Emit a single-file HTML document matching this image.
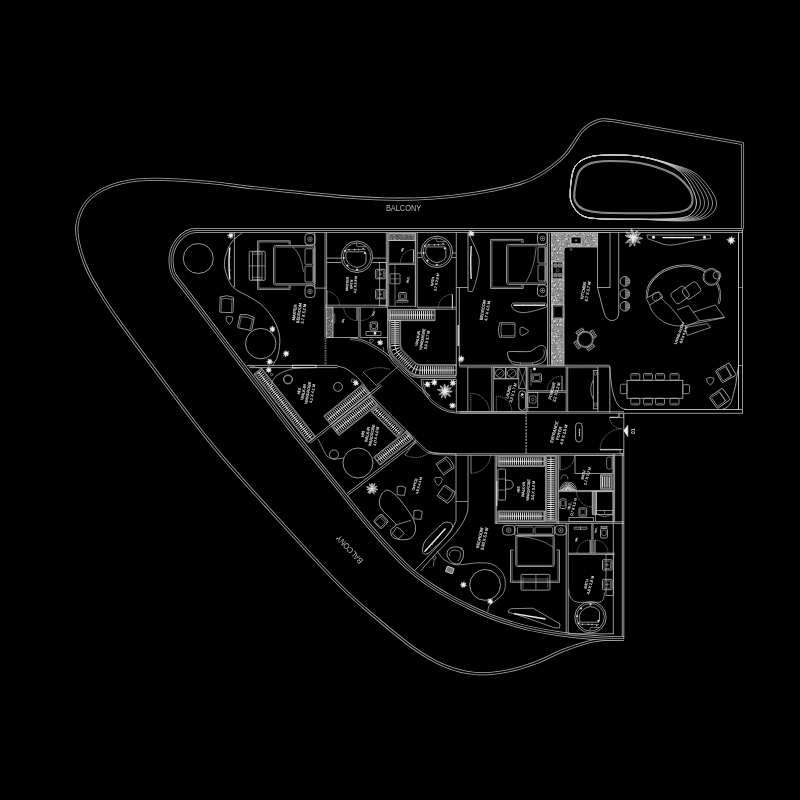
<!DOCTYPE html><html><head><meta charset="utf-8"><style>html,body{margin:0;padding:0;background:#000;width:800px;height:800px;overflow:hidden}svg{display:block;will-change:transform}</style></head><body><svg width="800" height="800" viewBox="0 0 800 800" font-family="Liberation Sans, sans-serif"><path d="M623.00,638.60 C618.33,638.93 604.67,638.73 595.00,640.60 C585.33,642.47 575.00,646.07 565.00,649.80 C555.00,653.53 545.00,659.38 535.00,663.00 C525.00,666.62 515.00,669.75 505.00,671.50 C495.00,673.25 485.00,674.42 475.00,673.50 C465.00,672.58 455.00,670.08 445.00,666.00 C435.00,661.92 426.25,656.83 415.00,649.00 C403.75,641.17 390.00,629.58 377.50,619.00 C365.00,608.42 356.42,602.00 340.00,585.50 C323.58,569.00 300.33,543.50 279.00,520.00 C257.67,496.50 233.83,471.08 212.00,444.50 C190.17,417.92 163.50,381.08 148.00,360.50 C132.50,339.92 126.42,331.42 119.00,321.00 C111.58,310.58 108.75,306.50 103.50,298.00 C98.25,289.50 91.67,279.17 87.50,270.00 C83.33,260.83 80.25,250.50 78.50,243.00 C76.75,235.50 76.12,231.17 77.00,225.00 C77.88,218.83 80.33,211.42 83.75,206.00 C87.17,200.58 91.04,196.42 97.50,192.50 C103.96,188.58 112.92,184.71 122.50,182.50 C132.08,180.29 140.42,179.25 155.00,179.25 C169.58,179.25 194.17,181.14 210.00,182.50 C225.83,183.86 235.83,185.82 250.00,187.40 C264.17,188.98 280.00,190.50 295.00,192.00 C310.00,193.50 325.00,195.23 340.00,196.40 C355.00,197.57 370.00,198.70 385.00,199.00 C400.00,199.30 415.00,199.16 430.00,198.20 C445.00,197.24 460.00,195.72 475.00,193.25 C490.00,190.78 508.75,186.78 520.00,183.40 C531.25,180.03 535.00,177.73 542.50,173.00 C550.00,168.27 558.25,162.17 565.00,155.00 C571.75,147.83 577.38,135.75 583.00,130.00 C588.62,124.25 594.00,122.08 598.75,120.50 C603.50,118.92 607.62,120.22 611.50,120.50 C615.38,120.78 620.25,121.92 622.00,122.20 L742.5,143.5 L742.5,229" stroke="#acacac" stroke-width="3.0999999999999996" fill="none" stroke-linejoin="round"/>
<path d="M623.00,638.60 C618.33,638.93 604.67,638.73 595.00,640.60 C585.33,642.47 575.00,646.07 565.00,649.80 C555.00,653.53 545.00,659.38 535.00,663.00 C525.00,666.62 515.00,669.75 505.00,671.50 C495.00,673.25 485.00,674.42 475.00,673.50 C465.00,672.58 455.00,670.08 445.00,666.00 C435.00,661.92 426.25,656.83 415.00,649.00 C403.75,641.17 390.00,629.58 377.50,619.00 C365.00,608.42 356.42,602.00 340.00,585.50 C323.58,569.00 300.33,543.50 279.00,520.00 C257.67,496.50 233.83,471.08 212.00,444.50 C190.17,417.92 163.50,381.08 148.00,360.50 C132.50,339.92 126.42,331.42 119.00,321.00 C111.58,310.58 108.75,306.50 103.50,298.00 C98.25,289.50 91.67,279.17 87.50,270.00 C83.33,260.83 80.25,250.50 78.50,243.00 C76.75,235.50 76.12,231.17 77.00,225.00 C77.88,218.83 80.33,211.42 83.75,206.00 C87.17,200.58 91.04,196.42 97.50,192.50 C103.96,188.58 112.92,184.71 122.50,182.50 C132.08,180.29 140.42,179.25 155.00,179.25 C169.58,179.25 194.17,181.14 210.00,182.50 C225.83,183.86 235.83,185.82 250.00,187.40 C264.17,188.98 280.00,190.50 295.00,192.00 C310.00,193.50 325.00,195.23 340.00,196.40 C355.00,197.57 370.00,198.70 385.00,199.00 C400.00,199.30 415.00,199.16 430.00,198.20 C445.00,197.24 460.00,195.72 475.00,193.25 C490.00,190.78 508.75,186.78 520.00,183.40 C531.25,180.03 535.00,177.73 542.50,173.00 C550.00,168.27 558.25,162.17 565.00,155.00 C571.75,147.83 577.38,135.75 583.00,130.00 C588.62,124.25 594.00,122.08 598.75,120.50 C603.50,118.92 607.62,120.22 611.50,120.50 C615.38,120.78 620.25,121.92 622.00,122.20 L742.5,143.5 L742.5,229" stroke="#000" stroke-width="1.4999999999999998" fill="none" stroke-linejoin="round"/>
<text transform="translate(403.50 208.60) rotate(0) scale(0.9 1)" font-size="8.2" fill="#bcbcbc" stroke="#bcbcbc" stroke-width="0" text-anchor="middle"><tspan x="0" y="2.87">BALCONY</tspan></text>
<text transform="translate(349.50 549.50) rotate(-133) scale(0.9 1)" font-size="8.2" fill="#bcbcbc" stroke="#bcbcbc" stroke-width="0" text-anchor="middle"><tspan x="0" y="2.87">BALCONY</tspan></text>
<path d="M574.40,192.50 C574.98,187.50 576.40,176.83 579.00,172.00 C581.60,167.17 585.04,165.35 590.00,163.50 C594.96,161.65 600.42,160.98 608.75,160.90 C617.08,160.82 629.46,160.94 640.00,163.00 C650.54,165.06 664.17,169.42 672.00,173.25 C679.83,177.08 683.58,181.88 687.00,186.00 C690.42,190.12 692.17,194.33 692.50,198.00 C692.83,201.67 691.92,205.58 689.00,208.00 C686.08,210.42 683.17,211.63 675.00,212.50 C666.83,213.37 652.50,213.20 640.00,213.20 C627.50,213.20 609.50,213.20 600.00,212.50 C590.50,211.80 587.08,210.75 583.00,209.00 C578.92,207.25 576.93,204.75 575.50,202.00 C574.07,199.25 573.82,197.50 574.40,192.50Z" stroke="#9a9a9a" stroke-width="2.0" fill="none" />
<path d="M574.40,192.50 C574.98,187.50 576.40,176.83 579.00,172.00 C581.60,167.17 585.04,165.35 590.00,163.50 C594.96,161.65 600.42,160.98 608.75,160.90 C617.08,160.82 629.46,160.94 640.00,163.00 C650.54,165.06 664.17,169.42 672.00,173.25 C679.83,177.08 683.58,181.88 687.00,186.00 C690.42,190.12 692.17,194.33 692.50,198.00 C692.83,201.67 691.92,205.58 689.00,208.00 C686.08,210.42 683.17,211.63 675.00,212.50 C666.83,213.37 652.50,213.20 640.00,213.20 C627.50,213.20 609.50,213.20 600.00,212.50 C590.50,211.80 587.08,210.75 583.00,209.00 C578.92,207.25 576.93,204.75 575.50,202.00 C574.07,199.25 573.82,197.50 574.40,192.50Z" stroke="#5a5a5a" stroke-width="0.5" fill="none" />
<path d="M570.30,190.00 C570.72,183.92 571.55,172.92 574.50,167.50 C577.45,162.08 582.29,159.58 588.00,157.50 C593.71,155.42 600.08,155.17 608.75,155.00 C617.42,154.83 629.79,154.75 640.00,156.50 C650.21,158.25 662.33,161.92 670.00,165.50 C677.67,169.08 681.67,172.42 686.00,178.00 C690.33,183.58 694.83,193.33 696.00,199.00 C697.17,204.67 695.67,208.83 693.00,212.00 C690.33,215.17 688.83,216.78 680.00,218.00 C671.17,219.22 653.33,219.17 640.00,219.30 C626.67,219.43 609.67,219.43 600.00,218.80 C590.33,218.17 586.67,217.97 582.00,215.50 C577.33,213.03 573.95,208.25 572.00,204.00 C570.05,199.75 569.88,196.08 570.30,190.00Z" stroke="#e6e6e6" stroke-width="0.9" fill="none" />
<path d="M570.30,190.00 C570.72,183.92 571.55,172.92 574.50,167.50 C577.45,162.08 582.29,159.58 588.00,157.50 C593.71,155.42 600.08,155.17 608.75,155.00 C617.42,154.83 629.74,154.80 640.00,156.50 C650.26,158.20 662.29,161.74 670.33,165.22 C678.38,168.70 683.33,171.72 688.27,177.37 C693.22,183.03 698.65,193.26 699.99,199.14 C701.33,205.03 699.42,209.44 696.32,212.68 C693.23,215.92 690.80,217.47 681.41,218.57 C672.02,219.67 653.57,219.26 640.00,219.30 C626.43,219.34 609.67,219.43 600.00,218.80 C590.33,218.17 586.67,217.97 582.00,215.50 C577.33,213.03 573.95,208.25 572.00,204.00 C570.05,199.75 569.88,196.08 570.30,190.00Z" stroke="#cfcfcf" stroke-width="0.7" fill="none" />
<path d="M570.30,190.00 C570.72,183.92 571.55,172.92 574.50,167.50 C577.45,162.08 582.29,159.58 588.00,157.50 C593.71,155.42 600.08,155.17 608.75,155.00 C617.42,154.83 629.68,154.84 640.00,156.50 C650.32,158.16 662.24,161.56 670.67,164.94 C679.09,168.31 685.00,171.02 690.55,176.75 C696.10,182.47 702.47,193.18 703.98,199.29 C705.50,205.39 703.18,210.05 699.65,213.36 C696.12,216.67 692.76,218.15 682.82,219.14 C672.88,220.13 653.80,219.36 640.00,219.30 C626.20,219.24 609.67,219.43 600.00,218.80 C590.33,218.17 586.67,217.97 582.00,215.50 C577.33,213.03 573.95,208.25 572.00,204.00 C570.05,199.75 569.88,196.08 570.30,190.00Z" stroke="#cfcfcf" stroke-width="0.7" fill="none" />
<path d="M570.30,190.00 C570.72,183.92 571.55,172.92 574.50,167.50 C577.45,162.08 582.29,159.58 588.00,157.50 C593.71,155.42 600.08,155.17 608.75,155.00 C617.42,154.83 629.62,154.89 640.00,156.50 C650.38,158.11 662.20,161.39 671.00,164.66 C679.81,167.93 686.66,170.33 692.82,176.12 C698.99,181.92 706.28,193.11 707.97,199.43 C709.67,205.75 706.93,210.66 702.97,214.04 C699.02,217.42 694.73,218.83 684.23,219.71 C673.74,220.58 654.04,219.45 640.00,219.30 C625.96,219.15 609.67,219.43 600.00,218.80 C590.33,218.17 586.67,217.97 582.00,215.50 C577.33,213.03 573.95,208.25 572.00,204.00 C570.05,199.75 569.88,196.08 570.30,190.00Z" stroke="#cfcfcf" stroke-width="0.7" fill="none" />
<path d="M570.30,190.00 C570.72,183.92 571.55,172.92 574.50,167.50 C577.45,162.08 582.29,159.58 588.00,157.50 C593.71,155.42 600.08,155.17 608.75,155.00 C617.42,154.83 629.57,154.94 640.00,156.50 C650.43,158.06 662.15,161.21 671.34,164.38 C680.52,167.54 688.33,169.63 695.10,175.50 C701.87,181.36 710.10,193.04 711.97,199.57 C713.83,206.11 710.69,211.27 706.30,214.72 C701.91,218.17 696.69,219.51 685.64,220.28 C674.59,221.04 654.27,219.55 640.00,219.30 C625.73,219.05 609.67,219.43 600.00,218.80 C590.33,218.17 586.67,217.97 582.00,215.50 C577.33,213.03 573.95,208.25 572.00,204.00 C570.05,199.75 569.88,196.08 570.30,190.00Z" stroke="#cfcfcf" stroke-width="0.7" fill="none" />
<path d="M570.30,190.00 C570.72,183.92 571.55,172.92 574.50,167.50 C577.45,162.08 582.29,159.58 588.00,157.50 C593.71,155.42 600.08,155.17 608.75,155.00 C617.42,154.83 629.51,154.98 640.00,156.50 C650.49,158.02 662.11,161.04 671.67,164.10 C681.23,167.16 689.99,168.94 697.37,174.87 C704.76,180.81 713.92,192.96 715.96,199.72 C718.00,206.47 714.44,211.88 709.62,215.40 C704.81,218.92 698.66,220.20 687.06,220.85 C675.45,221.50 654.51,219.64 640.00,219.30 C625.49,218.96 609.67,219.43 600.00,218.80 C590.33,218.17 586.67,217.97 582.00,215.50 C577.33,213.03 573.95,208.25 572.00,204.00 C570.05,199.75 569.88,196.08 570.30,190.00Z" stroke="#cfcfcf" stroke-width="0.7" fill="none" />
<path d="M742.5,230.5 L196,230.5 C183,230.5 171,245 171,260 C171,266 172,271 174.5,276  C177.58,280.00 183.75,287.83 193.00,300.00 C202.25,312.17 218.50,333.83 230.00,349.00 C241.50,364.17 252.00,377.83 262.00,391.00 C272.00,404.17 281.00,416.50 290.00,428.00 C299.00,439.50 307.50,449.50 316.00,460.00 C324.50,470.50 332.00,479.83 341.00,491.00 C350.00,502.17 361.83,517.25 370.00,527.00 C378.17,536.75 383.33,542.42 390.00,549.50 C396.67,556.58 403.33,563.62 410.00,569.50 C416.67,575.38 423.33,580.22 430.00,584.80 C436.67,589.38 443.33,593.27 450.00,597.00 C456.67,600.73 463.33,604.00 470.00,607.20 C476.67,610.40 483.33,613.57 490.00,616.20 C496.67,618.83 503.33,620.95 510.00,623.00 C516.67,625.05 521.67,626.70 530.00,628.50 C538.33,630.30 548.33,632.25 560.00,633.80 C571.67,635.35 589.33,637.02 600.00,637.80 C610.67,638.58 620.00,638.38 624.00,638.50" stroke="#bcbcbc" stroke-width="4.85" fill="none" stroke-linejoin="round"/>
<path d="M742.5,230.5 L196,230.5 C183,230.5 171,245 171,260 C171,266 172,271 174.5,276  C177.58,280.00 183.75,287.83 193.00,300.00 C202.25,312.17 218.50,333.83 230.00,349.00 C241.50,364.17 252.00,377.83 262.00,391.00 C272.00,404.17 281.00,416.50 290.00,428.00 C299.00,439.50 307.50,449.50 316.00,460.00 C324.50,470.50 332.00,479.83 341.00,491.00 C350.00,502.17 361.83,517.25 370.00,527.00 C378.17,536.75 383.33,542.42 390.00,549.50 C396.67,556.58 403.33,563.62 410.00,569.50 C416.67,575.38 423.33,580.22 430.00,584.80 C436.67,589.38 443.33,593.27 450.00,597.00 C456.67,600.73 463.33,604.00 470.00,607.20 C476.67,610.40 483.33,613.57 490.00,616.20 C496.67,618.83 503.33,620.95 510.00,623.00 C516.67,625.05 521.67,626.70 530.00,628.50 C538.33,630.30 548.33,632.25 560.00,633.80 C571.67,635.35 589.33,637.02 600.00,637.80 C610.67,638.58 620.00,638.38 624.00,638.50" stroke="#000" stroke-width="3.3499999999999996" fill="none" stroke-linejoin="round"/>
<path d="M742.5,230.5 L196,230.5 C183,230.5 171,245 171,260 C171,266 172,271 174.5,276  C177.58,280.00 183.75,287.83 193.00,300.00 C202.25,312.17 218.50,333.83 230.00,349.00 C241.50,364.17 252.00,377.83 262.00,391.00 C272.00,404.17 281.00,416.50 290.00,428.00 C299.00,439.50 307.50,449.50 316.00,460.00 C324.50,470.50 332.00,479.83 341.00,491.00 C350.00,502.17 361.83,517.25 370.00,527.00 C378.17,536.75 383.33,542.42 390.00,549.50 C396.67,556.58 403.33,563.62 410.00,569.50 C416.67,575.38 423.33,580.22 430.00,584.80 C436.67,589.38 443.33,593.27 450.00,597.00 C456.67,600.73 463.33,604.00 470.00,607.20 C476.67,610.40 483.33,613.57 490.00,616.20 C496.67,618.83 503.33,620.95 510.00,623.00 C516.67,625.05 521.67,626.70 530.00,628.50 C538.33,630.30 548.33,632.25 560.00,633.80 C571.67,635.35 589.33,637.02 600.00,637.80 C610.67,638.58 620.00,638.38 624.00,638.50" stroke="#bcbcbc" stroke-width="0.75" fill="none" stroke-linejoin="round"/>
<line x1="742.50" y1="229.00" x2="742.50" y2="413.50" stroke="#bcbcbc" stroke-width="0.8"/>
<line x1="738.50" y1="232.50" x2="738.50" y2="409.50" stroke="#bcbcbc" stroke-width="1.0"/>
<line x1="624.00" y1="409.50" x2="742.50" y2="409.50" stroke="#bcbcbc" stroke-width="0.8"/>
<line x1="624.00" y1="413.30" x2="742.50" y2="413.30" stroke="#bcbcbc" stroke-width="0.8"/>
<line x1="623.80" y1="413.00" x2="623.80" y2="639.00" stroke="#bcbcbc" stroke-width="0.8"/>
<line x1="622.30" y1="453.80" x2="622.30" y2="636.00" stroke="#bcbcbc" stroke-width="0.8"/>
<circle cx="198.30" cy="258.50" r="15.00" stroke="#bcbcbc" stroke-width="0.8" fill="none"/>
<path d="M242.60,232.50 C240.67,234.25 234.02,238.22 231.00,243.00 C227.98,247.78 225.17,255.70 224.50,261.20 C223.83,266.70 225.35,271.47 227.00,276.00 C228.65,280.53 230.45,284.82 234.40,288.40 C238.35,291.98 245.87,294.48 250.70,297.50 C255.53,300.52 259.47,302.58 263.40,306.50 C267.33,310.42 271.58,315.87 274.30,321.00 C277.02,326.13 279.10,331.57 279.70,337.30 C280.30,343.03 279.10,350.70 277.90,355.40 C276.70,360.10 273.40,363.82 272.50,365.50" stroke="#bcbcbc" stroke-width="0.8" fill="none" />
<line x1="234.40" y1="232.50" x2="234.40" y2="287.50" stroke="#bcbcbc" stroke-width="0.8"/>
<path d="M229.8,247.5 Q228.2,263 229.8,279.5" stroke="#f0f0f0" stroke-width="1.4" fill="none" />
<line x1="228.50" y1="257.00" x2="231.00" y2="257.00" stroke="#bcbcbc" stroke-width="0.6"/>
<line x1="228.30" y1="270.00" x2="231.00" y2="270.00" stroke="#bcbcbc" stroke-width="0.6"/>
<path d="M233.66,235.83 L231.99,236.34 L232.66,238.04 L231.39,237.09 L230.77,238.74 L230.24,236.89 L228.07,237.81 L229.43,236.12 L227.21,235.03 L229.47,234.81 L229.38,233.23 L230.53,234.12 L230.90,232.77 L231.59,234.04 L233.22,233.39 L232.30,235.24Z" fill="#ededed" stroke="#ededed" stroke-width="0.4"/>
<rect x="249.20" y="251.30" width="16.00" height="29.00" rx="1.20" stroke="#bcbcbc" stroke-width="0.8" fill="none"/>
<line x1="252.50" y1="252.50" x2="252.50" y2="279.20" stroke="#bcbcbc" stroke-width="0.6"/>
<line x1="262.00" y1="252.50" x2="262.00" y2="279.20" stroke="#bcbcbc" stroke-width="0.6"/>
<line x1="249.20" y1="265.80" x2="265.20" y2="265.80" stroke="#bcbcbc" stroke-width="0.6"/>
<rect x="252.50" y="252.00" width="9.50" height="2.20" rx="0.30" stroke="#bcbcbc" stroke-width="0.5" fill="none"/>
<rect x="252.50" y="277.30" width="9.50" height="2.20" rx="0.30" stroke="#bcbcbc" stroke-width="0.5" fill="none"/>
<path d="M290.2,244.6 L290.2,240.8 L257.6,240.8 L257.6,289.4 L290.2,289.4 L290.2,285.6" stroke="#bcbcbc" stroke-width="0.8" fill="none" />
<path d="M289,244.6 L289,242 L258.9,242 L258.9,288.2 L289,288.2 L289,285.6" stroke="#bcbcbc" stroke-width="0.6" fill="none" />
<rect x="273.50" y="245.60" width="41.50" height="39.40" rx="2.20" stroke="#bcbcbc" stroke-width="0.8" fill="none"/>
<rect x="275.00" y="247.00" width="38.50" height="36.60" rx="1.50" stroke="#bcbcbc" stroke-width="0.6" fill="none"/>
<rect x="305.00" y="248.70" width="8.00" height="15.60" rx="1.00" stroke="#bcbcbc" stroke-width="0.7" fill="none"/>
<rect x="305.00" y="266.20" width="8.00" height="15.80" rx="1.00" stroke="#bcbcbc" stroke-width="0.7" fill="none"/>
<path d="M292.5,246.8 Q301.5,254 303.4,272" stroke="#bcbcbc" stroke-width="0.6" fill="none" />
<rect x="305.00" y="233.60" width="10.00" height="11.20" rx="3.20" stroke="#bcbcbc" stroke-width="0.8" fill="none"/>
<circle cx="310.00" cy="239.20" r="2.30" stroke="#bcbcbc" stroke-width="0.6" fill="none"/>
<line x1="308.40" y1="239.20" x2="311.60" y2="239.20" stroke="#bcbcbc" stroke-width="0.5"/>
<line x1="310.00" y1="237.60" x2="310.00" y2="240.80" stroke="#bcbcbc" stroke-width="0.5"/>
<rect x="305.00" y="285.60" width="10.00" height="11.80" rx="3.20" stroke="#bcbcbc" stroke-width="0.8" fill="none"/>
<circle cx="310.00" cy="291.40" r="2.30" stroke="#bcbcbc" stroke-width="0.6" fill="none"/>
<line x1="308.40" y1="291.40" x2="311.60" y2="291.40" stroke="#bcbcbc" stroke-width="0.5"/>
<line x1="310.00" y1="289.80" x2="310.00" y2="293.00" stroke="#bcbcbc" stroke-width="0.5"/>
<g transform="translate(226.60 304.20) rotate(2)">
<path d="M-6.70,-7.05 L-6.70,7.25 Q-6.70,8.25 -5.70,8.25 L5.70,8.25 Q6.70,8.25 6.70,7.25 L6.70,-7.05 Q0,-9.85 -6.70,-7.05 Z" stroke="#bcbcbc" stroke-width="0.75" fill="none" />
<path d="M-6.10,-5.05 Q0,-6.65 6.10,-5.05" stroke="#bcbcbc" stroke-width="0.6" fill="none" />
<path d="M-5.10,-5.25 L-5.10,7.65 M5.10,-5.25 L5.10,7.65" stroke="#bcbcbc" stroke-width="0.5" fill="none" />
</g>
<g transform="translate(246.00 322.00) rotate(12)">
<path d="M-7.25,-6.05 L-7.25,6.25 Q-7.25,7.25 -6.25,7.25 L6.25,7.25 Q7.25,7.25 7.25,6.25 L7.25,-6.05 Q0,-8.85 -7.25,-6.05 Z" stroke="#bcbcbc" stroke-width="0.75" fill="none" />
<path d="M-6.65,-4.05 Q0,-5.65 6.65,-4.05" stroke="#bcbcbc" stroke-width="0.6" fill="none" />
<path d="M-5.65,-4.25 L-5.65,6.65 M5.65,-4.25 L5.65,6.65" stroke="#bcbcbc" stroke-width="0.5" fill="none" />
</g>
<path d="M226,317 Q229,315.5 232.8,317.3 Q233.5,320.5 229.5,324.5 Q225,321 226,317Z" stroke="#bcbcbc" stroke-width="0.7" fill="none" />
<circle cx="260.70" cy="343.60" r="15.20" stroke="#bcbcbc" stroke-width="0.8" fill="none"/>
<path d="M275.25,329.58 L273.84,329.78 L274.31,331.76 L273.01,330.76 L272.16,332.19 L271.55,330.61 L270.05,331.37 L270.78,329.66 L269.55,328.66 L271.36,328.36 L270.33,326.52 L271.95,327.70 L272.53,325.84 L273.40,327.84 L275.05,327.58 L274.11,328.84Z" fill="#ededed" stroke="#ededed" stroke-width="0.4"/>
<path d="M289.12,354.06 L287.49,354.63 L288.08,356.24 L286.63,355.18 L285.41,357.23 L285.16,354.84 L283.40,355.74 L284.54,354.20 L283.17,353.48 L284.41,352.91 L283.98,351.44 L285.48,351.90 L286.06,350.45 L286.90,352.06 L288.97,351.65 L287.48,353.10Z" fill="#ededed" stroke="#ededed" stroke-width="0.4"/>
<path d="M273.35,362.12 L270.96,362.65 L271.79,363.97 L270.32,363.30 L269.36,364.74 L269.20,363.24 L267.29,363.89 L268.13,362.06 L266.51,361.37 L268.63,361.06 L267.96,358.86 L269.50,360.08 L270.10,358.71 L270.48,360.28 L271.80,359.86 L271.16,361.32Z" fill="#ededed" stroke="#ededed" stroke-width="0.4"/>
<path d="M271.56,370.24 L270.12,370.55 L270.91,372.22 L269.47,371.65 L268.36,372.83 L268.13,371.37 L266.62,371.82 L266.99,370.33 L265.64,369.63 L267.51,369.43 L266.88,367.72 L268.53,368.59 L268.82,366.37 L269.52,368.76 L270.99,368.34 L270.57,369.53Z" fill="#ededed" stroke="#ededed" stroke-width="0.4"/>
<circle cx="271.50" cy="374.60" r="1.20" stroke="#bcbcbc" stroke-width="0.6" fill="none"/>
<text transform="translate(299.00 313.00) rotate(-82) scale(1.0 1)" font-size="3.9" fill="#d6d6d6" stroke="#d6d6d6" stroke-width="0.18" text-anchor="middle"><tspan x="0" y="-3.23">MASTER</tspan><tspan x="0" y="1.36">BEDROOM</tspan><tspan x="0" y="5.96">5.7 X 5.2 M</tspan></text>
<line x1="314.80" y1="232.50" x2="314.80" y2="288.10" stroke="#bcbcbc" stroke-width="0.8"/>
<line x1="314.80" y1="288.10" x2="326.20" y2="288.10" stroke="#bcbcbc" stroke-width="0.8"/>
<line x1="325.00" y1="232.50" x2="325.00" y2="337.50" stroke="#bcbcbc" stroke-width="0.8"/>
<line x1="326.60" y1="232.50" x2="326.60" y2="307.00" stroke="#bcbcbc" stroke-width="0.8"/>
<path d="M325.5,338 L325.5,365" stroke="#bcbcbc" stroke-width="1.6" fill="none" stroke-dasharray="1.4 1"/>
<path d="M325.5,338 L325.5,365" stroke="#000" stroke-width="0.5" fill="none" stroke-dasharray="1.4 1"/>
<line x1="247.00" y1="365.40" x2="337.50" y2="365.40" stroke="#bcbcbc" stroke-width="0.8"/>
<line x1="249.00" y1="367.60" x2="337.50" y2="367.60" stroke="#bcbcbc" stroke-width="0.8"/>
<rect x="292.50" y="365.20" width="23.50" height="2.50" rx="0.00" stroke="#e0e0e0" stroke-width="0.8" fill="none"/>
<g transform="translate(357.00 256.80) scale(1 1)">
<circle cx="0.00" cy="0.00" r="15.70" stroke="#bcbcbc" stroke-width="0.8" fill="none"/>
<circle cx="0.00" cy="0.00" r="13.80" stroke="#bcbcbc" stroke-width="0.7" fill="none"/>
<path d="M-10.4,-5 L7.6,-5 Q9,-4.6 9,-3 L9,5 Q8,9.2 0,10.7 Q-8,9.6 -11,2 Q-11.6,-3 -10.4,-5 Z" stroke="#bcbcbc" stroke-width="0.75" fill="none" />
<path d="M-1,-14.2 L0,-10.2 L9.6,-10.2" stroke="#bcbcbc" stroke-width="0.6" fill="none" />
<path d="M-11.5,-7 L8.5,-7.3" stroke="#bcbcbc" stroke-width="0.6" fill="none" />
<circle cx="-11.90" cy="-5.90" r="0.85" stroke="#eee" stroke-width="0.3" fill="#eee"/>
<circle cx="-13.30" cy="1.00" r="0.85" stroke="#eee" stroke-width="0.3" fill="#eee"/>
<circle cx="-9.50" cy="8.80" r="0.85" stroke="#eee" stroke-width="0.3" fill="#eee"/>
<circle cx="0.00" cy="12.90" r="0.85" stroke="#eee" stroke-width="0.3" fill="#eee"/>
<circle cx="7.90" cy="-3.60" r="0.85" stroke="#eee" stroke-width="0.3" fill="#eee"/>
<circle cx="-8.00" cy="-7.10" r="0.60" stroke="#ddd" stroke-width="0.3" fill="#ddd"/>
<circle cx="-2.30" cy="-7.10" r="0.60" stroke="#ddd" stroke-width="0.3" fill="#ddd"/>
<circle cx="1.50" cy="-7.20" r="0.60" stroke="#ddd" stroke-width="0.3" fill="#ddd"/>
<circle cx="6.20" cy="-8.40" r="0.60" stroke="#ddd" stroke-width="0.3" fill="#ddd"/>
</g>
<line x1="326.60" y1="258.10" x2="341.30" y2="258.10" stroke="#bcbcbc" stroke-width="0.8"/>
<line x1="326.60" y1="262.50" x2="341.30" y2="262.50" stroke="#bcbcbc" stroke-width="0.8"/>
<line x1="372.50" y1="258.10" x2="386.20" y2="258.10" stroke="#bcbcbc" stroke-width="0.8"/>
<line x1="372.50" y1="262.50" x2="386.20" y2="262.50" stroke="#bcbcbc" stroke-width="0.8"/>
<rect x="379.40" y="262.50" width="6.90" height="43.20" rx="0.00" stroke="#bcbcbc" stroke-width="0.7" fill="none"/>
<rect x="375.60" y="269.40" width="9.40" height="9.40" rx="0.80" stroke="#bcbcbc" stroke-width="0.8" fill="none"/>
<rect x="377.00" y="270.80" width="6.60" height="6.60" rx="0.50" stroke="#bcbcbc" stroke-width="0.5" fill="none"/>
<line x1="380.30" y1="272.40" x2="380.30" y2="275.90" stroke="#bcbcbc" stroke-width="0.5"/>
<line x1="378.50" y1="274.10" x2="382.50" y2="274.10" stroke="#bcbcbc" stroke-width="0.5"/>
<rect x="375.60" y="289.40" width="9.40" height="9.40" rx="0.80" stroke="#bcbcbc" stroke-width="0.8" fill="none"/>
<rect x="377.00" y="290.80" width="6.60" height="6.60" rx="0.50" stroke="#bcbcbc" stroke-width="0.5" fill="none"/>
<line x1="380.30" y1="292.40" x2="380.30" y2="295.90" stroke="#bcbcbc" stroke-width="0.5"/>
<line x1="378.50" y1="294.10" x2="382.50" y2="294.10" stroke="#bcbcbc" stroke-width="0.5"/>
<path d="M327,291.2 A14.4,14.4 0 0 1 339.6,305.4" stroke="#bcbcbc" stroke-width="0.6" fill="none" stroke-dasharray="1.2 0.7"/>
<line x1="327.00" y1="291.20" x2="327.00" y2="305.50" stroke="#bcbcbc" stroke-width="0.6"/>
<line x1="325.00" y1="305.20" x2="387.50" y2="305.20" stroke="#bcbcbc" stroke-width="0.8"/>
<line x1="325.00" y1="307.20" x2="387.50" y2="307.20" stroke="#bcbcbc" stroke-width="0.8"/>
<line x1="386.30" y1="232.50" x2="386.30" y2="307.20" stroke="#bcbcbc" stroke-width="0.8"/>
<line x1="387.60" y1="232.50" x2="387.60" y2="307.20" stroke="#bcbcbc" stroke-width="0.8"/>
<text transform="translate(351.30 284.20) rotate(-86) scale(1.0 1)" font-size="3.4" fill="#d6d6d6" stroke="#d6d6d6" stroke-width="0.18" text-anchor="middle"><tspan x="0" y="-2.91">MASTER</tspan><tspan x="0" y="1.19">BATH</tspan><tspan x="0" y="5.29">4.2 X 3.8 M</tspan></text>
<defs><pattern id="gp" width="36" height="36" patternUnits="userSpaceOnUse"><rect width="36" height="36" fill="#8c8c8c"/><path d="M30.4,24.5h0.8v0.8h-0.8zM9.2,12.9h0.8v0.8h-0.8zM5.9,27.2h0.8v0.8h-0.8zM18.7,27.4h0.8v0.8h-0.8zM11.6,7.9h0.8v0.8h-0.8zM28.6,34.7h0.8v0.8h-0.8zM30.0,28.4h0.8v0.8h-0.8zM28.8,26.0h0.8v0.8h-0.8zM8.0,18.2h0.8v0.8h-0.8zM12.5,1.0h0.8v0.8h-0.8zM1.0,9.8h0.8v0.8h-0.8zM9.1,24.4h0.8v0.8h-0.8zM33.7,15.7h0.8v0.8h-0.8zM33.0,34.8h0.8v0.8h-0.8zM33.6,12.8h0.8v0.8h-0.8zM7.8,8.0h0.8v0.8h-0.8zM6.9,7.2h0.8v0.8h-0.8zM22.0,31.7h0.8v0.8h-0.8zM29.6,16.9h0.8v0.8h-0.8zM23.0,28.1h0.8v0.8h-0.8zM3.0,23.3h0.8v0.8h-0.8zM32.0,27.5h0.8v0.8h-0.8zM26.4,16.8h0.8v0.8h-0.8zM6.3,27.8h0.8v0.8h-0.8zM11.7,28.2h0.8v0.8h-0.8zM34.2,13.9h0.8v0.8h-0.8zM14.1,33.3h0.8v0.8h-0.8zM25.5,6.0h0.8v0.8h-0.8zM4.5,5.3h0.8v0.8h-0.8zM31.9,28.4h0.8v0.8h-0.8zM5.1,29.1h0.8v0.8h-0.8zM34.5,23.1h0.8v0.8h-0.8zM12.3,19.3h0.8v0.8h-0.8zM4.6,0.5h0.8v0.8h-0.8zM34.2,22.9h0.8v0.8h-0.8zM18.5,32.9h0.8v0.8h-0.8zM15.3,30.7h0.8v0.8h-0.8zM29.1,7.4h0.8v0.8h-0.8zM8.9,10.3h0.8v0.8h-0.8zM8.5,20.6h0.8v0.8h-0.8zM9.1,14.7h0.8v0.8h-0.8zM4.6,32.0h0.8v0.8h-0.8zM12.5,16.1h0.8v0.8h-0.8zM20.5,31.8h0.8v0.8h-0.8zM14.8,32.3h0.8v0.8h-0.8zM17.7,18.7h0.8v0.8h-0.8zM18.4,0.7h0.8v0.8h-0.8zM15.5,6.4h0.8v0.8h-0.8zM0.1,28.1h0.8v0.8h-0.8zM6.1,16.7h0.8v0.8h-0.8zM25.5,19.6h0.8v0.8h-0.8zM11.5,18.2h0.8v0.8h-0.8zM19.6,27.6h0.8v0.8h-0.8zM3.7,19.7h0.8v0.8h-0.8zM8.7,9.7h0.8v0.8h-0.8zM27.2,17.9h0.8v0.8h-0.8zM19.8,26.8h0.8v0.8h-0.8zM32.1,15.6h0.8v0.8h-0.8zM21.6,17.8h0.8v0.8h-0.8zM18.0,24.4h0.8v0.8h-0.8zM15.9,18.8h0.8v0.8h-0.8zM16.8,33.1h0.8v0.8h-0.8zM24.6,30.9h0.8v0.8h-0.8zM33.2,9.1h0.8v0.8h-0.8zM19.7,33.2h0.8v0.8h-0.8zM29.6,4.8h0.8v0.8h-0.8zM4.3,15.6h0.8v0.8h-0.8zM2.6,8.5h0.8v0.8h-0.8zM2.6,23.6h0.8v0.8h-0.8zM27.6,31.6h0.8v0.8h-0.8zM5.4,25.2h0.8v0.8h-0.8zM23.2,5.0h0.8v0.8h-0.8zM31.1,34.1h0.8v0.8h-0.8zM7.7,33.5h0.8v0.8h-0.8zM14.0,17.2h0.8v0.8h-0.8zM34.8,29.3h0.8v0.8h-0.8zM5.7,15.2h0.8v0.8h-0.8zM18.1,11.9h0.8v0.8h-0.8zM6.9,11.2h0.8v0.8h-0.8zM25.4,0.7h0.8v0.8h-0.8zM19.5,15.5h0.8v0.8h-0.8zM0.6,11.7h0.8v0.8h-0.8zM22.0,18.0h0.8v0.8h-0.8zM2.3,34.7h0.8v0.8h-0.8zM27.8,34.2h0.8v0.8h-0.8zM3.7,9.3h0.8v0.8h-0.8zM1.4,27.4h0.8v0.8h-0.8zM9.5,4.6h0.8v0.8h-0.8zM14.9,32.1h0.8v0.8h-0.8zM28.8,9.1h0.8v0.8h-0.8zM5.3,32.4h0.8v0.8h-0.8zM20.1,24.7h0.8v0.8h-0.8zM3.1,2.0h0.8v0.8h-0.8zM24.2,15.0h0.8v0.8h-0.8zM2.5,33.0h0.8v0.8h-0.8zM22.3,28.2h0.8v0.8h-0.8zM2.9,30.1h0.8v0.8h-0.8zM2.3,30.4h0.8v0.8h-0.8zM16.0,11.9h0.8v0.8h-0.8zM19.5,32.6h0.8v0.8h-0.8zM9.4,4.5h0.8v0.8h-0.8zM18.5,8.4h0.8v0.8h-0.8zM3.9,5.7h0.8v0.8h-0.8zM1.8,7.1h0.8v0.8h-0.8zM11.0,10.7h0.8v0.8h-0.8zM26.7,10.2h0.8v0.8h-0.8zM17.6,6.3h0.8v0.8h-0.8zM12.2,0.6h0.8v0.8h-0.8zM8.8,0.5h0.8v0.8h-0.8zM25.8,19.4h0.8v0.8h-0.8zM6.7,16.7h0.8v0.8h-0.8zM32.9,3.7h0.8v0.8h-0.8zM28.8,15.2h0.8v0.8h-0.8zM17.4,29.4h0.8v0.8h-0.8zM13.8,17.8h0.8v0.8h-0.8zM24.2,34.6h0.8v0.8h-0.8zM12.1,29.3h0.8v0.8h-0.8zM24.9,22.4h0.8v0.8h-0.8zM14.2,12.2h0.8v0.8h-0.8zM1.9,4.6h0.8v0.8h-0.8zM2.5,26.1h0.8v0.8h-0.8zM9.0,5.7h0.8v0.8h-0.8zM3.0,29.6h0.8v0.8h-0.8zM30.6,23.6h0.8v0.8h-0.8zM9.9,8.5h0.8v0.8h-0.8zM10.3,16.2h0.8v0.8h-0.8zM5.5,15.7h0.8v0.8h-0.8zM9.3,33.9h0.8v0.8h-0.8zM34.2,19.3h0.8v0.8h-0.8zM8.6,34.0h0.8v0.8h-0.8zM10.9,12.6h0.8v0.8h-0.8zM0.0,13.4h0.8v0.8h-0.8zM16.7,17.7h0.8v0.8h-0.8zM7.1,17.8h0.8v0.8h-0.8zM0.2,9.3h0.8v0.8h-0.8zM3.2,14.1h0.8v0.8h-0.8zM1.5,0.8h0.8v0.8h-0.8zM10.7,8.2h0.8v0.8h-0.8zM20.6,18.6h0.8v0.8h-0.8zM26.4,23.1h0.8v0.8h-0.8zM25.2,30.9h0.8v0.8h-0.8zM13.7,11.5h0.8v0.8h-0.8zM34.7,5.3h0.8v0.8h-0.8zM25.5,22.6h0.8v0.8h-0.8zM1.5,29.4h0.8v0.8h-0.8zM31.4,22.1h0.8v0.8h-0.8zM25.8,28.6h0.8v0.8h-0.8zM4.9,18.4h0.8v0.8h-0.8zM17.8,29.4h0.8v0.8h-0.8zM28.3,29.1h0.8v0.8h-0.8zM20.6,31.4h0.8v0.8h-0.8zM24.0,24.4h0.8v0.8h-0.8zM8.1,1.1h0.8v0.8h-0.8zM4.7,12.7h0.8v0.8h-0.8zM3.7,29.4h0.8v0.8h-0.8zM19.7,22.1h0.8v0.8h-0.8zM22.0,24.0h0.8v0.8h-0.8zM17.2,0.1h0.8v0.8h-0.8zM28.1,26.3h0.8v0.8h-0.8zM17.7,18.8h0.8v0.8h-0.8zM23.2,2.3h0.8v0.8h-0.8zM25.9,8.9h0.8v0.8h-0.8zM2.6,9.3h0.8v0.8h-0.8zM25.7,7.2h0.8v0.8h-0.8zM26.0,34.3h0.8v0.8h-0.8zM17.4,13.5h0.8v0.8h-0.8zM16.9,24.1h0.8v0.8h-0.8zM27.0,21.7h0.8v0.8h-0.8zM22.6,2.7h0.8v0.8h-0.8zM5.2,8.9h0.8v0.8h-0.8zM26.2,10.7h0.8v0.8h-0.8zM20.0,0.4h0.8v0.8h-0.8zM2.1,9.5h0.8v0.8h-0.8zM23.7,24.4h0.8v0.8h-0.8zM23.8,10.2h0.8v0.8h-0.8zM18.2,16.4h0.8v0.8h-0.8zM16.4,4.2h0.8v0.8h-0.8zM31.5,7.0h0.8v0.8h-0.8zM34.4,33.0h0.8v0.8h-0.8zM0.6,16.2h0.8v0.8h-0.8zM28.9,34.1h0.8v0.8h-0.8zM15.8,9.5h0.8v0.8h-0.8zM7.4,33.3h0.8v0.8h-0.8zM7.4,20.5h0.8v0.8h-0.8zM5.0,18.4h0.8v0.8h-0.8zM33.5,4.7h0.8v0.8h-0.8zM28.9,17.9h0.8v0.8h-0.8zM31.2,24.8h0.8v0.8h-0.8zM8.1,31.6h0.8v0.8h-0.8zM17.1,0.9h0.8v0.8h-0.8zM0.1,17.3h0.8v0.8h-0.8zM15.9,10.6h0.8v0.8h-0.8zM5.0,12.1h0.8v0.8h-0.8zM11.1,29.6h0.8v0.8h-0.8zM0.1,26.4h0.8v0.8h-0.8zM29.5,4.2h0.8v0.8h-0.8zM32.6,25.1h0.8v0.8h-0.8zM31.7,10.2h0.8v0.8h-0.8zM13.1,13.8h0.8v0.8h-0.8zM35.2,20.7h0.8v0.8h-0.8zM12.7,15.1h0.8v0.8h-0.8zM9.7,1.7h0.8v0.8h-0.8zM3.6,29.4h0.8v0.8h-0.8zM10.1,32.9h0.8v0.8h-0.8zM8.8,9.4h0.8v0.8h-0.8zM18.0,6.7h0.8v0.8h-0.8zM13.1,33.7h0.8v0.8h-0.8zM31.1,28.6h0.8v0.8h-0.8zM22.2,32.2h0.8v0.8h-0.8zM33.1,19.3h0.8v0.8h-0.8zM25.3,1.7h0.8v0.8h-0.8zM25.8,15.9h0.8v0.8h-0.8zM26.5,22.7h0.8v0.8h-0.8zM10.1,1.7h0.8v0.8h-0.8zM32.6,4.5h0.8v0.8h-0.8zM16.6,12.1h0.8v0.8h-0.8zM10.5,26.0h0.8v0.8h-0.8zM34.4,9.2h0.8v0.8h-0.8zM23.1,10.6h0.8v0.8h-0.8zM19.6,13.9h0.8v0.8h-0.8zM5.9,5.7h0.8v0.8h-0.8zM7.3,31.9h0.8v0.8h-0.8zM17.5,7.7h0.8v0.8h-0.8zM31.9,35.1h0.8v0.8h-0.8zM15.8,4.9h0.8v0.8h-0.8zM6.8,3.2h0.8v0.8h-0.8zM12.0,3.2h0.8v0.8h-0.8zM8.4,9.1h0.8v0.8h-0.8zM20.1,31.2h0.8v0.8h-0.8zM26.4,14.5h0.8v0.8h-0.8zM14.6,18.5h0.8v0.8h-0.8zM13.3,11.9h0.8v0.8h-0.8zM2.2,9.8h0.8v0.8h-0.8zM34.1,4.4h0.8v0.8h-0.8zM17.7,22.2h0.8v0.8h-0.8zM30.4,7.6h0.8v0.8h-0.8zM9.5,8.7h0.8v0.8h-0.8zM14.1,15.7h0.8v0.8h-0.8zM33.6,29.9h0.8v0.8h-0.8zM30.7,0.8h0.8v0.8h-0.8zM1.1,25.0h0.8v0.8h-0.8zM31.5,16.7h0.8v0.8h-0.8zM20.7,0.0h0.8v0.8h-0.8zM13.8,32.6h0.8v0.8h-0.8zM29.1,30.1h0.8v0.8h-0.8zM34.2,8.7h0.8v0.8h-0.8zM3.8,5.4h0.8v0.8h-0.8zM18.4,24.0h0.8v0.8h-0.8zM33.1,25.4h0.8v0.8h-0.8zM22.8,26.9h0.8v0.8h-0.8zM16.1,19.4h0.8v0.8h-0.8zM1.4,27.5h0.8v0.8h-0.8zM8.2,32.4h0.8v0.8h-0.8zM22.7,10.7h0.8v0.8h-0.8zM4.5,8.9h0.8v0.8h-0.8zM22.4,24.6h0.8v0.8h-0.8zM3.9,2.5h0.8v0.8h-0.8zM18.5,20.5h0.8v0.8h-0.8zM13.7,7.9h0.8v0.8h-0.8zM21.2,0.4h0.8v0.8h-0.8zM10.6,16.2h0.8v0.8h-0.8zM33.8,22.7h0.8v0.8h-0.8zM31.1,16.7h0.8v0.8h-0.8zM8.3,8.7h0.8v0.8h-0.8zM33.8,24.8h0.8v0.8h-0.8zM10.8,0.8h0.8v0.8h-0.8zM17.5,23.7h0.8v0.8h-0.8zM14.8,9.1h0.8v0.8h-0.8zM23.5,32.6h0.8v0.8h-0.8zM8.0,1.2h0.8v0.8h-0.8zM11.9,14.8h0.8v0.8h-0.8zM24.0,7.0h0.8v0.8h-0.8zM28.1,26.0h0.8v0.8h-0.8zM17.8,7.2h0.8v0.8h-0.8zM34.1,11.0h0.8v0.8h-0.8zM28.9,8.1h0.8v0.8h-0.8zM7.8,26.8h0.8v0.8h-0.8zM10.4,33.5h0.8v0.8h-0.8zM17.5,6.6h0.8v0.8h-0.8zM7.9,14.7h0.8v0.8h-0.8zM23.4,33.4h0.8v0.8h-0.8zM5.2,13.8h0.8v0.8h-0.8zM7.5,34.3h0.8v0.8h-0.8zM5.0,1.8h0.8v0.8h-0.8zM2.1,13.8h0.8v0.8h-0.8zM31.6,31.1h0.8v0.8h-0.8zM25.8,35.1h0.8v0.8h-0.8zM32.8,11.6h0.8v0.8h-0.8zM6.5,32.9h0.8v0.8h-0.8zM26.3,1.1h0.8v0.8h-0.8zM23.4,13.3h0.8v0.8h-0.8zM13.2,11.7h0.8v0.8h-0.8zM6.0,0.1h0.8v0.8h-0.8zM9.8,12.4h0.8v0.8h-0.8zM33.6,4.4h0.8v0.8h-0.8zM33.9,7.3h0.8v0.8h-0.8zM12.6,28.9h0.8v0.8h-0.8zM28.9,15.2h0.8v0.8h-0.8zM1.7,16.7h0.8v0.8h-0.8zM13.1,32.4h0.8v0.8h-0.8zM6.8,12.8h0.8v0.8h-0.8zM31.6,1.1h0.8v0.8h-0.8zM14.5,28.6h0.8v0.8h-0.8zM27.0,1.4h0.8v0.8h-0.8zM1.2,2.2h0.8v0.8h-0.8zM32.4,9.0h0.8v0.8h-0.8zM26.3,31.6h0.8v0.8h-0.8zM11.9,9.6h0.8v0.8h-0.8zM33.7,21.7h0.8v0.8h-0.8zM9.2,25.2h0.8v0.8h-0.8zM11.1,9.7h0.8v0.8h-0.8z" fill="#ededed"/><path d="M0.1,26.7h0.7v0.7h-0.7zM32.4,22.4h0.7v0.7h-0.7zM33.3,0.9h0.7v0.7h-0.7zM8.3,16.8h0.7v0.7h-0.7zM33.8,33.7h0.7v0.7h-0.7zM13.6,8.9h0.7v0.7h-0.7zM15.2,17.4h0.7v0.7h-0.7zM32.8,6.5h0.7v0.7h-0.7zM28.3,26.1h0.7v0.7h-0.7zM29.0,27.3h0.7v0.7h-0.7zM21.4,11.6h0.7v0.7h-0.7zM11.3,12.8h0.7v0.7h-0.7zM27.6,2.8h0.7v0.7h-0.7zM7.0,26.6h0.7v0.7h-0.7zM8.7,2.3h0.7v0.7h-0.7zM1.2,19.5h0.7v0.7h-0.7zM11.5,34.6h0.7v0.7h-0.7zM31.2,34.9h0.7v0.7h-0.7zM9.4,3.0h0.7v0.7h-0.7zM3.4,17.6h0.7v0.7h-0.7zM25.1,15.8h0.7v0.7h-0.7zM8.3,14.7h0.7v0.7h-0.7zM21.9,23.8h0.7v0.7h-0.7zM26.4,29.9h0.7v0.7h-0.7zM23.5,4.3h0.7v0.7h-0.7zM29.7,10.4h0.7v0.7h-0.7zM20.0,13.2h0.7v0.7h-0.7zM26.1,7.0h0.7v0.7h-0.7zM8.7,8.7h0.7v0.7h-0.7zM5.4,31.2h0.7v0.7h-0.7zM20.4,11.5h0.7v0.7h-0.7zM14.0,35.0h0.7v0.7h-0.7zM17.9,8.2h0.7v0.7h-0.7zM28.5,23.1h0.7v0.7h-0.7zM35.0,3.6h0.7v0.7h-0.7zM16.8,28.9h0.7v0.7h-0.7zM29.7,32.3h0.7v0.7h-0.7zM1.4,10.4h0.7v0.7h-0.7zM4.2,6.7h0.7v0.7h-0.7zM34.3,20.6h0.7v0.7h-0.7zM32.8,13.1h0.7v0.7h-0.7zM30.6,15.9h0.7v0.7h-0.7zM9.2,27.5h0.7v0.7h-0.7zM33.4,3.7h0.7v0.7h-0.7zM21.0,21.9h0.7v0.7h-0.7zM7.7,13.0h0.7v0.7h-0.7zM5.0,7.2h0.7v0.7h-0.7zM9.0,21.2h0.7v0.7h-0.7zM23.0,7.2h0.7v0.7h-0.7zM0.4,11.6h0.7v0.7h-0.7zM23.9,6.5h0.7v0.7h-0.7zM11.0,7.2h0.7v0.7h-0.7zM28.1,19.3h0.7v0.7h-0.7zM2.2,3.6h0.7v0.7h-0.7zM14.0,19.4h0.7v0.7h-0.7zM22.6,3.2h0.7v0.7h-0.7zM5.8,24.5h0.7v0.7h-0.7zM14.5,10.0h0.7v0.7h-0.7zM10.9,33.6h0.7v0.7h-0.7zM11.0,20.0h0.7v0.7h-0.7zM12.6,14.7h0.7v0.7h-0.7zM30.5,35.2h0.7v0.7h-0.7zM12.8,7.0h0.7v0.7h-0.7zM25.7,7.2h0.7v0.7h-0.7zM0.2,31.8h0.7v0.7h-0.7zM15.0,29.0h0.7v0.7h-0.7zM14.3,31.2h0.7v0.7h-0.7zM16.3,5.7h0.7v0.7h-0.7zM0.5,19.5h0.7v0.7h-0.7zM22.6,32.1h0.7v0.7h-0.7zM3.1,22.0h0.7v0.7h-0.7zM13.1,17.8h0.7v0.7h-0.7zM5.1,10.0h0.7v0.7h-0.7zM18.4,32.7h0.7v0.7h-0.7zM3.8,17.3h0.7v0.7h-0.7zM28.4,34.1h0.7v0.7h-0.7zM7.0,4.5h0.7v0.7h-0.7zM33.3,34.4h0.7v0.7h-0.7zM17.0,1.9h0.7v0.7h-0.7zM32.7,13.7h0.7v0.7h-0.7zM31.9,21.9h0.7v0.7h-0.7zM29.1,5.7h0.7v0.7h-0.7zM27.7,7.8h0.7v0.7h-0.7zM14.3,29.9h0.7v0.7h-0.7zM29.3,6.5h0.7v0.7h-0.7zM7.7,14.1h0.7v0.7h-0.7zM18.3,13.5h0.7v0.7h-0.7zM4.3,8.7h0.7v0.7h-0.7zM25.6,31.7h0.7v0.7h-0.7zM1.5,19.9h0.7v0.7h-0.7zM26.7,1.3h0.7v0.7h-0.7zM29.6,4.2h0.7v0.7h-0.7zM21.2,19.4h0.7v0.7h-0.7zM22.1,10.8h0.7v0.7h-0.7zM14.8,20.6h0.7v0.7h-0.7zM15.0,23.3h0.7v0.7h-0.7zM15.8,15.5h0.7v0.7h-0.7zM0.8,21.8h0.7v0.7h-0.7zM17.3,8.3h0.7v0.7h-0.7zM27.0,27.5h0.7v0.7h-0.7zM16.2,6.3h0.7v0.7h-0.7zM16.7,3.8h0.7v0.7h-0.7zM4.5,15.2h0.7v0.7h-0.7zM3.2,15.6h0.7v0.7h-0.7zM18.0,1.4h0.7v0.7h-0.7zM22.5,2.9h0.7v0.7h-0.7zM25.9,27.5h0.7v0.7h-0.7zM18.1,1.9h0.7v0.7h-0.7zM17.8,13.3h0.7v0.7h-0.7zM33.6,4.8h0.7v0.7h-0.7zM30.3,35.2h0.7v0.7h-0.7zM25.8,28.8h0.7v0.7h-0.7zM6.8,34.7h0.7v0.7h-0.7zM17.4,33.8h0.7v0.7h-0.7zM32.3,5.8h0.7v0.7h-0.7zM27.8,32.8h0.7v0.7h-0.7zM2.3,12.4h0.7v0.7h-0.7zM26.7,5.6h0.7v0.7h-0.7zM31.6,9.7h0.7v0.7h-0.7zM28.8,5.1h0.7v0.7h-0.7zM17.7,32.5h0.7v0.7h-0.7zM7.4,9.3h0.7v0.7h-0.7zM17.9,11.3h0.7v0.7h-0.7zM1.3,6.4h0.7v0.7h-0.7zM5.7,33.1h0.7v0.7h-0.7zM24.0,31.6h0.7v0.7h-0.7zM6.0,27.7h0.7v0.7h-0.7zM4.1,18.7h0.7v0.7h-0.7zM22.5,12.7h0.7v0.7h-0.7z" fill="#2c2c2c"/></pattern><pattern id="gq" width="36" height="36" patternUnits="userSpaceOnUse"><rect width="36" height="36" fill="#5e5e5e"/><path d="M30.4,24.5h0.8v0.8h-0.8zM9.2,12.9h0.8v0.8h-0.8zM5.9,27.2h0.8v0.8h-0.8zM18.7,27.4h0.8v0.8h-0.8zM11.6,7.9h0.8v0.8h-0.8zM28.6,34.7h0.8v0.8h-0.8zM30.0,28.4h0.8v0.8h-0.8zM28.8,26.0h0.8v0.8h-0.8zM8.0,18.2h0.8v0.8h-0.8zM12.5,1.0h0.8v0.8h-0.8zM1.0,9.8h0.8v0.8h-0.8zM9.1,24.4h0.8v0.8h-0.8zM33.7,15.7h0.8v0.8h-0.8zM33.0,34.8h0.8v0.8h-0.8zM33.6,12.8h0.8v0.8h-0.8zM7.8,8.0h0.8v0.8h-0.8zM6.9,7.2h0.8v0.8h-0.8zM22.0,31.7h0.8v0.8h-0.8zM29.6,16.9h0.8v0.8h-0.8zM23.0,28.1h0.8v0.8h-0.8zM3.0,23.3h0.8v0.8h-0.8zM32.0,27.5h0.8v0.8h-0.8zM26.4,16.8h0.8v0.8h-0.8zM6.3,27.8h0.8v0.8h-0.8zM11.7,28.2h0.8v0.8h-0.8zM34.2,13.9h0.8v0.8h-0.8zM14.1,33.3h0.8v0.8h-0.8zM25.5,6.0h0.8v0.8h-0.8zM4.5,5.3h0.8v0.8h-0.8zM31.9,28.4h0.8v0.8h-0.8zM5.1,29.1h0.8v0.8h-0.8zM34.5,23.1h0.8v0.8h-0.8zM12.3,19.3h0.8v0.8h-0.8zM4.6,0.5h0.8v0.8h-0.8zM34.2,22.9h0.8v0.8h-0.8zM18.5,32.9h0.8v0.8h-0.8zM15.3,30.7h0.8v0.8h-0.8zM29.1,7.4h0.8v0.8h-0.8zM8.9,10.3h0.8v0.8h-0.8zM8.5,20.6h0.8v0.8h-0.8zM9.1,14.7h0.8v0.8h-0.8zM4.6,32.0h0.8v0.8h-0.8zM12.5,16.1h0.8v0.8h-0.8zM20.5,31.8h0.8v0.8h-0.8zM14.8,32.3h0.8v0.8h-0.8zM17.7,18.7h0.8v0.8h-0.8zM18.4,0.7h0.8v0.8h-0.8zM15.5,6.4h0.8v0.8h-0.8zM0.1,28.1h0.8v0.8h-0.8zM6.1,16.7h0.8v0.8h-0.8zM25.5,19.6h0.8v0.8h-0.8zM11.5,18.2h0.8v0.8h-0.8zM19.6,27.6h0.8v0.8h-0.8zM3.7,19.7h0.8v0.8h-0.8zM8.7,9.7h0.8v0.8h-0.8zM27.2,17.9h0.8v0.8h-0.8zM19.8,26.8h0.8v0.8h-0.8zM32.1,15.6h0.8v0.8h-0.8zM21.6,17.8h0.8v0.8h-0.8zM18.0,24.4h0.8v0.8h-0.8zM15.9,18.8h0.8v0.8h-0.8zM16.8,33.1h0.8v0.8h-0.8zM24.6,30.9h0.8v0.8h-0.8zM33.2,9.1h0.8v0.8h-0.8zM19.7,33.2h0.8v0.8h-0.8zM29.6,4.8h0.8v0.8h-0.8zM4.3,15.6h0.8v0.8h-0.8zM2.6,8.5h0.8v0.8h-0.8zM2.6,23.6h0.8v0.8h-0.8zM27.6,31.6h0.8v0.8h-0.8zM5.4,25.2h0.8v0.8h-0.8zM23.2,5.0h0.8v0.8h-0.8zM31.1,34.1h0.8v0.8h-0.8zM7.7,33.5h0.8v0.8h-0.8zM14.0,17.2h0.8v0.8h-0.8zM34.8,29.3h0.8v0.8h-0.8zM5.7,15.2h0.8v0.8h-0.8zM18.1,11.9h0.8v0.8h-0.8zM6.9,11.2h0.8v0.8h-0.8zM25.4,0.7h0.8v0.8h-0.8zM19.5,15.5h0.8v0.8h-0.8zM0.6,11.7h0.8v0.8h-0.8zM22.0,18.0h0.8v0.8h-0.8zM2.3,34.7h0.8v0.8h-0.8zM27.8,34.2h0.8v0.8h-0.8zM3.7,9.3h0.8v0.8h-0.8zM1.4,27.4h0.8v0.8h-0.8zM9.5,4.6h0.8v0.8h-0.8zM14.9,32.1h0.8v0.8h-0.8zM28.8,9.1h0.8v0.8h-0.8zM5.3,32.4h0.8v0.8h-0.8zM20.1,24.7h0.8v0.8h-0.8zM3.1,2.0h0.8v0.8h-0.8zM24.2,15.0h0.8v0.8h-0.8zM2.5,33.0h0.8v0.8h-0.8zM22.3,28.2h0.8v0.8h-0.8zM2.9,30.1h0.8v0.8h-0.8zM2.3,30.4h0.8v0.8h-0.8zM16.0,11.9h0.8v0.8h-0.8zM19.5,32.6h0.8v0.8h-0.8zM9.4,4.5h0.8v0.8h-0.8zM18.5,8.4h0.8v0.8h-0.8zM3.9,5.7h0.8v0.8h-0.8zM1.8,7.1h0.8v0.8h-0.8zM11.0,10.7h0.8v0.8h-0.8zM26.7,10.2h0.8v0.8h-0.8zM17.6,6.3h0.8v0.8h-0.8zM12.2,0.6h0.8v0.8h-0.8zM8.8,0.5h0.8v0.8h-0.8zM25.8,19.4h0.8v0.8h-0.8zM6.7,16.7h0.8v0.8h-0.8zM32.9,3.7h0.8v0.8h-0.8zM28.8,15.2h0.8v0.8h-0.8zM17.4,29.4h0.8v0.8h-0.8zM13.8,17.8h0.8v0.8h-0.8zM24.2,34.6h0.8v0.8h-0.8zM12.1,29.3h0.8v0.8h-0.8zM24.9,22.4h0.8v0.8h-0.8zM14.2,12.2h0.8v0.8h-0.8zM1.9,4.6h0.8v0.8h-0.8zM2.5,26.1h0.8v0.8h-0.8zM9.0,5.7h0.8v0.8h-0.8zM3.0,29.6h0.8v0.8h-0.8zM30.6,23.6h0.8v0.8h-0.8zM9.9,8.5h0.8v0.8h-0.8zM10.3,16.2h0.8v0.8h-0.8zM5.5,15.7h0.8v0.8h-0.8zM9.3,33.9h0.8v0.8h-0.8zM34.2,19.3h0.8v0.8h-0.8zM8.6,34.0h0.8v0.8h-0.8zM10.9,12.6h0.8v0.8h-0.8zM0.0,13.4h0.8v0.8h-0.8zM16.7,17.7h0.8v0.8h-0.8zM7.1,17.8h0.8v0.8h-0.8zM0.2,9.3h0.8v0.8h-0.8zM3.2,14.1h0.8v0.8h-0.8zM1.5,0.8h0.8v0.8h-0.8zM10.7,8.2h0.8v0.8h-0.8zM20.6,18.6h0.8v0.8h-0.8zM26.4,23.1h0.8v0.8h-0.8zM25.2,30.9h0.8v0.8h-0.8zM13.7,11.5h0.8v0.8h-0.8zM34.7,5.3h0.8v0.8h-0.8zM25.5,22.6h0.8v0.8h-0.8zM1.5,29.4h0.8v0.8h-0.8zM31.4,22.1h0.8v0.8h-0.8zM25.8,28.6h0.8v0.8h-0.8zM4.9,18.4h0.8v0.8h-0.8zM17.8,29.4h0.8v0.8h-0.8zM28.3,29.1h0.8v0.8h-0.8zM20.6,31.4h0.8v0.8h-0.8zM24.0,24.4h0.8v0.8h-0.8zM8.1,1.1h0.8v0.8h-0.8zM4.7,12.7h0.8v0.8h-0.8zM3.7,29.4h0.8v0.8h-0.8zM19.7,22.1h0.8v0.8h-0.8zM22.0,24.0h0.8v0.8h-0.8zM17.2,0.1h0.8v0.8h-0.8zM28.1,26.3h0.8v0.8h-0.8zM17.7,18.8h0.8v0.8h-0.8zM23.2,2.3h0.8v0.8h-0.8zM25.9,8.9h0.8v0.8h-0.8zM2.6,9.3h0.8v0.8h-0.8zM25.7,7.2h0.8v0.8h-0.8zM26.0,34.3h0.8v0.8h-0.8zM17.4,13.5h0.8v0.8h-0.8zM16.9,24.1h0.8v0.8h-0.8zM27.0,21.7h0.8v0.8h-0.8zM22.6,2.7h0.8v0.8h-0.8zM5.2,8.9h0.8v0.8h-0.8zM26.2,10.7h0.8v0.8h-0.8zM20.0,0.4h0.8v0.8h-0.8zM2.1,9.5h0.8v0.8h-0.8zM23.7,24.4h0.8v0.8h-0.8zM23.8,10.2h0.8v0.8h-0.8zM18.2,16.4h0.8v0.8h-0.8zM16.4,4.2h0.8v0.8h-0.8zM31.5,7.0h0.8v0.8h-0.8zM34.4,33.0h0.8v0.8h-0.8zM0.6,16.2h0.8v0.8h-0.8zM28.9,34.1h0.8v0.8h-0.8zM15.8,9.5h0.8v0.8h-0.8zM7.4,33.3h0.8v0.8h-0.8zM7.4,20.5h0.8v0.8h-0.8zM5.0,18.4h0.8v0.8h-0.8zM33.5,4.7h0.8v0.8h-0.8zM28.9,17.9h0.8v0.8h-0.8zM31.2,24.8h0.8v0.8h-0.8zM8.1,31.6h0.8v0.8h-0.8zM17.1,0.9h0.8v0.8h-0.8zM0.1,17.3h0.8v0.8h-0.8zM15.9,10.6h0.8v0.8h-0.8zM5.0,12.1h0.8v0.8h-0.8zM11.1,29.6h0.8v0.8h-0.8zM0.1,26.4h0.8v0.8h-0.8zM29.5,4.2h0.8v0.8h-0.8zM32.6,25.1h0.8v0.8h-0.8zM31.7,10.2h0.8v0.8h-0.8zM13.1,13.8h0.8v0.8h-0.8zM35.2,20.7h0.8v0.8h-0.8zM12.7,15.1h0.8v0.8h-0.8zM9.7,1.7h0.8v0.8h-0.8zM3.6,29.4h0.8v0.8h-0.8zM10.1,32.9h0.8v0.8h-0.8zM8.8,9.4h0.8v0.8h-0.8zM18.0,6.7h0.8v0.8h-0.8zM13.1,33.7h0.8v0.8h-0.8zM31.1,28.6h0.8v0.8h-0.8zM22.2,32.2h0.8v0.8h-0.8zM33.1,19.3h0.8v0.8h-0.8zM25.3,1.7h0.8v0.8h-0.8zM25.8,15.9h0.8v0.8h-0.8zM26.5,22.7h0.8v0.8h-0.8zM10.1,1.7h0.8v0.8h-0.8zM32.6,4.5h0.8v0.8h-0.8zM16.6,12.1h0.8v0.8h-0.8zM10.5,26.0h0.8v0.8h-0.8zM34.4,9.2h0.8v0.8h-0.8zM23.1,10.6h0.8v0.8h-0.8zM19.6,13.9h0.8v0.8h-0.8zM5.9,5.7h0.8v0.8h-0.8zM7.3,31.9h0.8v0.8h-0.8zM17.5,7.7h0.8v0.8h-0.8zM31.9,35.1h0.8v0.8h-0.8zM15.8,4.9h0.8v0.8h-0.8zM6.8,3.2h0.8v0.8h-0.8zM12.0,3.2h0.8v0.8h-0.8zM8.4,9.1h0.8v0.8h-0.8zM20.1,31.2h0.8v0.8h-0.8zM26.4,14.5h0.8v0.8h-0.8zM14.6,18.5h0.8v0.8h-0.8zM13.3,11.9h0.8v0.8h-0.8zM2.2,9.8h0.8v0.8h-0.8zM34.1,4.4h0.8v0.8h-0.8zM17.7,22.2h0.8v0.8h-0.8zM30.4,7.6h0.8v0.8h-0.8zM9.5,8.7h0.8v0.8h-0.8zM14.1,15.7h0.8v0.8h-0.8zM33.6,29.9h0.8v0.8h-0.8zM30.7,0.8h0.8v0.8h-0.8zM1.1,25.0h0.8v0.8h-0.8zM31.5,16.7h0.8v0.8h-0.8zM20.7,0.0h0.8v0.8h-0.8zM13.8,32.6h0.8v0.8h-0.8zM29.1,30.1h0.8v0.8h-0.8zM34.2,8.7h0.8v0.8h-0.8zM3.8,5.4h0.8v0.8h-0.8zM18.4,24.0h0.8v0.8h-0.8zM33.1,25.4h0.8v0.8h-0.8zM22.8,26.9h0.8v0.8h-0.8zM16.1,19.4h0.8v0.8h-0.8zM1.4,27.5h0.8v0.8h-0.8zM8.2,32.4h0.8v0.8h-0.8zM22.7,10.7h0.8v0.8h-0.8zM4.5,8.9h0.8v0.8h-0.8zM22.4,24.6h0.8v0.8h-0.8zM3.9,2.5h0.8v0.8h-0.8zM18.5,20.5h0.8v0.8h-0.8zM13.7,7.9h0.8v0.8h-0.8zM21.2,0.4h0.8v0.8h-0.8zM10.6,16.2h0.8v0.8h-0.8zM33.8,22.7h0.8v0.8h-0.8zM31.1,16.7h0.8v0.8h-0.8zM8.3,8.7h0.8v0.8h-0.8zM33.8,24.8h0.8v0.8h-0.8zM10.8,0.8h0.8v0.8h-0.8zM17.5,23.7h0.8v0.8h-0.8zM14.8,9.1h0.8v0.8h-0.8zM23.5,32.6h0.8v0.8h-0.8zM8.0,1.2h0.8v0.8h-0.8zM11.9,14.8h0.8v0.8h-0.8zM24.0,7.0h0.8v0.8h-0.8zM28.1,26.0h0.8v0.8h-0.8zM17.8,7.2h0.8v0.8h-0.8zM34.1,11.0h0.8v0.8h-0.8zM28.9,8.1h0.8v0.8h-0.8zM7.8,26.8h0.8v0.8h-0.8zM10.4,33.5h0.8v0.8h-0.8zM17.5,6.6h0.8v0.8h-0.8zM7.9,14.7h0.8v0.8h-0.8zM23.4,33.4h0.8v0.8h-0.8zM5.2,13.8h0.8v0.8h-0.8zM7.5,34.3h0.8v0.8h-0.8zM5.0,1.8h0.8v0.8h-0.8zM2.1,13.8h0.8v0.8h-0.8zM31.6,31.1h0.8v0.8h-0.8zM25.8,35.1h0.8v0.8h-0.8zM32.8,11.6h0.8v0.8h-0.8zM6.5,32.9h0.8v0.8h-0.8zM26.3,1.1h0.8v0.8h-0.8zM23.4,13.3h0.8v0.8h-0.8zM13.2,11.7h0.8v0.8h-0.8zM6.0,0.1h0.8v0.8h-0.8zM9.8,12.4h0.8v0.8h-0.8zM33.6,4.4h0.8v0.8h-0.8zM33.9,7.3h0.8v0.8h-0.8zM12.6,28.9h0.8v0.8h-0.8zM28.9,15.2h0.8v0.8h-0.8zM1.7,16.7h0.8v0.8h-0.8zM13.1,32.4h0.8v0.8h-0.8zM6.8,12.8h0.8v0.8h-0.8zM31.6,1.1h0.8v0.8h-0.8zM14.5,28.6h0.8v0.8h-0.8zM27.0,1.4h0.8v0.8h-0.8zM1.2,2.2h0.8v0.8h-0.8zM32.4,9.0h0.8v0.8h-0.8zM26.3,31.6h0.8v0.8h-0.8zM11.9,9.6h0.8v0.8h-0.8zM33.7,21.7h0.8v0.8h-0.8zM9.2,25.2h0.8v0.8h-0.8zM11.1,9.7h0.8v0.8h-0.8z" fill="#b8b8b8"/><path d="M0.1,26.7h0.7v0.7h-0.7zM32.4,22.4h0.7v0.7h-0.7zM33.3,0.9h0.7v0.7h-0.7zM8.3,16.8h0.7v0.7h-0.7zM33.8,33.7h0.7v0.7h-0.7zM13.6,8.9h0.7v0.7h-0.7zM15.2,17.4h0.7v0.7h-0.7zM32.8,6.5h0.7v0.7h-0.7zM28.3,26.1h0.7v0.7h-0.7zM29.0,27.3h0.7v0.7h-0.7zM21.4,11.6h0.7v0.7h-0.7zM11.3,12.8h0.7v0.7h-0.7zM27.6,2.8h0.7v0.7h-0.7zM7.0,26.6h0.7v0.7h-0.7zM8.7,2.3h0.7v0.7h-0.7zM1.2,19.5h0.7v0.7h-0.7zM11.5,34.6h0.7v0.7h-0.7zM31.2,34.9h0.7v0.7h-0.7zM9.4,3.0h0.7v0.7h-0.7zM3.4,17.6h0.7v0.7h-0.7zM25.1,15.8h0.7v0.7h-0.7zM8.3,14.7h0.7v0.7h-0.7zM21.9,23.8h0.7v0.7h-0.7zM26.4,29.9h0.7v0.7h-0.7zM23.5,4.3h0.7v0.7h-0.7zM29.7,10.4h0.7v0.7h-0.7zM20.0,13.2h0.7v0.7h-0.7zM26.1,7.0h0.7v0.7h-0.7zM8.7,8.7h0.7v0.7h-0.7zM5.4,31.2h0.7v0.7h-0.7zM20.4,11.5h0.7v0.7h-0.7zM14.0,35.0h0.7v0.7h-0.7zM17.9,8.2h0.7v0.7h-0.7zM28.5,23.1h0.7v0.7h-0.7zM35.0,3.6h0.7v0.7h-0.7zM16.8,28.9h0.7v0.7h-0.7zM29.7,32.3h0.7v0.7h-0.7zM1.4,10.4h0.7v0.7h-0.7zM4.2,6.7h0.7v0.7h-0.7zM34.3,20.6h0.7v0.7h-0.7zM32.8,13.1h0.7v0.7h-0.7zM30.6,15.9h0.7v0.7h-0.7zM9.2,27.5h0.7v0.7h-0.7zM33.4,3.7h0.7v0.7h-0.7zM21.0,21.9h0.7v0.7h-0.7zM7.7,13.0h0.7v0.7h-0.7zM5.0,7.2h0.7v0.7h-0.7zM9.0,21.2h0.7v0.7h-0.7zM23.0,7.2h0.7v0.7h-0.7zM0.4,11.6h0.7v0.7h-0.7zM23.9,6.5h0.7v0.7h-0.7zM11.0,7.2h0.7v0.7h-0.7zM28.1,19.3h0.7v0.7h-0.7zM2.2,3.6h0.7v0.7h-0.7zM14.0,19.4h0.7v0.7h-0.7zM22.6,3.2h0.7v0.7h-0.7zM5.8,24.5h0.7v0.7h-0.7zM14.5,10.0h0.7v0.7h-0.7zM10.9,33.6h0.7v0.7h-0.7zM11.0,20.0h0.7v0.7h-0.7zM12.6,14.7h0.7v0.7h-0.7zM30.5,35.2h0.7v0.7h-0.7zM12.8,7.0h0.7v0.7h-0.7zM25.7,7.2h0.7v0.7h-0.7zM0.2,31.8h0.7v0.7h-0.7zM15.0,29.0h0.7v0.7h-0.7zM14.3,31.2h0.7v0.7h-0.7zM16.3,5.7h0.7v0.7h-0.7zM0.5,19.5h0.7v0.7h-0.7zM22.6,32.1h0.7v0.7h-0.7zM3.1,22.0h0.7v0.7h-0.7zM13.1,17.8h0.7v0.7h-0.7zM5.1,10.0h0.7v0.7h-0.7zM18.4,32.7h0.7v0.7h-0.7zM3.8,17.3h0.7v0.7h-0.7zM28.4,34.1h0.7v0.7h-0.7zM7.0,4.5h0.7v0.7h-0.7zM33.3,34.4h0.7v0.7h-0.7zM17.0,1.9h0.7v0.7h-0.7zM32.7,13.7h0.7v0.7h-0.7zM31.9,21.9h0.7v0.7h-0.7zM29.1,5.7h0.7v0.7h-0.7zM27.7,7.8h0.7v0.7h-0.7zM14.3,29.9h0.7v0.7h-0.7zM29.3,6.5h0.7v0.7h-0.7zM7.7,14.1h0.7v0.7h-0.7zM18.3,13.5h0.7v0.7h-0.7zM4.3,8.7h0.7v0.7h-0.7zM25.6,31.7h0.7v0.7h-0.7zM1.5,19.9h0.7v0.7h-0.7zM26.7,1.3h0.7v0.7h-0.7zM29.6,4.2h0.7v0.7h-0.7zM21.2,19.4h0.7v0.7h-0.7zM22.1,10.8h0.7v0.7h-0.7zM14.8,20.6h0.7v0.7h-0.7zM15.0,23.3h0.7v0.7h-0.7zM15.8,15.5h0.7v0.7h-0.7zM0.8,21.8h0.7v0.7h-0.7zM17.3,8.3h0.7v0.7h-0.7zM27.0,27.5h0.7v0.7h-0.7zM16.2,6.3h0.7v0.7h-0.7zM16.7,3.8h0.7v0.7h-0.7zM4.5,15.2h0.7v0.7h-0.7zM3.2,15.6h0.7v0.7h-0.7zM18.0,1.4h0.7v0.7h-0.7zM22.5,2.9h0.7v0.7h-0.7zM25.9,27.5h0.7v0.7h-0.7zM18.1,1.9h0.7v0.7h-0.7zM17.8,13.3h0.7v0.7h-0.7zM33.6,4.8h0.7v0.7h-0.7zM30.3,35.2h0.7v0.7h-0.7zM25.8,28.8h0.7v0.7h-0.7zM6.8,34.7h0.7v0.7h-0.7zM17.4,33.8h0.7v0.7h-0.7zM32.3,5.8h0.7v0.7h-0.7zM27.8,32.8h0.7v0.7h-0.7zM2.3,12.4h0.7v0.7h-0.7zM26.7,5.6h0.7v0.7h-0.7zM31.6,9.7h0.7v0.7h-0.7zM28.8,5.1h0.7v0.7h-0.7zM17.7,32.5h0.7v0.7h-0.7zM7.4,9.3h0.7v0.7h-0.7zM17.9,11.3h0.7v0.7h-0.7zM1.3,6.4h0.7v0.7h-0.7zM5.7,33.1h0.7v0.7h-0.7zM24.0,31.6h0.7v0.7h-0.7zM6.0,27.7h0.7v0.7h-0.7zM4.1,18.7h0.7v0.7h-0.7zM22.5,12.7h0.7v0.7h-0.7z" fill="#222"/></pattern></defs>
<rect x="388.80" y="233.60" width="26.40" height="7.00" rx="0.00" stroke="#c8c8c8" stroke-width="0.8" fill="url(#gq)"/>
<rect x="388.80" y="240.60" width="26.40" height="22.60" rx="0.00" stroke="#bcbcbc" stroke-width="0.7" fill="none"/>
<path d="M400.5,262.5 A13,13 0 0 1 413.6,249.5" stroke="#bcbcbc" stroke-width="0.6" fill="none" stroke-dasharray="1.2 0.7"/>
<line x1="413.60" y1="249.50" x2="413.60" y2="262.50" stroke="#bcbcbc" stroke-width="1.2"/>
<text transform="translate(402.50 249.50) rotate(-70) scale(1.0 1)" font-size="2.6" fill="#d6d6d6" stroke="#d6d6d6" stroke-width="0.18" text-anchor="middle"><tspan x="0" y="0.91">SH.</tspan></text>
<rect x="388.80" y="264.40" width="26.40" height="41.80" rx="0.00" stroke="#bcbcbc" stroke-width="0.7" fill="none"/>
<line x1="395.00" y1="264.40" x2="395.00" y2="306.20" stroke="#bcbcbc" stroke-width="0.6"/>
<rect x="390.00" y="273.80" width="10.00" height="10.00" rx="0.60" stroke="#bcbcbc" stroke-width="0.7" fill="none"/>
<line x1="395.00" y1="274.50" x2="395.00" y2="283.00" stroke="#bcbcbc" stroke-width="0.5"/>
<line x1="390.80" y1="278.80" x2="399.20" y2="278.80" stroke="#bcbcbc" stroke-width="0.5"/>
<rect x="398.80" y="292.50" width="7.40" height="7.50" rx="1.00" stroke="#bcbcbc" stroke-width="0.8" fill="none"/>
<rect x="400.20" y="294.00" width="4.60" height="4.60" rx="1.50" stroke="#bcbcbc" stroke-width="0.6" fill="none"/>
<rect x="397.00" y="300.50" width="11.00" height="1.60" rx="0.00" stroke="#bcbcbc" stroke-width="0.6" fill="none"/>
<text transform="translate(408.00 279.50) rotate(-80) scale(1.0 1)" font-size="3" fill="#d6d6d6" stroke="#d6d6d6" stroke-width="0.18" text-anchor="middle"><tspan x="0" y="1.05">W.C.</tspan></text>
<line x1="415.60" y1="232.50" x2="415.60" y2="307.20" stroke="#bcbcbc" stroke-width="0.8"/>
<line x1="417.20" y1="232.50" x2="417.20" y2="307.20" stroke="#bcbcbc" stroke-width="0.8"/>
<g transform="translate(436.90 251.90) scale(1 1)">
<circle cx="0.00" cy="0.00" r="15.70" stroke="#bcbcbc" stroke-width="0.8" fill="none"/>
<circle cx="0.00" cy="0.00" r="13.80" stroke="#bcbcbc" stroke-width="0.7" fill="none"/>
<path d="M-10.4,-5 L7.6,-5 Q9,-4.6 9,-3 L9,5 Q8,9.2 0,10.7 Q-8,9.6 -11,2 Q-11.6,-3 -10.4,-5 Z" stroke="#bcbcbc" stroke-width="0.75" fill="none" />
<path d="M-1,-14.2 L0,-10.2 L9.6,-10.2" stroke="#bcbcbc" stroke-width="0.6" fill="none" />
<path d="M-11.5,-7 L8.5,-7.3" stroke="#bcbcbc" stroke-width="0.6" fill="none" />
<circle cx="-11.90" cy="-5.90" r="0.85" stroke="#eee" stroke-width="0.3" fill="#eee"/>
<circle cx="-13.30" cy="1.00" r="0.85" stroke="#eee" stroke-width="0.3" fill="#eee"/>
<circle cx="-9.50" cy="8.80" r="0.85" stroke="#eee" stroke-width="0.3" fill="#eee"/>
<circle cx="0.00" cy="12.90" r="0.85" stroke="#eee" stroke-width="0.3" fill="#eee"/>
<circle cx="7.90" cy="-3.60" r="0.85" stroke="#eee" stroke-width="0.3" fill="#eee"/>
<circle cx="-8.00" cy="-7.10" r="0.60" stroke="#ddd" stroke-width="0.3" fill="#ddd"/>
<circle cx="-2.30" cy="-7.10" r="0.60" stroke="#ddd" stroke-width="0.3" fill="#ddd"/>
<circle cx="1.50" cy="-7.20" r="0.60" stroke="#ddd" stroke-width="0.3" fill="#ddd"/>
<circle cx="6.20" cy="-8.40" r="0.60" stroke="#ddd" stroke-width="0.3" fill="#ddd"/>
</g>
<line x1="417.20" y1="253.00" x2="421.50" y2="253.00" stroke="#bcbcbc" stroke-width="0.8"/>
<line x1="417.20" y1="257.50" x2="421.50" y2="257.50" stroke="#bcbcbc" stroke-width="0.8"/>
<line x1="452.20" y1="253.00" x2="456.30" y2="253.00" stroke="#bcbcbc" stroke-width="0.8"/>
<line x1="452.20" y1="257.50" x2="456.30" y2="257.50" stroke="#bcbcbc" stroke-width="0.8"/>
<path d="M438.2,308.6 A14.2,14.2 0 0 1 452.4,294.4" stroke="#bcbcbc" stroke-width="0.6" fill="none" stroke-dasharray="1.2 0.7"/>
<line x1="452.40" y1="294.40" x2="452.40" y2="308.60" stroke="#bcbcbc" stroke-width="1.2"/>
<line x1="417.20" y1="307.20" x2="456.30" y2="307.20" stroke="#bcbcbc" stroke-width="0.8"/>
<line x1="417.20" y1="309.20" x2="456.30" y2="309.20" stroke="#bcbcbc" stroke-width="0.8"/>
<text transform="translate(434.60 281.80) rotate(-80) scale(1.0 1)" font-size="3.4" fill="#d6d6d6" stroke="#d6d6d6" stroke-width="0.18" text-anchor="middle"><tspan x="0" y="-0.91">BATH</tspan><tspan x="0" y="3.29">3.7 X 2.9 M</tspan></text>
<line x1="456.30" y1="232.50" x2="456.30" y2="366.00" stroke="#bcbcbc" stroke-width="0.8"/>
<line x1="456.30" y1="287.50" x2="468.00" y2="287.50" stroke="#bcbcbc" stroke-width="0.8"/>
<line x1="459.30" y1="287.50" x2="459.30" y2="366.00" stroke="#bcbcbc" stroke-width="0.8"/>
<line x1="468.00" y1="232.50" x2="468.00" y2="291.00" stroke="#bcbcbc" stroke-width="0.8"/>
<path d="M468,232.8 Q480,255 479.4,262 Q478,278 472.5,291.5 L468,291.5" stroke="#bcbcbc" stroke-width="0.7" fill="none" />
<path d="M471.2,246 Q470.3,262 471.2,279" stroke="#f2f2f2" stroke-width="1.3" fill="none" />
<line x1="470.20" y1="255.00" x2="472.30" y2="255.00" stroke="#bcbcbc" stroke-width="0.6"/>
<line x1="470.00" y1="268.50" x2="472.30" y2="268.50" stroke="#bcbcbc" stroke-width="0.6"/>
<path d="M474.48,234.20 L472.83,234.41 L473.83,236.16 L471.66,235.01 L470.71,236.42 L470.32,234.81 L468.65,235.71 L469.91,233.90 L468.58,232.99 L470.08,232.67 L469.15,230.53 L470.89,231.87 L471.51,230.79 L471.86,232.18 L473.83,231.65 L473.03,233.03Z" fill="#ededed" stroke="#ededed" stroke-width="0.4"/>
<path d="M523.1,243 L523.1,239.4 L490.6,239.4 L490.6,288.5 L523.1,288.5 L523.1,285" stroke="#bcbcbc" stroke-width="0.8" fill="none" />
<path d="M521.8,243 L521.8,240.7 L491.9,240.7 L491.9,287.2 L521.8,287.2 L521.8,285" stroke="#bcbcbc" stroke-width="0.6" fill="none" />
<rect x="506.50" y="244.40" width="39.80" height="40.00" rx="2.20" stroke="#bcbcbc" stroke-width="0.8" fill="none"/>
<rect x="508.00" y="245.90" width="36.80" height="37.00" rx="1.50" stroke="#bcbcbc" stroke-width="0.6" fill="none"/>
<rect x="538.00" y="247.00" width="7.60" height="16.00" rx="1.00" stroke="#bcbcbc" stroke-width="0.7" fill="none"/>
<rect x="538.00" y="265.00" width="7.60" height="16.00" rx="1.00" stroke="#bcbcbc" stroke-width="0.7" fill="none"/>
<path d="M536.2,247 Q534.5,268 526,282.3" stroke="#bcbcbc" stroke-width="0.6" fill="none" />
<rect x="537.50" y="232.60" width="9.50" height="11.80" rx="3.00" stroke="#bcbcbc" stroke-width="0.8" fill="none"/>
<circle cx="542.50" cy="238.50" r="2.30" stroke="#bcbcbc" stroke-width="0.6" fill="none"/>
<line x1="541.00" y1="238.50" x2="544.00" y2="238.50" stroke="#bcbcbc" stroke-width="0.5"/>
<line x1="542.50" y1="237.00" x2="542.50" y2="240.00" stroke="#bcbcbc" stroke-width="0.5"/>
<rect x="537.50" y="284.80" width="9.50" height="11.50" rx="3.00" stroke="#bcbcbc" stroke-width="0.8" fill="none"/>
<circle cx="542.50" cy="290.50" r="2.30" stroke="#bcbcbc" stroke-width="0.6" fill="none"/>
<line x1="541.00" y1="290.50" x2="544.00" y2="290.50" stroke="#bcbcbc" stroke-width="0.5"/>
<line x1="542.50" y1="289.00" x2="542.50" y2="292.00" stroke="#bcbcbc" stroke-width="0.5"/>
<path d="M513,303 L545.5,303 Q547,305 546.5,307 Q530,313 522,312.6 Q513,311.5 511.5,306 Q511.3,303.5 513,303Z" stroke="#bcbcbc" stroke-width="0.7" fill="none" />
<line x1="513.50" y1="305.20" x2="545.00" y2="305.20" stroke="#f4f4f4" stroke-width="1.4"/>
<line x1="523.00" y1="304.00" x2="523.00" y2="306.40" stroke="#bcbcbc" stroke-width="0.6"/>
<line x1="535.00" y1="304.00" x2="535.00" y2="306.40" stroke="#bcbcbc" stroke-width="0.6"/>
<g transform="translate(506.70 330.00) rotate(-90)">
<path d="M-7.25,-7.05 L-7.25,7.25 Q-7.25,8.25 -6.25,8.25 L6.25,8.25 Q7.25,8.25 7.25,7.25 L7.25,-7.05 Q0,-9.85 -7.25,-7.05 Z" stroke="#bcbcbc" stroke-width="0.75" fill="none" />
<path d="M-6.65,-5.05 Q0,-6.65 6.65,-5.05" stroke="#bcbcbc" stroke-width="0.6" fill="none" />
<path d="M-5.65,-5.25 L-5.65,7.65 M5.65,-5.25 L5.65,7.65" stroke="#bcbcbc" stroke-width="0.5" fill="none" />
</g>
<path d="M520,328.5 Q520.5,326.5 523,327.3 L527.8,330 Q529,331.5 527.8,332.6 L523,335.2 Q520.5,336 520,333.8Z" stroke="#bcbcbc" stroke-width="0.7" fill="none" />
<path d="M508.50,351.80 C510.53,351.23 516.45,351.67 520.00,351.60 C523.55,351.53 527.30,351.92 529.80,351.40 C532.30,350.88 533.38,349.47 535.00,348.50 C536.62,347.53 538.08,346.03 539.50,345.60 C540.92,345.17 542.42,345.25 543.50,345.90 C544.58,346.55 545.53,347.77 546.00,349.50 C546.47,351.23 546.88,354.13 546.30,356.30 C545.72,358.47 544.88,361.07 542.50,362.50 C540.12,363.93 536.62,364.57 532.00,364.90 C527.38,365.23 518.55,365.32 514.80,364.50 C511.05,363.68 510.67,361.58 509.50,360.00 C508.33,358.42 507.97,356.37 507.80,355.00 C507.63,353.63 506.47,352.37 508.50,351.80Z" stroke="#bcbcbc" stroke-width="0.8" fill="none" />
<path d="M508.40,357.80 C509.08,358.42 510.32,360.63 512.50,361.50 C514.68,362.37 518.00,362.82 521.50,363.00 C525.00,363.18 530.17,363.27 533.50,362.60 C536.83,361.93 539.72,360.43 541.50,359.00 C543.28,357.57 543.82,355.58 544.20,354.00 C544.58,352.42 543.87,350.25 543.80,349.50" stroke="#bcbcbc" stroke-width="0.7" fill="none" />
<line x1="520.50" y1="362.80" x2="520.50" y2="364.60" stroke="#bcbcbc" stroke-width="0.5"/>
<line x1="532.50" y1="362.80" x2="532.50" y2="364.80" stroke="#bcbcbc" stroke-width="0.5"/>
<path d="M464.32,359.10 L462.44,359.77 L463.50,361.30 L461.78,360.52 L461.00,362.48 L460.40,360.33 L458.47,360.99 L459.40,359.68 L458.16,358.81 L459.58,358.28 L459.22,355.89 L460.74,357.49 L461.21,355.45 L462.03,357.60 L463.91,357.05 L463.00,358.71Z" fill="#ededed" stroke="#ededed" stroke-width="0.4"/>
<text transform="translate(485.00 310.50) rotate(-80) scale(1.0 1)" font-size="3.9" fill="#d6d6d6" stroke="#d6d6d6" stroke-width="0.18" text-anchor="middle"><tspan x="0" y="-0.93">BEDROOM</tspan><tspan x="0" y="3.67">4.7 X 4.5 M</tspan></text>
<line x1="547.50" y1="232.50" x2="547.50" y2="366.00" stroke="#bcbcbc" stroke-width="0.8"/>
<line x1="549.30" y1="232.50" x2="549.30" y2="366.00" stroke="#bcbcbc" stroke-width="0.8"/>
<line x1="459.40" y1="365.20" x2="609.80" y2="365.20" stroke="#bcbcbc" stroke-width="0.8"/>
<line x1="459.40" y1="366.90" x2="609.80" y2="366.90" stroke="#bcbcbc" stroke-width="0.8"/>
<clipPath id="kc"><path d="M551,232.6 L597.5,232.6 L597.5,247 L567,247 Q564,247 564,250 L564,366 L551,366Z"/></clipPath>
<g clip-path="url(#kc)">
<rect x="551.00" y="232.60" width="46.50" height="133.40" rx="0.00" stroke="#c8c8c8" stroke-width="0.8" fill="url(#gp)"/>
</g>
<path d="M551,232.6 L597.5,232.6 L597.5,247 L567,247 Q564,247 564,250 L564,366" stroke="#bcbcbc" stroke-width="0.8" fill="none" />
<rect x="552.30" y="262.00" width="10.50" height="16.80" rx="0.00" stroke="#d0d0d0" stroke-width="0.7" fill="#000"/>
<rect x="553.80" y="263.80" width="3.40" height="3.40" rx="0.40" stroke="#ccc" stroke-width="0.5" fill="#666"/>
<rect x="558.20" y="263.80" width="3.40" height="3.40" rx="0.40" stroke="#ccc" stroke-width="0.5" fill="#666"/>
<rect x="553.80" y="273.40" width="3.40" height="3.40" rx="0.40" stroke="#ccc" stroke-width="0.5" fill="#666"/>
<rect x="558.20" y="273.40" width="3.40" height="3.40" rx="0.40" stroke="#ccc" stroke-width="0.5" fill="#666"/>
<circle cx="557.50" cy="270.50" r="1.50" stroke="#bcbcbc" stroke-width="0.5" fill="none"/>
<rect x="552.60" y="305.00" width="11.20" height="13.80" rx="0.00" stroke="#d8d8d8" stroke-width="0.8" fill="#000"/>
<rect x="553.80" y="306.30" width="8.80" height="11.20" rx="0.50" stroke="#bcbcbc" stroke-width="0.5" fill="none"/>
<rect x="571.00" y="237.00" width="10.20" height="6.80" rx="0.50" stroke="#d8d8d8" stroke-width="0.8" fill="#000"/>
<line x1="574.50" y1="240.40" x2="577.50" y2="240.40" stroke="#bcbcbc" stroke-width="0.5"/>
<line x1="576.00" y1="239.00" x2="576.00" y2="241.80" stroke="#bcbcbc" stroke-width="0.5"/>
<circle cx="571.00" cy="249.50" r="1.00" stroke="#bcbcbc" stroke-width="0.5" fill="none"/>
<rect x="597.50" y="232.60" width="12.50" height="55.00" rx="0.00" stroke="#bcbcbc" stroke-width="0.8" fill="none"/>
<path d="M597.5,287.6 L603.5,311 Q606,320.5 611.5,320.5 Q618.7,320.5 618.7,313 L618.7,232.6" stroke="#bcbcbc" stroke-width="0.8" fill="none" />
<circle cx="625.00" cy="281.30" r="4.80" stroke="#bcbcbc" stroke-width="0.8" fill="none"/>
<line x1="625.60" y1="276.70" x2="625.60" y2="285.90" stroke="#bcbcbc" stroke-width="0.6"/>
<path d="M626.40,277.23 L626.40,285.37 M627.15,277.58 L627.15,285.02 M627.90,278.13 L627.90,284.47 M628.65,279.03 L628.65,283.57 M629.40,281.30 L629.40,281.30 " stroke="#bbb" stroke-width="0.45" fill="none" />
<line x1="625.80" y1="280.10" x2="629.50" y2="280.10" stroke="#bcbcbc" stroke-width="0.5"/>
<line x1="625.80" y1="282.50" x2="629.50" y2="282.50" stroke="#bcbcbc" stroke-width="0.5"/>
<circle cx="625.00" cy="293.80" r="4.80" stroke="#bcbcbc" stroke-width="0.8" fill="none"/>
<line x1="625.60" y1="289.20" x2="625.60" y2="298.40" stroke="#bcbcbc" stroke-width="0.6"/>
<path d="M626.40,289.73 L626.40,297.87 M627.15,290.08 L627.15,297.52 M627.90,290.63 L627.90,296.97 M628.65,291.53 L628.65,296.07 M629.40,293.80 L629.40,293.80 " stroke="#bbb" stroke-width="0.45" fill="none" />
<line x1="625.80" y1="292.60" x2="629.50" y2="292.60" stroke="#bcbcbc" stroke-width="0.5"/>
<line x1="625.80" y1="295.00" x2="629.50" y2="295.00" stroke="#bcbcbc" stroke-width="0.5"/>
<circle cx="625.00" cy="306.30" r="4.80" stroke="#bcbcbc" stroke-width="0.8" fill="none"/>
<line x1="625.60" y1="301.70" x2="625.60" y2="310.90" stroke="#bcbcbc" stroke-width="0.6"/>
<path d="M626.40,302.23 L626.40,310.37 M627.15,302.58 L627.15,310.02 M627.90,303.13 L627.90,309.47 M628.65,304.03 L628.65,308.57 M629.40,306.30 L629.40,306.30 " stroke="#bbb" stroke-width="0.45" fill="none" />
<line x1="625.80" y1="305.10" x2="629.50" y2="305.10" stroke="#bcbcbc" stroke-width="0.5"/>
<line x1="625.80" y1="307.50" x2="629.50" y2="307.50" stroke="#bcbcbc" stroke-width="0.5"/>
<circle cx="585.30" cy="339.40" r="7.90" stroke="#bcbcbc" stroke-width="0.9" fill="none"/>
<circle cx="585.30" cy="339.40" r="7.00" stroke="#bcbcbc" stroke-width="0.5" fill="none"/>
<g transform="translate(585.3 339.4) rotate(56)">
<rect x="7.90" y="-4.00" width="3.40" height="8.00" rx="0.60" stroke="#bcbcbc" stroke-width="0.7" fill="none"/>
<path d="M8.6,-3 L10.6,-3 M8.6,-1 L10.6,-1 M8.6,1 L10.6,1 M8.6,3 L10.6,3 M9.6,-3.5 L9.6,3.5" stroke="#c8c8c8" stroke-width="0.45" fill="none" />
</g>
<g transform="translate(585.3 339.4) rotate(146)">
<rect x="7.90" y="-4.00" width="3.40" height="8.00" rx="0.60" stroke="#bcbcbc" stroke-width="0.7" fill="none"/>
<path d="M8.6,-3 L10.6,-3 M8.6,-1 L10.6,-1 M8.6,1 L10.6,1 M8.6,3 L10.6,3 M9.6,-3.5 L9.6,3.5" stroke="#c8c8c8" stroke-width="0.45" fill="none" />
</g>
<g transform="translate(585.3 339.4) rotate(236)">
<rect x="7.90" y="-4.00" width="3.40" height="8.00" rx="0.60" stroke="#bcbcbc" stroke-width="0.7" fill="none"/>
<path d="M8.6,-3 L10.6,-3 M8.6,-1 L10.6,-1 M8.6,1 L10.6,1 M8.6,3 L10.6,3 M9.6,-3.5 L9.6,3.5" stroke="#c8c8c8" stroke-width="0.45" fill="none" />
</g>
<g transform="translate(585.3 339.4) rotate(326)">
<rect x="7.90" y="-4.00" width="3.40" height="8.00" rx="0.60" stroke="#bcbcbc" stroke-width="0.7" fill="none"/>
<path d="M8.6,-3 L10.6,-3 M8.6,-1 L10.6,-1 M8.6,1 L10.6,1 M8.6,3 L10.6,3 M9.6,-3.5 L9.6,3.5" stroke="#c8c8c8" stroke-width="0.45" fill="none" />
</g>
<text transform="translate(585.50 291.00) rotate(-80) scale(1.0 1)" font-size="3.9" fill="#d6d6d6" stroke="#d6d6d6" stroke-width="0.18" text-anchor="middle"><tspan x="0" y="-0.93">KITCHEN</tspan><tspan x="0" y="3.67">8.7 X 3.7 M</tspan></text>
<path d="M646.8,235 L710.5,235 L710.5,238.5 L690,241.5 Q672,246.5 664,244.5 L648,238.8 Z" stroke="#bcbcbc" stroke-width="0.7" fill="none" />
<line x1="662.50" y1="237.60" x2="694.00" y2="237.60" stroke="#f4f4f4" stroke-width="1.3"/>
<line x1="672.00" y1="236.50" x2="672.00" y2="238.80" stroke="#bcbcbc" stroke-width="0.6"/>
<line x1="684.00" y1="236.50" x2="684.00" y2="238.80" stroke="#bcbcbc" stroke-width="0.6"/>
<circle cx="653.50" cy="237.30" r="1.30" stroke="#eee" stroke-width="0.5" fill="#eee"/>
<circle cx="704.50" cy="237.30" r="1.30" stroke="#eee" stroke-width="0.5" fill="#eee"/>
<path d="M634.99,237.95 Q638.47,235.64 642.78,238.53 Q638.09,240.75 634.99,237.95 M635.49,237.99 L641.31,238.42 M634.60,239.00 Q638.34,238.84 640.26,243.22 Q635.51,242.63 634.60,239.00 M635.00,239.30 L639.17,242.41 M633.38,239.76 Q636.05,241.87 634.62,246.12 Q631.70,242.72 633.38,239.76 M633.48,240.25 L634.38,244.87 M632.35,239.69 Q633.68,243.49 629.89,246.84 Q628.96,241.87 632.35,239.69 M632.19,240.16 L630.35,245.48 M631.38,238.97 Q630.40,242.60 625.62,243.12 Q627.62,238.75 631.38,238.97 M630.97,239.26 L626.72,242.32 M631.08,237.24 Q628.10,238.63 625.04,235.49 Q629.30,234.48 631.08,237.24 M630.60,237.10 L626.24,235.84 M631.46,236.53 Q627.63,236.50 625.88,231.95 Q630.68,232.78 631.46,236.53 M631.07,236.21 L626.95,232.82 M632.68,235.83 Q629.80,233.24 631.50,228.64 Q634.58,232.46 632.68,235.83 M632.60,235.33 L631.73,230.01 M634.06,236.10 Q633.54,232.82 637.42,230.72 Q637.24,235.13 634.06,236.10 M634.32,235.68 L636.76,231.78 M634.72,236.78 Q635.85,233.50 640.40,233.41 Q638.14,237.36 634.72,236.78 M635.15,236.52 L639.29,234.07 " stroke="#ededed" stroke-width="0.6" fill="none" />
<path d="M636.20,237.80 L634.44,238.49 L635.00,240.30 L633.36,239.36 L632.29,240.92 L632.00,239.05 L630.12,239.19 L631.40,237.80 L630.12,236.41 L632.00,236.55 L632.29,234.68 L633.36,236.24 L635.00,235.30 L634.44,237.11Z" fill="#ededed"/>
<path d="M634.10,237.82 Q635.93,236.44 638.38,237.88 Q635.88,239.25 634.10,237.82 M634.37,237.82 L637.57,237.87 M633.58,238.74 Q635.62,239.48 635.71,242.22 Q633.31,240.90 633.58,238.74 M633.72,238.97 L635.31,241.56 M633.00,238.90 Q634.39,240.68 632.99,243.13 Q631.60,240.68 633.00,238.90 M633.00,239.17 L632.99,242.33 M632.07,238.39 Q631.44,240.30 628.84,240.42 Q630.07,238.13 632.07,238.39 M631.84,238.53 L629.47,240.02 M631.93,237.56 Q630.14,238.46 628.22,236.72 Q630.70,235.97 631.93,237.56 M631.66,237.50 L628.94,236.88 M632.28,236.97 Q630.51,236.74 630.03,234.40 Q632.28,235.19 632.28,236.97 M632.10,236.76 L630.48,234.91 M633.08,236.70 Q632.01,235.32 633.31,233.37 Q634.32,235.49 633.08,236.70 M633.10,236.43 L633.26,234.03 M633.85,237.10 Q634.32,234.96 637.05,234.50 Q636.05,237.07 633.85,237.10 M634.07,236.93 L636.44,234.99 " stroke="#ededed" stroke-width="0.6" fill="none" />
<path d="M634.76,237.80 L633.79,238.18 L634.10,239.18 L633.20,238.66 L632.61,239.52 L632.45,238.49 L631.41,238.56 L632.12,237.80 L631.41,237.04 L632.45,237.11 L632.61,236.08 L633.20,236.94 L634.10,236.42 L633.79,237.42Z" fill="#ededed"/>
<path d="M735.24,241.24 L732.53,241.48 L733.31,243.55 L731.38,242.43 L730.73,244.56 L729.94,241.94 L728.19,242.29 L729.30,241.08 L726.66,239.68 L729.45,239.49 L729.02,237.38 L730.28,238.43 L731.65,236.43 L732.18,238.61 L734.37,237.84 L733.11,240.03Z" fill="#ededed" stroke="#ededed" stroke-width="0.4"/>
<path d="M646.8,297.5 C646,279 665,265.6 685,265.6 C700,265.6 714,274 718.3,286 C720.5,292 720.3,299 718.6,304" stroke="#bcbcbc" stroke-width="2.05" fill="none" stroke-linejoin="round"/>
<path d="M646.8,297.5 C646,279 665,265.6 685,265.6 C700,265.6 714,274 718.3,286 C720.5,292 720.3,299 718.6,304" stroke="#000" stroke-width="0.85" fill="none" stroke-linejoin="round"/>
<circle cx="711.40" cy="276.90" r="8.40" stroke="#bcbcbc" stroke-width="0.8" fill="#000"/>
<circle cx="711.40" cy="276.90" r="7.20" stroke="#bcbcbc" stroke-width="0.5" fill="none"/>
<circle cx="717.00" cy="275.20" r="3.90" stroke="#bcbcbc" stroke-width="0.7" fill="none"/>
<line x1="738.50" y1="287.50" x2="742.50" y2="287.50" stroke="#bcbcbc" stroke-width="0.6"/>
<line x1="738.50" y1="365.50" x2="742.50" y2="365.50" stroke="#bcbcbc" stroke-width="0.6"/>
<path d="M646.2,298.2 L659.1,291.5 L663,297.1 L649.6,305 Z" stroke="#bcbcbc" stroke-width="0.7" fill="none" />
<path d="M652.4,294.5 Q655,291.5 658.5,292.5 L661.5,296.5 Q661,298.5 658,300 L655.5,301 Q653.5,301.2 652.6,299 Z" stroke="#bcbcbc" stroke-width="0.6" fill="none" />
<path d="M649.6,305 Q652,315 664,322 Q674,327.5 686,325.5" stroke="#bcbcbc" stroke-width="0.7" fill="none" />
<path d="M659.5,296.5 L672,308.5 Q678,316 683,323" stroke="#bcbcbc" stroke-width="0.7" fill="none" />
<path d="M677,310 L688.4,305.6 L699.6,320.8 L687.8,325.3" stroke="#bcbcbc" stroke-width="0.7" fill="none" />
<path d="M692.9,312.3 L715.4,305 L724.4,317.4 L699.6,320.8" stroke="#bcbcbc" stroke-width="0.7" fill="none" />
<line x1="686.00" y1="325.50" x2="724.40" y2="317.60" stroke="#bcbcbc" stroke-width="0.7"/>
<g transform="translate(680 295) rotate(-35)">
<rect x="-8.00" y="-6.50" width="16.00" height="13.00" rx="3.00" stroke="#bcbcbc" stroke-width="0.7" fill="none"/>
</g>
<g transform="translate(691.5 290.5) rotate(-35)">
<rect x="-8.50" y="-6.00" width="17.00" height="12.00" rx="3.00" stroke="#bcbcbc" stroke-width="0.7" fill="none"/>
</g>
<path d="M685,327.5 L707.5,323.6 L710.3,327.5 L687.3,335.4 Z" stroke="#bcbcbc" stroke-width="0.7" fill="none" />
<text transform="translate(681.50 334.00) rotate(-70) scale(1.0 1)" font-size="3.5" fill="#d6d6d6" stroke="#d6d6d6" stroke-width="0.18" text-anchor="middle"><tspan x="0" y="-1.07">LIVING ROOM</tspan><tspan x="0" y="3.52">8.5 X 6.5 M</tspan></text>
<rect x="627.00" y="380.30" width="55.80" height="18.00" rx="0.00" stroke="#bcbcbc" stroke-width="0.8" fill="none"/>
<rect x="630.80" y="373.50" width="9.00" height="6.60" rx="1.50" stroke="#bcbcbc" stroke-width="0.7" fill="none"/>
<line x1="632.10" y1="375.00" x2="638.50" y2="375.00" stroke="#bcbcbc" stroke-width="0.5"/>
<rect x="630.80" y="398.30" width="9.00" height="6.60" rx="1.50" stroke="#bcbcbc" stroke-width="0.7" fill="none"/>
<line x1="632.10" y1="403.40" x2="638.50" y2="403.40" stroke="#bcbcbc" stroke-width="0.5"/>
<rect x="643.50" y="373.50" width="9.00" height="6.60" rx="1.50" stroke="#bcbcbc" stroke-width="0.7" fill="none"/>
<line x1="644.80" y1="375.00" x2="651.20" y2="375.00" stroke="#bcbcbc" stroke-width="0.5"/>
<rect x="643.50" y="398.30" width="9.00" height="6.60" rx="1.50" stroke="#bcbcbc" stroke-width="0.7" fill="none"/>
<line x1="644.80" y1="403.40" x2="651.20" y2="403.40" stroke="#bcbcbc" stroke-width="0.5"/>
<rect x="655.50" y="373.50" width="9.00" height="6.60" rx="1.50" stroke="#bcbcbc" stroke-width="0.7" fill="none"/>
<line x1="656.80" y1="375.00" x2="663.20" y2="375.00" stroke="#bcbcbc" stroke-width="0.5"/>
<rect x="655.50" y="398.30" width="9.00" height="6.60" rx="1.50" stroke="#bcbcbc" stroke-width="0.7" fill="none"/>
<line x1="656.80" y1="403.40" x2="663.20" y2="403.40" stroke="#bcbcbc" stroke-width="0.5"/>
<rect x="670.00" y="373.50" width="9.00" height="6.60" rx="1.50" stroke="#bcbcbc" stroke-width="0.7" fill="none"/>
<line x1="671.30" y1="375.00" x2="677.70" y2="375.00" stroke="#bcbcbc" stroke-width="0.5"/>
<rect x="670.00" y="398.30" width="9.00" height="6.60" rx="1.50" stroke="#bcbcbc" stroke-width="0.7" fill="none"/>
<line x1="671.30" y1="403.40" x2="677.70" y2="403.40" stroke="#bcbcbc" stroke-width="0.5"/>
<rect x="682.80" y="384.70" width="6.70" height="9.00" rx="1.40" stroke="#bcbcbc" stroke-width="0.7" fill="none"/>
<rect x="620.30" y="384.20" width="6.70" height="9.50" rx="1.40" stroke="#bcbcbc" stroke-width="0.7" fill="none"/>
<g transform="translate(725.8 372.8) rotate(-30)">
<rect x="-8.00" y="-7.00" width="16.00" height="14.00" rx="1.50" stroke="#bcbcbc" stroke-width="0.8" fill="none"/>
<rect x="-6.50" y="-5.50" width="9.50" height="11.00" rx="0.50" stroke="#bcbcbc" stroke-width="0.6" fill="none"/>
<line x1="3.50" y1="-6.00" x2="3.50" y2="6.00" stroke="#bcbcbc" stroke-width="0.6"/>
</g>
<g transform="translate(719.8 398.3) rotate(-35)">
<rect x="-8.00" y="-7.00" width="16.00" height="14.00" rx="1.50" stroke="#bcbcbc" stroke-width="0.8" fill="none"/>
<rect x="-6.50" y="-5.50" width="9.50" height="11.00" rx="0.50" stroke="#bcbcbc" stroke-width="0.6" fill="none"/>
<line x1="3.50" y1="-6.00" x2="3.50" y2="6.00" stroke="#bcbcbc" stroke-width="0.6"/>
</g>
<path d="M706.5,378.5 Q710,376.5 714,378.2 Q714.5,381 710.5,385.2 Q706,382.5 706.5,378.5Z" stroke="#bcbcbc" stroke-width="0.7" fill="none" />
<path d="M738.3,366.5 Q736.5,386 731.5,401.5 Q728.5,408 722,409.5" stroke="#bcbcbc" stroke-width="0.8" fill="none" />
<line x1="738.30" y1="365.50" x2="740.50" y2="365.50" stroke="#bcbcbc" stroke-width="0.6"/>
<path d="M609.8,366 Q611,392 616,401.5 Q619.5,409.3 627,409.5 L738.5,409.5" stroke="#bcbcbc" stroke-width="0.8" fill="none" />
<rect x="326.30" y="307.20" width="6.70" height="30.20" rx="0.00" stroke="#c8c8c8" stroke-width="0.8" fill="url(#gq)"/>
<rect x="333.00" y="314.00" width="1.80" height="9.00" rx="0.50" stroke="#bcbcbc" stroke-width="0.5" fill="none"/>
<path d="M343.8,307.4 A13.2,13.2 0 0 0 357,320.6" stroke="#bcbcbc" stroke-width="0.6" fill="none" stroke-dasharray="1.2 0.7"/>
<line x1="357.00" y1="307.40" x2="357.00" y2="320.60" stroke="#bcbcbc" stroke-width="1.0"/>
<text transform="translate(343.00 320.60) rotate(-70) scale(1.0 1)" font-size="2.6" fill="#d6d6d6" stroke="#d6d6d6" stroke-width="0.18" text-anchor="middle"><tspan x="0" y="0.91">SH.</tspan></text>
<line x1="358.80" y1="307.20" x2="358.80" y2="337.50" stroke="#bcbcbc" stroke-width="0.8"/>
<line x1="360.20" y1="307.20" x2="360.20" y2="337.50" stroke="#bcbcbc" stroke-width="0.8"/>
<path d="M361.2,320.5 A13,13 0 0 0 374.2,307.5" stroke="#bcbcbc" stroke-width="0.6" fill="none" stroke-dasharray="1.2 0.7"/>
<text transform="translate(373.50 313.50) rotate(-70) scale(1.0 1)" font-size="2.6" fill="#d6d6d6" stroke="#d6d6d6" stroke-width="0.18" text-anchor="middle"><tspan x="0" y="0.91">W.C.</tspan></text>
<rect x="370.20" y="322.00" width="7.40" height="8.00" rx="1.00" stroke="#bcbcbc" stroke-width="0.8" fill="none"/>
<rect x="371.50" y="323.50" width="4.80" height="5.00" rx="1.50" stroke="#bcbcbc" stroke-width="0.6" fill="none"/>
<rect x="366.00" y="331.50" width="15.00" height="4.00" rx="0.30" stroke="#bcbcbc" stroke-width="0.7" fill="none"/>
<rect x="374.00" y="332.20" width="2.00" height="2.00" rx="0.00" stroke="#eee" stroke-width="0.5" fill="#eee"/>
<line x1="326.60" y1="337.50" x2="358.00" y2="337.50" stroke="#bcbcbc" stroke-width="0.8"/>
<line x1="360.20" y1="337.50" x2="387.50" y2="337.50" stroke="#bcbcbc" stroke-width="0.8"/>
<path d="M369.5,339.8 Q371.5,338.2 373.5,339.8 Q373,342 371.5,342.6 Q369.5,342 369.5,339.8Z" stroke="#bcbcbc" stroke-width="0.6" fill="none" />
<path d="M383.08,343.14 L381.18,343.50 L382.01,345.04 L380.59,344.32 L379.91,345.29 L379.33,344.29 L378.02,344.47 L378.84,343.27 L377.03,342.28 L378.69,341.97 L377.93,340.66 L379.53,341.28 L380.66,339.63 L380.64,341.32 L382.79,341.06 L381.23,342.33Z" fill="#ededed" stroke="#ededed" stroke-width="0.4"/>
<path d="M383,347 Q384.5,350 383.5,352" stroke="#bcbcbc" stroke-width="0.6" fill="none" />
<path d="M350.00,337.60 C352.00,337.97 357.83,338.40 362.00,339.80 C366.17,341.20 370.67,343.47 375.00,346.00 C379.33,348.53 384.33,351.75 388.00,355.00 C391.67,358.25 390.00,358.67 397.00,365.50 C404.00,372.33 424.50,390.92 430.00,396.00" stroke="#bcbcbc" stroke-width="0.8" fill="none" />
<path d="M350.00,339.40 C352.00,339.77 358.00,340.23 362.00,341.60 C366.00,342.97 369.92,345.12 374.00,347.60 C378.08,350.08 382.90,353.30 386.50,356.50 C390.10,359.70 388.60,359.97 395.60,366.80 C402.60,373.63 423.02,392.38 428.50,397.50" stroke="#bcbcbc" stroke-width="0.6" fill="none" />
<path d="M388.80,309.40 L435.00,309.40 L435.00,320.60 L388.80,320.60Z" stroke="#e0e0e0" stroke-width="0.7" fill="none" />
<path d="M389.70,310.30 L434.10,310.30 L434.10,319.70 L389.70,319.70Z" stroke="#e0e0e0" stroke-width="0.5" fill="none" />
<path d="M390.80,311.00 L390.80,319.00 M392.85,311.00 L392.85,319.00 M394.90,311.00 L394.90,319.00 M396.95,311.00 L396.95,319.00 M399.00,311.00 L399.00,319.00 M401.05,311.00 L401.05,319.00 M403.10,311.00 L403.10,319.00 M405.15,311.00 L405.15,319.00 M407.20,311.00 L407.20,319.00 M409.25,311.00 L409.25,319.00 M411.30,311.00 L411.30,319.00 M413.35,311.00 L413.35,319.00 M415.40,311.00 L415.40,319.00 M417.45,311.00 L417.45,319.00 M419.50,311.00 L419.50,319.00 M421.55,311.00 L421.55,319.00 M423.60,311.00 L423.60,319.00 M425.65,311.00 L425.65,319.00 M427.70,311.00 L427.70,319.00 M429.75,311.00 L429.75,319.00 M431.80,311.00 L431.80,319.00 " stroke="#e0e0e0" stroke-width="1.0" fill="none" />
<line x1="389.80" y1="315.00" x2="434.00" y2="315.00" stroke="#e8e8e8" stroke-width="0.9"/>
<path d="M400.60,320.60 L400.60,321.10 L400.60,321.60 L400.60,322.10 L400.60,322.60 L400.60,323.10 L400.60,323.60 L400.60,324.10 L400.60,324.60 L400.60,325.10 L400.60,325.60 L400.60,326.10 L400.60,326.60 L400.60,327.10 L400.60,327.60 L400.60,328.10 L400.60,328.60 L400.60,329.10 L400.60,329.60 L400.60,330.10 L400.60,330.60 L400.60,331.10 L400.60,331.60 L400.60,332.10 L400.60,332.60 L400.60,333.10 L400.60,333.60 L400.60,334.10 L400.60,334.60 L400.60,335.10 L400.60,335.60 L400.60,336.10 L400.60,336.60 L400.60,337.10 L400.60,337.60 L400.60,338.10 L400.60,338.60 L400.60,339.10 L400.60,339.60 L400.60,340.10 L400.60,340.60 L400.60,341.10 L400.60,341.60 L400.60,342.10 L400.60,342.60 L400.60,343.10 L400.60,343.60 L400.61,344.10 L400.64,344.60 L400.67,345.10 L400.74,345.59 L400.83,346.08 L400.93,346.57 L401.09,347.05 L401.25,347.52 L401.44,347.98 L401.66,348.43 L401.88,348.88 L402.16,349.29 L402.44,349.71 L402.73,350.11 L403.06,350.49 L403.39,350.87 L403.73,351.23 L404.08,351.59 L404.43,351.94 L404.79,352.30 L405.14,352.65 L405.49,353.01 L405.84,353.36 L406.19,353.72 L406.55,354.07 L406.90,354.43 L407.25,354.78 L407.60,355.14 L407.95,355.49 L408.30,355.85 L408.66,356.21 L409.01,356.56 L409.36,356.92 L409.71,357.27 L410.06,357.63 L410.42,357.98 L410.77,358.34 L411.12,358.69 L411.47,359.05 L411.82,359.40 L412.18,359.76 L412.53,360.11 L412.88,360.47 L413.23,360.82 L413.58,361.18 L413.93,361.53 L414.30,361.87 L414.68,362.20 L415.05,362.53 L415.46,362.82 L415.87,363.10 L416.30,363.36 L416.74,363.59 L417.19,363.82 L417.66,363.99 L418.13,364.16 L418.61,364.30 L419.10,364.40 L419.59,364.50 L420.09,364.54 L420.59,364.57 L421.08,364.60 L421.58,364.60 L422.08,364.60 L422.58,364.60 L423.08,364.60 L423.58,364.60 L424.08,364.60 L424.58,364.60 L425.08,364.60 L425.58,364.60 L426.08,364.60 L426.58,364.60 L427.08,364.60 L427.58,364.60 L428.08,364.60 L428.58,364.60 L429.08,364.60 L429.58,364.60 L430.08,364.60 L430.58,364.60 L431.08,364.60 L431.58,364.60 L432.08,364.60 L432.58,364.60 L433.08,364.60 L433.58,364.60 L434.08,364.60 L434.58,364.60 L435.08,364.60 L435.58,364.60 L436.08,364.60 L436.58,364.60 L437.08,364.60 L437.58,364.60 L438.08,364.60 L438.58,364.60 L439.08,364.60 L439.58,364.60 L440.08,364.60 L440.58,364.60 L441.08,364.60 L441.58,364.60 L442.08,364.60 L442.58,364.60 L443.08,364.60 L443.58,364.60 L444.08,364.60 L444.58,364.60 L445.08,364.60 L445.58,364.60 L446.08,364.60 L446.58,364.60 L447.08,364.60 L447.58,364.60 L448.08,364.60 L448.58,364.60 L449.08,364.60 L449.58,364.60 L450.08,364.60 L450.58,364.60 L451.08,364.60 L451.58,364.60 L452.08,364.60 L452.58,364.60 L453.08,364.60 L453.58,364.60 L454.08,364.60 L454.58,364.60 L455.08,364.60 L455.58,364.60 L456.08,364.60 L456.08,375.80 L455.58,375.80 L455.08,375.80 L454.58,375.80 L454.08,375.80 L453.58,375.80 L453.08,375.80 L452.58,375.80 L452.08,375.80 L451.58,375.80 L451.08,375.80 L450.58,375.80 L450.08,375.80 L449.58,375.80 L449.08,375.80 L448.58,375.80 L448.08,375.80 L447.58,375.80 L447.08,375.80 L446.58,375.80 L446.08,375.80 L445.58,375.80 L445.08,375.80 L444.58,375.80 L444.08,375.80 L443.58,375.80 L443.08,375.80 L442.58,375.80 L442.08,375.80 L441.58,375.80 L441.08,375.80 L440.58,375.80 L440.08,375.80 L439.58,375.80 L439.08,375.80 L438.58,375.80 L438.08,375.80 L437.58,375.80 L437.08,375.80 L436.58,375.80 L436.08,375.80 L435.58,375.80 L435.08,375.80 L434.58,375.80 L434.08,375.80 L433.58,375.80 L433.08,375.80 L432.58,375.80 L432.08,375.80 L431.58,375.80 L431.08,375.80 L430.58,375.80 L430.08,375.80 L429.58,375.80 L429.08,375.80 L428.58,375.80 L428.08,375.80 L427.58,375.80 L427.08,375.80 L426.58,375.80 L426.08,375.80 L425.58,375.80 L425.08,375.80 L424.58,375.80 L424.08,375.80 L423.58,375.80 L423.08,375.80 L422.58,375.80 L422.08,375.80 L421.58,375.80 L421.08,375.80 L419.87,375.75 L419.37,375.72 L417.39,375.48 L416.90,375.38 L416.41,375.28 L414.44,374.73 L413.97,374.57 L412.08,373.79 L411.64,373.56 L411.19,373.33 L409.50,372.31 L409.09,372.03 L408.68,371.74 L407.22,370.56 L406.85,370.23 L405.98,369.42 L405.63,369.06 L405.27,368.71 L404.92,368.35 L404.57,367.99 L404.22,367.64 L403.87,367.28 L403.51,366.93 L403.16,366.57 L402.81,366.22 L402.46,365.86 L402.11,365.51 L401.75,365.15 L401.40,364.80 L401.05,364.44 L400.70,364.09 L400.35,363.73 L400.00,363.38 L399.64,363.02 L399.29,362.67 L398.94,362.31 L398.59,361.96 L398.24,361.60 L397.88,361.25 L397.53,360.89 L397.18,360.54 L396.83,360.18 L396.48,359.82 L396.12,359.47 L395.77,359.11 L394.90,358.18 L394.58,357.80 L394.25,357.42 L393.13,355.94 L392.85,355.52 L391.85,353.85 L391.62,353.40 L391.40,352.95 L390.63,351.10 L390.48,350.63 L390.32,350.15 L389.83,348.21 L389.74,347.72 L389.49,345.79 L389.46,345.29 L389.43,344.79 L389.40,343.60 L389.40,343.10 L389.40,342.60 L389.40,342.10 L389.40,341.60 L389.40,341.10 L389.40,340.60 L389.40,340.10 L389.40,339.60 L389.40,339.10 L389.40,338.60 L389.40,338.10 L389.40,337.60 L389.40,337.10 L389.40,336.60 L389.40,336.10 L389.40,335.60 L389.40,335.10 L389.40,334.60 L389.40,334.10 L389.40,333.60 L389.40,333.10 L389.40,332.60 L389.40,332.10 L389.40,331.60 L389.40,331.10 L389.40,330.60 L389.40,330.10 L389.40,329.60 L389.40,329.10 L389.40,328.60 L389.40,328.10 L389.40,327.60 L389.40,327.10 L389.40,326.60 L389.40,326.10 L389.40,325.60 L389.40,325.10 L389.40,324.60 L389.40,324.10 L389.40,323.60 L389.40,323.10 L389.40,322.60 L389.40,322.10 L389.40,321.60 L389.40,321.10 L389.40,320.60Z" stroke="#e0e0e0" stroke-width="0.7" fill="none" />
<path d="M399.70,320.60 L399.70,321.10 L399.70,321.60 L399.70,322.10 L399.70,322.60 L399.70,323.10 L399.70,323.60 L399.70,324.10 L399.70,324.60 L399.70,325.10 L399.70,325.60 L399.70,326.10 L399.70,326.60 L399.70,327.10 L399.70,327.60 L399.70,328.10 L399.70,328.60 L399.70,329.10 L399.70,329.60 L399.70,330.10 L399.70,330.60 L399.70,331.10 L399.70,331.60 L399.70,332.10 L399.70,332.60 L399.70,333.10 L399.70,333.60 L399.70,334.10 L399.70,334.60 L399.70,335.10 L399.70,335.60 L399.70,336.10 L399.70,336.60 L399.70,337.10 L399.70,337.60 L399.70,338.10 L399.70,338.60 L399.70,339.10 L399.70,339.60 L399.70,340.10 L399.70,340.60 L399.70,341.10 L399.70,341.60 L399.70,342.10 L399.70,342.60 L399.70,343.10 L399.70,343.60 L399.71,344.16 L399.74,344.65 L399.77,345.15 L399.85,345.76 L399.95,346.25 L400.08,346.86 L400.24,347.33 L400.39,347.81 L400.63,348.38 L400.85,348.83 L401.08,349.28 L401.41,349.79 L401.69,350.21 L402.05,350.70 L402.38,351.08 L402.71,351.46 L403.09,351.87 L403.44,352.22 L403.79,352.58 L404.15,352.93 L404.50,353.29 L404.85,353.64 L405.20,354.00 L405.55,354.35 L405.91,354.71 L406.26,355.06 L406.61,355.42 L406.96,355.77 L407.31,356.13 L407.66,356.48 L408.02,356.84 L408.37,357.19 L408.72,357.55 L409.07,357.90 L409.42,358.26 L409.78,358.61 L410.13,358.97 L410.48,359.33 L410.83,359.68 L411.18,360.04 L411.54,360.39 L411.89,360.75 L412.24,361.10 L412.59,361.46 L412.94,361.81 L413.29,362.17 L413.70,362.54 L414.08,362.88 L414.54,363.27 L414.95,363.56 L415.36,363.84 L415.89,364.16 L416.33,364.39 L416.78,364.62 L417.36,364.84 L417.83,365.01 L418.43,365.18 L418.92,365.28 L419.41,365.38 L420.03,365.44 L420.53,365.47 L421.08,365.50 L421.58,365.50 L422.08,365.50 L422.58,365.50 L423.08,365.50 L423.58,365.50 L424.08,365.50 L424.58,365.50 L425.08,365.50 L425.58,365.50 L426.08,365.50 L426.58,365.50 L427.08,365.50 L427.58,365.50 L428.08,365.50 L428.58,365.50 L429.08,365.50 L429.58,365.50 L430.08,365.50 L430.58,365.50 L431.08,365.50 L431.58,365.50 L432.08,365.50 L432.58,365.50 L433.08,365.50 L433.58,365.50 L434.08,365.50 L434.58,365.50 L435.08,365.50 L435.58,365.50 L436.08,365.50 L436.58,365.50 L437.08,365.50 L437.58,365.50 L438.08,365.50 L438.58,365.50 L439.08,365.50 L439.58,365.50 L440.08,365.50 L440.58,365.50 L441.08,365.50 L441.58,365.50 L442.08,365.50 L442.58,365.50 L443.08,365.50 L443.58,365.50 L444.08,365.50 L444.58,365.50 L445.08,365.50 L445.58,365.50 L446.08,365.50 L446.58,365.50 L447.08,365.50 L447.58,365.50 L448.08,365.50 L448.58,365.50 L449.08,365.50 L449.58,365.50 L450.08,365.50 L450.58,365.50 L451.08,365.50 L451.58,365.50 L452.08,365.50 L452.58,365.50 L453.08,365.50 L453.58,365.50 L454.08,365.50 L454.58,365.50 L455.08,365.50 L455.58,365.50 L456.08,365.50 L456.08,374.90 L455.58,374.90 L455.08,374.90 L454.58,374.90 L454.08,374.90 L453.58,374.90 L453.08,374.90 L452.58,374.90 L452.08,374.90 L451.58,374.90 L451.08,374.90 L450.58,374.90 L450.08,374.90 L449.58,374.90 L449.08,374.90 L448.58,374.90 L448.08,374.90 L447.58,374.90 L447.08,374.90 L446.58,374.90 L446.08,374.90 L445.58,374.90 L445.08,374.90 L444.58,374.90 L444.08,374.90 L443.58,374.90 L443.08,374.90 L442.58,374.90 L442.08,374.90 L441.58,374.90 L441.08,374.90 L440.58,374.90 L440.08,374.90 L439.58,374.90 L439.08,374.90 L438.58,374.90 L438.08,374.90 L437.58,374.90 L437.08,374.90 L436.58,374.90 L436.08,374.90 L435.58,374.90 L435.08,374.90 L434.58,374.90 L434.08,374.90 L433.58,374.90 L433.08,374.90 L432.58,374.90 L432.08,374.90 L431.58,374.90 L431.08,374.90 L430.58,374.90 L430.08,374.90 L429.58,374.90 L429.08,374.90 L428.58,374.90 L428.08,374.90 L427.58,374.90 L427.08,374.90 L426.58,374.90 L426.08,374.90 L425.58,374.90 L425.08,374.90 L424.58,374.90 L424.08,374.90 L423.58,374.90 L423.08,374.90 L422.58,374.90 L422.08,374.90 L421.58,374.90 L421.08,374.90 L419.93,374.85 L419.43,374.82 L417.57,374.60 L417.08,374.50 L416.59,374.40 L414.74,373.88 L414.27,373.72 L412.49,372.99 L412.05,372.76 L411.60,372.53 L410.01,371.57 L409.60,371.29 L409.19,371.00 L407.82,369.89 L407.45,369.56 L406.62,368.78 L406.26,368.43 L405.91,368.07 L405.56,367.72 L405.21,367.36 L404.86,367.01 L404.51,366.65 L404.15,366.30 L403.80,365.94 L403.45,365.59 L403.10,365.23 L402.75,364.87 L402.39,364.52 L402.04,364.16 L401.69,363.81 L401.34,363.45 L400.99,363.10 L400.63,362.74 L400.28,362.39 L399.93,362.03 L399.58,361.68 L399.23,361.32 L398.88,360.97 L398.52,360.61 L398.17,360.26 L397.82,359.90 L397.47,359.55 L397.12,359.19 L396.76,358.84 L396.41,358.48 L395.59,357.59 L395.26,357.22 L394.93,356.84 L393.88,355.44 L393.60,355.02 L392.65,353.45 L392.43,353.00 L392.21,352.55 L391.49,350.81 L391.33,350.34 L391.17,349.86 L390.72,348.04 L390.62,347.55 L390.39,345.73 L390.36,345.23 L390.33,344.73 L390.30,343.60 L390.30,343.10 L390.30,342.60 L390.30,342.10 L390.30,341.60 L390.30,341.10 L390.30,340.60 L390.30,340.10 L390.30,339.60 L390.30,339.10 L390.30,338.60 L390.30,338.10 L390.30,337.60 L390.30,337.10 L390.30,336.60 L390.30,336.10 L390.30,335.60 L390.30,335.10 L390.30,334.60 L390.30,334.10 L390.30,333.60 L390.30,333.10 L390.30,332.60 L390.30,332.10 L390.30,331.60 L390.30,331.10 L390.30,330.60 L390.30,330.10 L390.30,329.60 L390.30,329.10 L390.30,328.60 L390.30,328.10 L390.30,327.60 L390.30,327.10 L390.30,326.60 L390.30,326.10 L390.30,325.60 L390.30,325.10 L390.30,324.60 L390.30,324.10 L390.30,323.60 L390.30,323.10 L390.30,322.60 L390.30,322.10 L390.30,321.60 L390.30,321.10 L390.30,320.60Z" stroke="#e0e0e0" stroke-width="0.5" fill="none" />
<path d="M399.00,322.65 L391.00,322.65 M399.00,324.70 L391.00,324.70 M399.00,326.75 L391.00,326.75 M399.00,328.80 L391.00,328.80 M399.00,330.85 L391.00,330.85 M399.00,332.90 L391.00,332.90 M399.00,334.95 L391.00,334.95 M399.00,337.00 L391.00,337.00 M399.00,339.05 L391.00,339.05 M399.00,341.10 L391.00,341.10 M399.00,343.15 L391.00,343.15 M399.08,345.30 L391.09,345.79 M399.62,347.70 L392.04,350.26 M400.66,349.93 L394.01,354.38 M402.01,351.72 L395.95,356.95 M403.51,353.28 L397.82,358.91 M404.95,354.74 L399.27,360.37 M406.39,356.19 L400.71,361.82 M407.84,357.65 L402.15,363.28 M409.28,359.11 L403.60,364.74 M410.72,360.56 L405.04,366.19 M412.16,362.02 L406.48,367.65 M413.72,363.50 L408.40,369.47 M415.75,364.88 L412.10,372.00 M417.84,365.75 L415.20,373.30 M420.28,366.16 L419.77,374.14 M422.43,366.20 L422.43,374.20 M424.48,366.20 L424.48,374.20 M426.53,366.20 L426.53,374.20 M428.58,366.20 L428.58,374.20 M430.63,366.20 L430.63,374.20 M432.68,366.20 L432.68,374.20 M434.73,366.20 L434.73,374.20 M436.78,366.20 L436.78,374.20 M438.83,366.20 L438.83,374.20 M440.88,366.20 L440.88,374.20 M442.93,366.20 L442.93,374.20 M444.98,366.20 L444.98,374.20 M447.03,366.20 L447.03,374.20 M449.08,366.20 L449.08,374.20 M451.13,366.20 L451.13,374.20 M453.18,366.20 L453.18,374.20 " stroke="#e0e0e0" stroke-width="1.0" fill="none" />
<path d="M395.00,320.60 L395.00,321.10 L395.00,321.60 L395.00,322.10 L395.00,322.60 L395.00,323.10 L395.00,323.60 L395.00,324.10 L395.00,324.60 L395.00,325.10 L395.00,325.60 L395.00,326.10 L395.00,326.60 L395.00,327.10 L395.00,327.60 L395.00,328.10 L395.00,328.60 L395.00,329.10 L395.00,329.60 L395.00,330.10 L395.00,330.60 L395.00,331.10 L395.00,331.60 L395.00,332.10 L395.00,332.60 L395.00,333.10 L395.00,333.60 L395.00,334.10 L395.00,334.60 L395.00,335.10 L395.00,335.60 L395.00,336.10 L395.00,336.60 L395.00,337.10 L395.00,337.60 L395.00,338.10 L395.00,338.60 L395.00,339.10 L395.00,339.60 L395.00,340.10 L395.00,340.60 L395.00,341.10 L395.00,341.60 L395.00,342.10 L395.00,342.60 L395.00,343.10 L395.00,343.60 L395.02,344.44 L395.05,344.94 L395.08,345.44 L395.24,346.66 L395.33,347.15 L395.62,348.36 L395.78,348.84 L395.94,349.31 L396.42,350.47 L396.64,350.91 L396.86,351.36 L397.51,352.41 L397.78,352.82 L398.49,353.77 L398.82,354.15 L399.15,354.53 L399.75,355.17 L400.10,355.53 L400.46,355.88 L400.81,356.24 L401.16,356.59 L401.51,356.95 L401.86,357.30 L402.21,357.66 L402.57,358.02 L402.92,358.37 L403.27,358.73 L403.62,359.08 L403.97,359.44 L404.33,359.79 L404.68,360.15 L405.03,360.50 L405.38,360.86 L405.73,361.21 L406.09,361.57 L406.44,361.92 L406.79,362.28 L407.14,362.63 L407.49,362.99 L407.84,363.34 L408.20,363.70 L408.55,364.05 L408.90,364.41 L409.25,364.76 L409.60,365.12 L409.96,365.47 L410.58,366.05 L410.95,366.38 L411.86,367.14 L412.28,367.42 L412.69,367.71 L413.75,368.35 L414.19,368.58 L414.64,368.80 L415.81,369.28 L416.29,369.44 L417.51,369.79 L418.00,369.89 L418.49,369.99 L419.73,370.13 L420.23,370.16 L421.08,370.20 L421.58,370.20 L422.08,370.20 L422.58,370.20 L423.08,370.20 L423.58,370.20 L424.08,370.20 L424.58,370.20 L425.08,370.20 L425.58,370.20 L426.08,370.20 L426.58,370.20 L427.08,370.20 L427.58,370.20 L428.08,370.20 L428.58,370.20 L429.08,370.20 L429.58,370.20 L430.08,370.20 L430.58,370.20 L431.08,370.20 L431.58,370.20 L432.08,370.20 L432.58,370.20 L433.08,370.20 L433.58,370.20 L434.08,370.20 L434.58,370.20 L435.08,370.20 L435.58,370.20 L436.08,370.20 L436.58,370.20 L437.08,370.20 L437.58,370.20 L438.08,370.20 L438.58,370.20 L439.08,370.20 L439.58,370.20 L440.08,370.20 L440.58,370.20 L441.08,370.20 L441.58,370.20 L442.08,370.20 L442.58,370.20 L443.08,370.20 L443.58,370.20 L444.08,370.20 L444.58,370.20 L445.08,370.20 L445.58,370.20 L446.08,370.20 L446.58,370.20 L447.08,370.20 L447.58,370.20 L448.08,370.20 L448.58,370.20 L449.08,370.20 L449.58,370.20 L450.08,370.20 L450.58,370.20 L451.08,370.20 L451.58,370.20 L452.08,370.20 L452.58,370.20 L453.08,370.20 L453.58,370.20 L454.08,370.20 L454.58,370.20 L455.08,370.20 L455.58,370.20 L456.08,370.20" stroke="#e8e8e8" stroke-width="0.9" fill="none" />
<path d="M387.5,307.5 L387.5,346 Q387.5,354 393,359.5 L407.5,373.5 Q411.5,377.5 418,377.5 L456.3,377.5" stroke="#bcbcbc" stroke-width="0.8" fill="none" />
<path d="M388.9,309 L388.9,346 Q388.9,353.4 394,358.5 L408.5,372.5 Q412.3,376.1 418,376.1 L456.3,376.1" stroke="#bcbcbc" stroke-width="0.6" fill="none" />
<line x1="458.20" y1="325.00" x2="458.20" y2="346.00" stroke="#e6e6e6" stroke-width="1.3"/>
<text transform="translate(422.30 339.20) rotate(-80) scale(1.0 1)" font-size="3.7" fill="#d6d6d6" stroke="#d6d6d6" stroke-width="0.18" text-anchor="middle"><tspan x="0" y="-3.41">WALK-IN</tspan><tspan x="0" y="1.29">WARDROBE</tspan><tspan x="0" y="6.00">3.9 X 3.7 M</tspan></text>
<path d="M421,379.4 Q421.5,392 430,400.5 Q438,408.8 449,412 L456.3,413.1 L456.3,379.4 Z" stroke="#bcbcbc" stroke-width="0.8" fill="none" />
<path d="M423,380.6 Q423.5,391.5 431.3,399.3 Q439,407 449.5,410.6 L455,411.4" stroke="#bcbcbc" stroke-width="0.6" fill="none" />
<path d="M430.34,384.48 L428.98,385.43 L429.62,387.33 L427.86,385.90 L427.43,387.30 L426.67,385.66 L425.05,386.49 L426.08,384.98 L424.00,384.15 L426.12,383.67 L425.79,381.57 L427.19,382.72 L427.52,381.19 L428.36,382.83 L430.18,382.15 L428.96,384.01Z" fill="#ededed" stroke="#ededed" stroke-width="0.4"/>
<path d="M437.23,383.12 L435.63,383.34 L436.52,384.63 L434.78,384.35 L434.40,385.79 L433.51,384.06 L431.97,384.72 L432.67,383.05 L430.67,382.26 L433.05,381.83 L432.51,379.80 L433.79,380.90 L434.47,378.92 L435.36,380.99 L436.95,380.64 L435.93,382.04Z" fill="#ededed" stroke="#ededed" stroke-width="0.4"/>
<path d="M455.82,383.64 L454.16,383.82 L455.05,385.28 L453.28,384.63 L452.65,386.66 L452.29,384.47 L450.18,385.16 L451.31,383.35 L449.88,382.73 L451.35,382.24 L450.94,380.12 L452.44,381.48 L453.65,379.68 L453.67,381.51 L455.57,381.37 L454.46,382.48Z" fill="#ededed" stroke="#ededed" stroke-width="0.4"/>
<path d="M456.08,406.24 L453.84,406.22 L454.57,407.94 L452.88,407.03 L452.25,408.58 L451.45,407.02 L449.78,408.19 L451.01,406.17 L449.02,404.73 L451.14,404.72 L450.19,403.05 L451.96,404.19 L452.78,402.77 L453.35,404.02 L455.20,403.70 L454.09,405.22Z" fill="#ededed" stroke="#ededed" stroke-width="0.4"/>
<path d="M446.60,391.37 Q449.06,389.55 452.36,391.61 Q448.89,393.39 446.60,391.37 M447.00,391.39 L451.26,391.57 M446.17,392.39 Q449.35,392.64 450.55,396.47 Q446.65,395.54 446.17,392.39 M446.46,392.66 L449.72,395.69 M445.07,392.90 Q447.01,395.05 445.30,398.38 Q443.31,395.20 445.07,392.90 M445.08,393.30 L445.25,397.32 M444.25,392.71 Q444.83,395.86 441.45,398.02 Q441.33,394.00 444.25,392.71 M444.07,393.07 L441.98,397.01 M443.60,392.07 Q442.65,394.61 439.07,394.56 Q440.95,391.51 443.60,392.07 M443.25,392.26 L439.96,394.07 M443.44,390.96 Q440.44,392.38 437.37,389.62 Q441.32,388.40 443.44,390.96 M443.05,390.87 L438.52,389.87 M443.96,390.09 Q440.86,389.50 440.10,385.60 Q443.84,386.94 443.96,390.09 M443.70,389.78 L440.83,386.45 M444.91,389.70 Q442.81,387.38 444.56,383.83 Q446.71,387.15 444.91,389.70 M444.88,389.30 L444.63,384.95 M445.78,389.90 Q445.24,387.03 448.46,385.07 Q448.49,388.84 445.78,389.90 M445.97,389.55 L447.94,386.00 M446.38,390.49 Q447.46,387.60 451.37,387.53 Q449.43,390.93 446.38,390.49 M446.72,390.28 L450.42,388.09 " stroke="#ededed" stroke-width="0.6" fill="none" />
<path d="M447.56,391.30 L446.15,391.86 L446.60,393.30 L445.28,392.55 L444.43,393.80 L444.20,392.30 L442.69,392.41 L443.72,391.30 L442.69,390.19 L444.20,390.30 L444.43,388.80 L445.28,390.05 L446.60,389.30 L446.15,390.74Z" fill="#ededed"/>
<path d="M445.88,391.33 Q447.13,390.35 448.89,391.41 Q447.07,392.38 445.88,391.33 M446.10,391.33 L448.30,391.40 M445.37,392.10 Q446.93,392.87 446.76,395.06 Q444.97,393.79 445.37,392.10 M445.47,392.30 L446.50,394.49 M444.65,392.11 Q445.08,393.54 443.50,394.73 Q443.29,392.76 444.65,392.11 M444.56,392.31 L443.72,394.21 M444.17,391.58 Q443.31,392.94 441.28,392.54 Q442.67,391.00 444.17,391.58 M443.96,391.65 L441.84,392.35 M444.29,390.78 Q442.71,390.87 441.88,389.00 Q443.91,389.24 444.29,390.78 M444.11,390.65 L442.35,389.34 M444.98,390.42 Q443.82,388.98 444.91,386.96 Q446.08,388.93 444.98,390.42 M444.98,390.20 L444.92,387.61 M445.59,390.64 Q445.67,388.94 447.73,388.24 Q447.27,390.36 445.59,390.64 M445.73,390.48 L447.32,388.70 " stroke="#ededed" stroke-width="0.6" fill="none" />
<path d="M446.41,391.30 L445.63,391.61 L445.88,392.40 L445.16,391.99 L444.69,392.67 L444.56,391.85 L443.73,391.91 L444.30,391.30 L443.73,390.69 L444.56,390.75 L444.69,389.93 L445.16,390.61 L445.88,390.20 L445.63,390.99Z" fill="#ededed"/>
<line x1="456.30" y1="413.20" x2="527.00" y2="413.20" stroke="#bcbcbc" stroke-width="0.8"/>
<line x1="456.30" y1="411.70" x2="527.00" y2="411.70" stroke="#bcbcbc" stroke-width="0.8"/>
<path d="M368.80,392.50 C372.67,396.35 384.30,407.88 392.00,415.60 C399.70,423.32 409.70,433.48 415.00,438.80 C420.30,444.12 420.88,445.22 423.80,447.50 C426.72,449.78 427.30,451.45 432.50,452.50 C437.70,453.55 451.25,453.58 455.00,453.80" stroke="#bcbcbc" stroke-width="0.8" fill="none" />
<path d="M367.60,394.00 C371.47,397.83 383.13,409.33 390.80,417.00 C398.47,424.67 408.30,434.70 413.60,440.00 C418.90,445.30 419.57,446.47 422.60,448.80 C425.63,451.13 426.40,452.92 431.80,454.00 C437.20,455.08 451.13,455.08 455.00,455.30" stroke="#bcbcbc" stroke-width="0.6" fill="none" />
<line x1="455.00" y1="453.80" x2="624.00" y2="453.80" stroke="#bcbcbc" stroke-width="0.8"/>
<line x1="455.00" y1="455.30" x2="624.00" y2="455.30" stroke="#bcbcbc" stroke-width="0.8"/>
<path d="M261.60,368.20 L315.60,436.70 L308.06,442.64 L254.06,374.14Z" stroke="#e0e0e0" stroke-width="0.7" fill="none" />
<path d="M261.45,369.46 L314.34,436.55 L308.21,441.38 L255.32,374.29Z" stroke="#e0e0e0" stroke-width="0.5" fill="none" />
<path d="M261.58,370.76 L256.56,374.72 M262.85,372.37 L257.82,376.33 M264.12,373.98 L259.09,377.94 M265.39,375.59 L260.36,379.55 M266.66,377.20 L261.63,381.16 M267.93,378.81 L262.90,382.77 M269.20,380.42 L264.17,384.38 M270.47,382.03 L265.44,385.99 M271.73,383.64 L266.71,387.60 M273.00,385.25 L267.98,389.21 M274.27,386.86 L269.25,390.82 M275.54,388.47 L270.52,392.43 M276.81,390.08 L271.79,394.04 M278.08,391.69 L273.05,395.65 M279.35,393.30 L274.32,397.26 M280.62,394.91 L275.59,398.87 M281.89,396.52 L276.86,400.48 M283.16,398.13 L278.13,402.09 M284.43,399.74 L279.40,403.70 M285.70,401.35 L280.67,405.31 M286.96,402.96 L281.94,406.92 M288.23,404.57 L283.21,408.53 M289.50,406.18 L284.48,410.14 M290.77,407.79 L285.75,411.75 M292.04,409.40 L287.01,413.36 M293.31,411.01 L288.28,414.97 M294.58,412.62 L289.55,416.58 M295.85,414.23 L290.82,418.19 M297.12,415.84 L292.09,419.80 M298.39,417.45 L293.36,421.41 M299.66,419.06 L294.63,423.02 M300.92,420.67 L295.90,424.63 M302.19,422.28 L297.17,426.24 M303.46,423.89 L298.44,427.85 M304.73,425.50 L299.71,429.46 M306.00,427.11 L300.98,431.07 M307.27,428.72 L302.24,432.68 M308.54,430.33 L303.51,434.29 M309.81,431.94 L304.78,435.90 M311.08,433.55 L306.05,437.51 M312.35,435.16 L307.32,439.12 " stroke="#e0e0e0" stroke-width="1.0" fill="none" />
<line x1="258.45" y1="371.96" x2="311.21" y2="438.89" stroke="#e8e8e8" stroke-width="0.9"/>
<line x1="309.00" y1="441.70" x2="380.60" y2="384.40" stroke="#bcbcbc" stroke-width="0.8"/>
<line x1="310.20" y1="443.20" x2="381.80" y2="385.90" stroke="#bcbcbc" stroke-width="0.8"/>
<path d="M369.25,393.10 L330.75,424.60 L323.78,416.09 L362.28,384.59Z" stroke="#e0e0e0" stroke-width="0.7" fill="none" />
<path d="M367.98,392.97 L330.88,423.33 L325.05,416.21 L362.16,385.85Z" stroke="#e0e0e0" stroke-width="0.5" fill="none" />
<path d="M366.69,393.13 L361.75,387.09 M365.10,394.43 L360.16,388.39 M363.52,395.72 L358.58,389.69 M361.93,397.02 L356.99,390.99 M360.34,398.32 L355.40,392.28 M358.76,399.62 L353.82,393.58 M357.17,400.92 L352.23,394.88 M355.58,402.22 L350.64,396.18 M354.00,403.51 L349.06,397.48 M352.41,404.81 L347.47,398.77 M350.82,406.11 L345.88,400.07 M349.24,407.41 L344.30,401.37 M347.65,408.71 L342.71,402.67 M346.06,410.00 L341.12,403.97 M344.48,411.30 L339.54,405.27 M342.89,412.60 L337.95,406.56 M341.30,413.90 L336.36,407.86 M339.72,415.20 L334.78,409.16 M338.13,416.49 L333.19,410.46 M336.54,417.79 L331.60,411.76 M334.96,419.09 L330.02,413.05 M333.37,420.39 L328.43,414.35 M331.78,421.69 L326.84,415.65 " stroke="#e0e0e0" stroke-width="1.0" fill="none" />
<line x1="364.99" y1="389.48" x2="328.04" y2="419.71" stroke="#e8e8e8" stroke-width="0.9"/>
<path d="M331.60,426.60 L370.40,395.60 L377.58,404.58 L338.78,435.58Z" stroke="#e0e0e0" stroke-width="0.7" fill="none" />
<path d="M332.86,426.74 L370.26,396.86 L376.31,404.44 L338.92,434.32Z" stroke="#e0e0e0" stroke-width="0.5" fill="none" />
<path d="M334.16,426.60 L339.34,433.09 M335.76,425.32 L340.94,431.81 M337.36,424.04 L342.55,430.53 M338.97,422.76 L344.15,429.25 M340.57,421.48 L345.75,427.97 M342.17,420.20 L347.35,426.69 M343.77,418.92 L348.95,425.41 M345.37,417.64 L350.55,424.13 M346.97,416.36 L352.15,422.85 M348.58,415.09 L353.76,421.57 M350.18,413.81 L355.36,420.29 M351.78,412.53 L356.96,419.01 M353.38,411.25 L358.56,417.73 M354.98,409.97 L360.16,416.45 M356.58,408.69 L361.76,415.17 M358.19,407.41 L363.37,413.89 M359.79,406.13 L364.97,412.61 M361.39,404.85 L366.57,411.33 M362.99,403.57 L368.17,410.05 M364.59,402.29 L369.77,408.77 M366.19,401.01 L371.37,407.49 M367.79,399.73 L372.98,406.21 M369.40,398.45 L374.58,404.93 " stroke="#e0e0e0" stroke-width="1.0" fill="none" />
<line x1="335.97" y1="430.47" x2="373.21" y2="400.72" stroke="#e8e8e8" stroke-width="0.9"/>
<path d="M377.50,405.00 L403.50,431.00 L397.14,437.36 L371.14,411.36Z" stroke="#e0e0e0" stroke-width="0.7" fill="none" />
<path d="M377.50,406.27 L402.23,431.00 L397.14,436.09 L372.41,411.36Z" stroke="#e0e0e0" stroke-width="0.5" fill="none" />
<path d="M377.78,407.55 L373.68,411.65 M379.23,409.00 L375.13,413.10 M380.68,410.44 L376.58,414.55 M382.13,411.89 L378.03,416.00 M383.58,413.34 L379.48,417.45 M385.03,414.79 L380.93,418.89 M386.48,416.24 L382.38,420.34 M387.93,417.69 L383.83,421.79 M389.38,419.14 L385.28,423.24 M390.83,420.59 L386.73,424.69 M392.28,422.04 L388.18,426.14 M393.73,423.49 L389.63,427.59 M395.18,424.94 L391.08,429.04 M396.63,426.39 L392.53,430.49 M398.08,427.84 L393.98,431.94 M399.53,429.29 L395.43,433.39 M400.98,430.74 L396.87,434.84 " stroke="#e0e0e0" stroke-width="1.0" fill="none" />
<line x1="375.03" y1="408.89" x2="399.61" y2="433.47" stroke="#e8e8e8" stroke-width="0.9"/>
<path d="M413.00,438.80 L380.00,465.00 L373.78,457.17 L406.78,430.97Z" stroke="#e0e0e0" stroke-width="0.7" fill="none" />
<path d="M411.74,438.65 L380.15,463.74 L375.05,457.31 L406.64,432.23Z" stroke="#e0e0e0" stroke-width="0.5" fill="none" />
<path d="M410.44,438.79 L406.21,433.46 M408.83,440.07 L404.61,434.74 M407.23,441.34 L403.00,436.01 M405.62,442.61 L401.39,437.29 M404.02,443.89 L399.79,438.56 M402.41,445.16 L398.18,439.84 M400.81,446.44 L396.58,441.11 M399.20,447.71 L394.97,442.39 M397.59,448.99 L393.37,443.66 M395.99,450.26 L391.76,444.94 M394.38,451.54 L390.16,446.21 M392.78,452.81 L388.55,447.49 M391.17,454.09 L386.94,448.76 M389.57,455.36 L385.34,450.04 M387.96,456.64 L383.73,451.31 M386.36,457.91 L382.13,452.59 M384.75,459.19 L380.52,453.86 M383.14,460.46 L378.92,455.13 M381.54,461.73 L377.31,456.41 " stroke="#e0e0e0" stroke-width="1.0" fill="none" />
<line x1="409.11" y1="435.51" x2="377.67" y2="460.46" stroke="#e8e8e8" stroke-width="0.9"/>
<line x1="247.00" y1="365.40" x2="262.50" y2="368.50" stroke="#bcbcbc" stroke-width="0.6"/>
<path d="M316.00,367.50 C313.33,367.58 304.33,367.67 300.00,368.00 C295.67,368.33 293.50,368.50 290.00,369.50 C286.50,370.50 281.83,372.25 279.00,374.00 C276.17,375.75 274.42,377.33 273.00,380.00 C271.58,382.67 270.92,388.33 270.50,390.00" stroke="#bcbcbc" stroke-width="0.7" fill="none" />
<circle cx="288.00" cy="379.40" r="4.50" stroke="#bcbcbc" stroke-width="0.8" fill="none"/>
<circle cx="338.00" cy="386.90" r="4.40" stroke="#bcbcbc" stroke-width="0.8" fill="none"/>
<circle cx="288.00" cy="379.40" r="3.80" stroke="#bcbcbc" stroke-width="0.4" fill="none"/>
<circle cx="353.00" cy="380.60" r="1.80" stroke="#bcbcbc" stroke-width="0.6" fill="none"/>
<path d="M358.85,383.56 L357.49,383.84 L358.13,385.17 L356.56,384.53 L355.30,385.93 L355.38,384.40 L353.46,384.93 L354.49,383.41 L353.05,382.38 L354.50,382.19 L353.88,380.65 L355.53,381.45 L356.11,379.57 L356.60,381.85 L358.19,381.09 L357.35,382.44Z" fill="#ededed" stroke="#ededed" stroke-width="0.4"/>
<path d="M337.50,366.20 C338.92,366.58 343.58,367.37 346.00,368.50 C348.42,369.63 350.08,371.50 352.00,373.00 C353.92,374.50 355.50,375.50 357.50,377.50 C359.50,379.50 361.92,382.42 364.00,385.00 C366.08,387.58 369.00,391.67 370.00,393.00" stroke="#bcbcbc" stroke-width="0.8" fill="none" />
<text transform="translate(305.60 392.40) rotate(-80) scale(1.0 1)" font-size="3.8" fill="#d6d6d6" stroke="#d6d6d6" stroke-width="0.18" text-anchor="middle"><tspan x="0" y="-5.42">HIS</tspan><tspan x="0" y="-0.92">WALK-IN</tspan><tspan x="0" y="3.58">WARDROBE</tspan><tspan x="0" y="8.08">4.1 X 4.1 M</tspan></text>
<path d="M363.2,372 Q376,365 390,369.4" stroke="#bcbcbc" stroke-width="0.6" fill="none" stroke-dasharray="1.2 0.6"/>
<line x1="363.20" y1="372.00" x2="376.50" y2="385.50" stroke="#bcbcbc" stroke-width="0.7"/>
<line x1="376.50" y1="385.50" x2="398.00" y2="366.50" stroke="#bcbcbc" stroke-width="0.7"/>
<path d="M318.00,439.00 C318.67,440.33 320.50,444.17 322.00,447.00 C323.50,449.83 325.00,454.00 327.00,456.00 C329.00,458.00 331.25,458.67 334.00,459.00 C336.75,459.33 341.92,458.17 343.50,458.00" stroke="#bcbcbc" stroke-width="0.7" fill="none" />
<circle cx="334.00" cy="454.50" r="4.50" stroke="#bcbcbc" stroke-width="0.8" fill="none"/>
<circle cx="358.00" cy="463.00" r="15.00" stroke="#bcbcbc" stroke-width="0.8" fill="none"/>
<text transform="translate(369.50 435.00) rotate(-80) scale(1.0 1)" font-size="3.8" fill="#d6d6d6" stroke="#d6d6d6" stroke-width="0.18" text-anchor="middle"><tspan x="0" y="-5.42">HIS</tspan><tspan x="0" y="-0.92">WALK-IN</tspan><tspan x="0" y="3.58">WARDROBE</tspan><tspan x="0" y="8.08">4.0 X 4.0 M</tspan></text>
<line x1="347.00" y1="493.50" x2="416.00" y2="440.20" stroke="#bcbcbc" stroke-width="0.8"/>
<line x1="348.30" y1="495.00" x2="417.20" y2="441.70" stroke="#bcbcbc" stroke-width="0.8"/>
<line x1="467.80" y1="366.90" x2="467.80" y2="411.70" stroke="#bcbcbc" stroke-width="0.8"/>
<line x1="491.80" y1="366.90" x2="491.80" y2="411.70" stroke="#bcbcbc" stroke-width="0.8"/>
<line x1="493.30" y1="366.90" x2="493.30" y2="411.70" stroke="#bcbcbc" stroke-width="0.8"/>
<line x1="526.30" y1="366.90" x2="526.30" y2="411.70" stroke="#bcbcbc" stroke-width="0.8"/>
<line x1="527.80" y1="366.90" x2="527.80" y2="411.70" stroke="#bcbcbc" stroke-width="0.8"/>
<path d="M468.5,367.8 L491.8,367.8" stroke="#bcbcbc" stroke-width="0.6" fill="none" stroke-dasharray="1.5 1"/>
<path d="M470.8,411.5 L470.8,393.3 A18.3,18.3 0 0 1 489.2,411.5" stroke="#bcbcbc" stroke-width="0.6" fill="none" stroke-dasharray="1.2 0.7"/>
<rect x="494.20" y="367.60" width="11.20" height="11.20" rx="0.00" stroke="#bcbcbc" stroke-width="0.8" fill="none"/>
<circle cx="499.80" cy="373.20" r="4.20" stroke="#bcbcbc" stroke-width="0.7" fill="none"/>
<line x1="496.70" y1="376.30" x2="502.90" y2="370.10" stroke="#bcbcbc" stroke-width="0.5"/>
<rect x="506.00" y="367.60" width="11.20" height="11.20" rx="0.00" stroke="#bcbcbc" stroke-width="0.8" fill="none"/>
<circle cx="511.60" cy="373.20" r="4.20" stroke="#bcbcbc" stroke-width="0.7" fill="none"/>
<line x1="508.50" y1="376.30" x2="514.70" y2="370.10" stroke="#bcbcbc" stroke-width="0.5"/>
<rect x="518.80" y="367.60" width="7.40" height="20.80" rx="0.00" stroke="#bcbcbc" stroke-width="0.7" fill="none"/>
<line x1="518.80" y1="367.60" x2="526.20" y2="388.40" stroke="#bcbcbc" stroke-width="0.5"/>
<line x1="526.20" y1="367.60" x2="518.80" y2="388.40" stroke="#bcbcbc" stroke-width="0.5"/>
<rect x="494.20" y="378.80" width="24.60" height="0.01" rx="0.00" stroke="#bcbcbc" stroke-width="0.6" fill="none"/>
<path d="M496.3,411.5 L496.3,396.2 A15.6,15.6 0 0 1 511.9,411.5" stroke="#bcbcbc" stroke-width="0.6" fill="none" stroke-dasharray="1.2 0.7"/>
<rect x="518.80" y="390.80" width="6.80" height="19.50" rx="3.20" stroke="#bcbcbc" stroke-width="0.8" fill="none"/>
<path d="M520.5,395 Q522,399 524,397" stroke="#bcbcbc" stroke-width="0.6" fill="none" />
<circle cx="522.30" cy="394.50" r="1.00" stroke="#eee" stroke-width="0.5" fill="#eee"/>
<text transform="translate(510.80 392.20) rotate(-75) scale(1.0 1)" font-size="3.9" fill="#d6d6d6" stroke="#d6d6d6" stroke-width="0.18" text-anchor="middle"><tspan x="0" y="-0.93">LAUND.</tspan><tspan x="0" y="3.67">3.2 X 1.7 M</tspan></text>
<line x1="527.80" y1="390.80" x2="566.20" y2="390.80" stroke="#bcbcbc" stroke-width="0.8"/>
<line x1="527.80" y1="392.30" x2="566.20" y2="392.30" stroke="#bcbcbc" stroke-width="0.8"/>
<rect x="532.00" y="374.00" width="9.50" height="7.80" rx="1.00" stroke="#bcbcbc" stroke-width="0.8" fill="none"/>
<rect x="533.50" y="375.30" width="6.50" height="5.20" rx="1.50" stroke="#bcbcbc" stroke-width="0.6" fill="none"/>
<line x1="531.00" y1="369.00" x2="531.00" y2="386.00" stroke="#bcbcbc" stroke-width="0.6"/>
<rect x="527.80" y="392.30" width="10.00" height="15.00" rx="0.00" stroke="#bcbcbc" stroke-width="0.7" fill="none"/>
<rect x="529.50" y="396.00" width="6.50" height="7.00" rx="1.00" stroke="#bcbcbc" stroke-width="0.6" fill="none"/>
<circle cx="532.80" cy="399.50" r="1.20" stroke="#bcbcbc" stroke-width="0.5" fill="none"/>
<path d="M547,391 A15,15 0 0 1 562,376" stroke="#bcbcbc" stroke-width="0.6" fill="none" stroke-dasharray="1.2 0.7"/>
<line x1="562.00" y1="376.00" x2="562.00" y2="391.00" stroke="#bcbcbc" stroke-width="0.9"/>
<text transform="translate(554.20 391.50) rotate(-75) scale(1.0 1)" font-size="3.9" fill="#d6d6d6" stroke="#d6d6d6" stroke-width="0.18" text-anchor="middle"><tspan x="0" y="-0.93">POWDER</tspan><tspan x="0" y="3.67">2.2 X 2.2 M</tspan></text>
<circle cx="534.50" cy="369.00" r="1.20" stroke="#eee" stroke-width="0.5" fill="#eee"/>
<line x1="566.20" y1="366.90" x2="566.20" y2="411.70" stroke="#bcbcbc" stroke-width="0.8"/>
<line x1="567.70" y1="366.90" x2="567.70" y2="411.70" stroke="#bcbcbc" stroke-width="0.8"/>
<path d="M567.7,367.8 L597.8,367.8" stroke="#bcbcbc" stroke-width="0.6" fill="none" stroke-dasharray="1.5 1"/>
<line x1="597.80" y1="366.90" x2="597.80" y2="411.70" stroke="#bcbcbc" stroke-width="0.8"/>
<line x1="609.80" y1="366.90" x2="609.80" y2="413.00" stroke="#bcbcbc" stroke-width="0.8"/>
<rect x="593.30" y="370.50" width="4.50" height="38.30" rx="0.00" stroke="#bcbcbc" stroke-width="0.7" fill="none"/>
<path d="M593.3,380 Q588,389.5 593.3,399" stroke="#bcbcbc" stroke-width="0.7" fill="none" />
<rect x="594.30" y="372.00" width="2.50" height="3.00" rx="0.50" stroke="#bcbcbc" stroke-width="0.5" fill="none"/>
<rect x="594.30" y="403.00" width="2.50" height="3.00" rx="0.50" stroke="#bcbcbc" stroke-width="0.5" fill="none"/>
<line x1="459.40" y1="411.70" x2="624.00" y2="411.70" stroke="#bcbcbc" stroke-width="0.8"/>
<line x1="459.40" y1="413.20" x2="624.00" y2="413.20" stroke="#bcbcbc" stroke-width="0.8"/>
<path d="M526.2,413.2 L526.2,453.8" stroke="#bcbcbc" stroke-width="1.5" fill="none" stroke-dasharray="2 1.2"/>
<path d="M526.2,413.2 L526.2,453.8" stroke="#000" stroke-width="0.5" fill="none" stroke-dasharray="2 1.2"/>
<line x1="600.00" y1="449.60" x2="621.50" y2="449.60" stroke="#bcbcbc" stroke-width="1.4"/>
<path d="M600,449 A22.3,22.3 0 0 1 622.3,428.6" stroke="#bcbcbc" stroke-width="0.6" fill="none" stroke-dasharray="1.2 0.7"/>
<rect x="620.00" y="449.60" width="3.60" height="4.00" rx="0.00" stroke="#bcbcbc" stroke-width="0.6" fill="none"/>
<rect x="619.30" y="413.30" width="4.40" height="4.30" rx="0.00" stroke="#bcbcbc" stroke-width="0.6" fill="none"/>
<path d="M609.5,418 A13,13 0 0 0 622.3,429" stroke="#bcbcbc" stroke-width="0.6" fill="none" stroke-dasharray="1.2 0.7"/>
<line x1="609.50" y1="417.40" x2="619.30" y2="417.40" stroke="#bcbcbc" stroke-width="1.3"/>
<line x1="618.50" y1="413.20" x2="618.50" y2="416.80" stroke="#bcbcbc" stroke-width="0.6"/>
<path d="M623.8,430.5 L627.8,425.4 L627.8,436.5 Z" stroke="#f0f0f0" stroke-width="0.6" fill="#f0f0f0" />
<text transform="translate(633.20 431.20) rotate(-90) scale(1.0 1)" font-size="5.4" fill="#d6d6d6" stroke="#d6d6d6" stroke-width="0.1" text-anchor="middle"><tspan x="0" y="1.89">01</tspan></text>
<rect x="575.60" y="422.80" width="6.60" height="19.20" rx="3.20" stroke="#bcbcbc" stroke-width="0.8" fill="none"/>
<text transform="translate(578.90 432.40) rotate(-90) scale(1.0 1)" font-size="2.4" fill="#d6d6d6" stroke="#d6d6d6" stroke-width="0.18" text-anchor="middle"><tspan x="0" y="0.84">SHELF</tspan></text>
<text transform="translate(559.00 433.20) rotate(-75) scale(1.0 1)" font-size="4.0" fill="#d6d6d6" stroke="#d6d6d6" stroke-width="0.18" text-anchor="middle"><tspan x="0" y="-3.50">ENTRANCE</tspan><tspan x="0" y="1.40">FOYER</tspan><tspan x="0" y="6.30">4.9 X 2.5 M</tspan></text>
<path d="M379.50,500.00 C379.83,497.37 381.50,494.12 383.00,492.50 C384.50,490.88 386.08,489.55 388.50,490.30 C390.92,491.05 394.25,493.63 397.50,497.00 C400.75,500.37 405.25,506.50 408.00,510.50 C410.75,514.50 412.75,517.75 414.00,521.00 C415.25,524.25 415.87,527.25 415.50,530.00 C415.13,532.75 413.80,535.87 411.80,537.50 C409.80,539.13 406.63,539.80 403.50,539.80 C400.37,539.80 395.12,539.13 393.00,537.50 C390.88,535.87 390.30,532.12 390.80,530.00 C391.30,527.88 396.13,526.80 396.00,524.80 C395.87,522.80 392.50,520.75 390.00,518.00 C387.50,515.25 382.75,511.30 381.00,508.30 C379.25,505.30 379.17,502.63 379.50,500.00Z" stroke="#bcbcbc" stroke-width="0.8" fill="none" />
<line x1="396.00" y1="524.80" x2="411.00" y2="520.30" stroke="#bcbcbc" stroke-width="0.7"/>
<g transform="translate(401.20 490.60) rotate(5)">
<path d="M-4.25,-3.50 L-3.65,4.50 L3.65,4.50 L4.25,-3.50 Q0,-5.50 -4.25,-3.50" stroke="#bcbcbc" stroke-width="0.7" fill="none" />
</g>
<g transform="translate(417.80 514.60) rotate(5)">
<path d="M-4.25,-3.50 L-3.65,4.50 L3.65,4.50 L4.25,-3.50 Q0,-5.50 -4.25,-3.50" stroke="#bcbcbc" stroke-width="0.7" fill="none" />
</g>
<g transform="translate(398.20 533.00) rotate(40)">
<path d="M-4.75,-3.50 L-4.15,4.50 L4.15,4.50 L4.75,-3.50 Q0,-5.50 -4.75,-3.50" stroke="#bcbcbc" stroke-width="0.7" fill="none" />
</g>
<g transform="translate(381 521.4) rotate(45)">
<rect x="-5.50" y="-5.50" width="11.00" height="11.00" rx="2.00" stroke="#bcbcbc" stroke-width="0.8" fill="none"/>
<rect x="-4.00" y="-2.50" width="8.00" height="7.00" rx="1.00" stroke="#bcbcbc" stroke-width="0.6" fill="none"/>
<path d="M-5,-3 Q0,-6 5,-3" stroke="#bcbcbc" stroke-width="0.6" fill="none" />
</g>
<path d="M373.23,488.96 Q375.31,487.69 377.78,489.53 Q374.93,490.70 373.23,488.96 M373.54,489.00 L376.91,489.42 M372.97,489.58 Q375.09,489.51 376.12,492.11 Q373.36,491.67 372.97,489.58 M373.21,489.77 L375.50,491.62 M372.44,489.96 Q374.56,491.23 374.08,494.30 Q371.69,492.31 372.44,489.96 M372.55,490.25 L373.77,493.48 M371.49,489.93 Q372.08,492.17 369.69,493.91 Q369.42,490.96 371.49,489.93 M371.36,490.21 L370.03,493.15 M371.13,489.68 Q370.84,492.18 367.81,493.03 Q368.63,490.00 371.13,489.68 M370.91,489.90 L368.44,492.40 M370.78,489.01 Q369.45,490.62 366.85,489.67 Q368.99,487.93 370.78,489.01 M370.47,489.06 L367.62,489.54 M370.82,488.40 Q368.47,489.25 366.39,486.91 Q369.46,486.31 370.82,488.40 M370.53,488.31 L367.23,487.20 M371.44,487.70 Q369.25,486.71 369.39,483.68 Q371.93,485.35 371.44,487.70 M371.30,487.42 L369.78,484.45 M372.00,487.56 Q370.52,485.75 371.99,483.14 Q373.47,485.74 372.00,487.56 M372.00,487.25 L371.99,483.99 M372.59,487.71 Q372.17,485.11 374.93,483.39 Q375.00,486.64 372.59,487.71 M372.74,487.44 L374.49,484.20 M373.11,488.24 Q374.10,486.06 377.14,486.22 Q375.45,488.75 373.11,488.24 M373.39,488.10 L376.37,486.61 " stroke="#ededed" stroke-width="0.6" fill="none" />
<path d="M373.98,488.80 L372.89,489.23 L373.24,490.35 L372.22,489.77 L371.56,490.73 L371.38,489.58 L370.21,489.66 L371.01,488.80 L370.21,487.94 L371.38,488.02 L371.56,486.87 L372.22,487.83 L373.24,487.25 L372.89,488.37Z" fill="#ededed"/>
<g transform="translate(445.50 465.50) rotate(55)">
<path d="M-6.75,-5.80 L-6.75,6.00 Q-6.75,7.00 -5.75,7.00 L5.75,7.00 Q6.75,7.00 6.75,6.00 L6.75,-5.80 Q0,-8.60 -6.75,-5.80 Z" stroke="#bcbcbc" stroke-width="0.75" fill="none" />
<path d="M-6.15,-3.80 Q0,-5.40 6.15,-3.80" stroke="#bcbcbc" stroke-width="0.6" fill="none" />
<path d="M-5.15,-4.00 L-5.15,6.40 M5.15,-4.00 L5.15,6.40" stroke="#bcbcbc" stroke-width="0.5" fill="none" />
</g>
<g transform="translate(446.60 494.40) rotate(125)">
<path d="M-6.75,-5.80 L-6.75,6.00 Q-6.75,7.00 -5.75,7.00 L5.75,7.00 Q6.75,7.00 6.75,6.00 L6.75,-5.80 Q0,-8.60 -6.75,-5.80 Z" stroke="#bcbcbc" stroke-width="0.75" fill="none" />
<path d="M-6.15,-3.80 Q0,-5.40 6.15,-3.80" stroke="#bcbcbc" stroke-width="0.6" fill="none" />
<path d="M-5.15,-4.00 L-5.15,6.40 M5.15,-4.00 L5.15,6.40" stroke="#bcbcbc" stroke-width="0.5" fill="none" />
</g>
<path d="M434.6,479.3 Q435.5,475.8 438.3,477.6 Q441.3,475.8 442.3,479.3 Q441.6,483.3 438.3,485.6 Q435,483.3 434.6,479.3Z" stroke="#bcbcbc" stroke-width="0.7" fill="none" />
<text transform="translate(416.80 485.00) rotate(-75) scale(1.0 1)" font-size="3.4" fill="#d6d6d6" stroke="#d6d6d6" stroke-width="0.18" text-anchor="middle"><tspan x="0" y="-0.86">OFFICE</tspan><tspan x="0" y="3.24">4.8 X 4.4 M</tspan></text>
<path d="M405,455 Q417,461 429,452.8" stroke="#bcbcbc" stroke-width="0.6" fill="none" stroke-dasharray="1.3 0.6"/>
<line x1="405.00" y1="455.00" x2="415.50" y2="441.00" stroke="#bcbcbc" stroke-width="0.7"/>
<path d="M429,451.8 Q434,453.8 440,453.8 L456,453.8" stroke="#bcbcbc" stroke-width="0.8" fill="none" />
<line x1="456.00" y1="453.80" x2="456.00" y2="521.00" stroke="#bcbcbc" stroke-width="0.8"/>
<line x1="468.00" y1="455.30" x2="468.00" y2="501.50" stroke="#bcbcbc" stroke-width="0.8"/>
<line x1="456.00" y1="501.50" x2="468.00" y2="501.50" stroke="#bcbcbc" stroke-width="0.7"/>
<path d="M456.00,521.00 C455.50,522.00 454.67,524.42 453.00,527.00 C451.33,529.58 448.83,533.00 446.00,536.50 C443.17,540.00 439.83,543.75 436.00,548.00 C432.17,552.25 426.58,558.25 423.00,562.00 C419.42,565.75 415.92,569.08 414.50,570.50" stroke="#bcbcbc" stroke-width="0.8" fill="none" />
<path d="M468.00,501.50 C467.88,503.25 468.30,508.25 467.30,512.00 C466.30,515.75 464.38,520.00 462.00,524.00 C459.62,528.00 456.50,531.92 453.00,536.00 C449.50,540.08 444.67,544.67 441.00,548.50 C437.33,552.33 434.33,555.33 431.00,559.00 C427.67,562.67 422.67,568.58 421.00,570.50" stroke="#bcbcbc" stroke-width="0.8" fill="none" />
<path d="M422.50,551.50 C422.58,549.75 422.67,545.75 424.00,543.00 C425.33,540.25 428.12,537.58 430.50,535.00 C432.88,532.42 435.88,529.62 438.30,527.50 C440.72,525.38 442.80,522.97 445.00,522.30 C447.20,521.63 450.33,522.38 451.50,523.50 C452.67,524.62 452.92,526.75 452.00,529.00 C451.08,531.25 448.67,534.08 446.00,537.00 C443.33,539.92 439.00,543.75 436.00,546.50 C433.00,549.25 430.08,552.33 428.00,553.50 C425.92,554.67 424.42,553.83 423.50,553.50 C422.58,553.17 422.42,553.25 422.50,551.50Z" stroke="#bcbcbc" stroke-width="0.8" fill="none" />
<line x1="424.50" y1="551.70" x2="445.50" y2="528.50" stroke="#f2f2f2" stroke-width="1.3"/>
<line x1="431.00" y1="543.00" x2="433.00" y2="545.00" stroke="#bcbcbc" stroke-width="0.6"/>
<line x1="437.00" y1="536.00" x2="439.00" y2="538.00" stroke="#bcbcbc" stroke-width="0.6"/>
<line x1="471.00" y1="455.30" x2="471.00" y2="473.20" stroke="#bcbcbc" stroke-width="0.7"/>
<path d="M471,473.2 A19.6,19.6 0 0 0 490.6,453.8" stroke="#bcbcbc" stroke-width="0.6" fill="none" stroke-dasharray="1.3 0.6"/>
<rect x="502.60" y="525.40" width="12.30" height="9.60" rx="3.50" stroke="#bcbcbc" stroke-width="0.8" fill="none"/>
<circle cx="508.70" cy="530.20" r="2.40" stroke="#bcbcbc" stroke-width="0.6" fill="none"/>
<line x1="507.20" y1="530.20" x2="510.20" y2="530.20" stroke="#bcbcbc" stroke-width="0.5"/>
<line x1="508.70" y1="528.70" x2="508.70" y2="531.70" stroke="#bcbcbc" stroke-width="0.5"/>
<rect x="555.10" y="525.40" width="11.40" height="9.60" rx="3.50" stroke="#bcbcbc" stroke-width="0.8" fill="none"/>
<circle cx="560.80" cy="530.20" r="2.40" stroke="#bcbcbc" stroke-width="0.6" fill="none"/>
<line x1="559.30" y1="530.20" x2="562.30" y2="530.20" stroke="#bcbcbc" stroke-width="0.5"/>
<line x1="560.80" y1="528.70" x2="560.80" y2="531.70" stroke="#bcbcbc" stroke-width="0.5"/>
<rect x="514.90" y="525.40" width="39.40" height="10.00" rx="1.00" stroke="#bcbcbc" stroke-width="0.8" fill="none"/>
<rect x="517.50" y="527.00" width="15.80" height="7.00" rx="1.00" stroke="#bcbcbc" stroke-width="0.6" fill="none"/>
<rect x="535.00" y="527.00" width="17.50" height="7.00" rx="1.00" stroke="#bcbcbc" stroke-width="0.6" fill="none"/>
<rect x="515.80" y="535.00" width="38.40" height="31.50" rx="2.00" stroke="#bcbcbc" stroke-width="0.8" fill="none"/>
<rect x="517.00" y="536.30" width="36.00" height="29.00" rx="1.50" stroke="#bcbcbc" stroke-width="0.6" fill="none"/>
<path d="M517.3,536.2 Q540,537.5 553.3,547.3" stroke="#bcbcbc" stroke-width="0.6" fill="none" />
<path d="M513.6,550 L510.5,550 L510.5,582.3 L559.5,582.3 L559.5,550 L556.3,550" stroke="#bcbcbc" stroke-width="0.8" fill="none" />
<path d="M512,551.3 L512,581 L558,581 L558,551.3" stroke="#bcbcbc" stroke-width="0.6" fill="none" />
<rect x="521.00" y="574.40" width="28.90" height="15.70" rx="1.20" stroke="#bcbcbc" stroke-width="0.8" fill="none"/>
<line x1="535.90" y1="575.00" x2="535.90" y2="589.50" stroke="#bcbcbc" stroke-width="0.6"/>
<path d="M523,577 L523,588.5 M547.8,577 L547.8,588.5 M523,579 L547.8,579" stroke="#bcbcbc" stroke-width="0.5" fill="none" />
<path d="M508.5,610.5 L511,608.7 L533,608.2 L544,614.5 L560,624 L559.5,628 L553.5,627.5 Q525,617 508,612Z" stroke="#bcbcbc" stroke-width="0.7" fill="none" />
<line x1="514.00" y1="613.70" x2="545.50" y2="619.00" stroke="#f4f4f4" stroke-width="1.3"/>
<line x1="524.00" y1="614.20" x2="524.00" y2="616.70" stroke="#bcbcbc" stroke-width="0.6"/>
<line x1="536.00" y1="616.00" x2="536.00" y2="618.50" stroke="#bcbcbc" stroke-width="0.6"/>
<circle cx="485.10" cy="584.90" r="15.40" stroke="#bcbcbc" stroke-width="0.8" fill="none"/>
<path d="M437.00,550.80 C438.17,552.25 440.78,557.17 444.00,559.50 C447.22,561.83 451.05,564.22 456.30,564.80 C461.55,565.38 469.67,563.15 475.50,563.00 C481.33,562.85 486.92,562.43 491.30,563.90 C495.68,565.37 499.47,568.73 501.80,571.80 C504.13,574.87 505.02,578.80 505.30,582.30 C505.58,585.80 504.97,589.88 503.50,592.80 C502.03,595.72 498.83,597.77 496.50,599.80 C494.17,601.83 490.95,602.97 489.50,605.00 C488.05,607.03 488.08,610.83 487.80,612.00" stroke="#bcbcbc" stroke-width="0.7" fill="none" />
<path d="M447,556 Q446,548.5 453.5,547 Q461,546 463.5,551 Q464.5,558 460,563.5 Q452,566 447,556Z" stroke="#bcbcbc" stroke-width="0.8" fill="none" />
<path d="M449.5,556 Q449.5,550.5 454,550 Q459,549.7 460.5,553 Q461,558 458,561" stroke="#bcbcbc" stroke-width="0.6" fill="none" />
<circle cx="461.50" cy="548.50" r="0.90" stroke="#bcbcbc" stroke-width="0.5" fill="none"/>
<circle cx="434.40" cy="557.70" r="1.60" stroke="#bcbcbc" stroke-width="0.6" fill="none"/>
<line x1="434.20" y1="559.30" x2="433.30" y2="566.50" stroke="#bcbcbc" stroke-width="0.6"/>
<g transform="translate(449.8 570) rotate(20)">
<rect x="-3.60" y="-2.80" width="7.20" height="5.60" rx="0.40" stroke="#ddd" stroke-width="0.8" fill="#777"/>
</g>
<path d="M466.73,585.61 L464.61,585.63 L465.02,587.16 L463.58,586.40 L462.67,587.81 L462.61,586.21 L461.04,586.72 L461.72,585.55 L460.35,584.69 L461.88,584.18 L461.21,582.31 L462.95,583.41 L464.11,581.45 L464.00,583.29 L466.24,583.06 L464.95,584.28Z" fill="#ededed" stroke="#ededed" stroke-width="0.4"/>
<path d="M492.93,601.90 L491.97,602.16 L492.02,603.76 L490.88,602.75 L490.21,604.74 L489.78,602.69 L487.63,603.23 L488.83,602.08 L487.18,601.01 L488.98,600.61 L488.57,598.75 L489.87,600.01 L490.83,598.31 L491.21,600.03 L492.63,599.82 L491.66,601.06Z" fill="#ededed" stroke="#ededed" stroke-width="0.4"/>
<text transform="translate(482.00 538.30) rotate(-77) scale(1.0 1)" font-size="4.0" fill="#d6d6d6" stroke="#d6d6d6" stroke-width="0.18" text-anchor="middle"><tspan x="0" y="-1.00">BEDROOM</tspan><tspan x="0" y="3.80">3.60 X 5.3 M</tspan></text>
<line x1="566.20" y1="523.50" x2="566.20" y2="633.50" stroke="#bcbcbc" stroke-width="0.8"/>
<line x1="568.20" y1="523.50" x2="568.20" y2="633.50" stroke="#bcbcbc" stroke-width="0.8"/>
<line x1="495.20" y1="455.30" x2="495.20" y2="523.60" stroke="#bcbcbc" stroke-width="0.8"/>
<line x1="496.60" y1="455.30" x2="496.60" y2="523.60" stroke="#bcbcbc" stroke-width="0.8"/>
<line x1="496.80" y1="481.00" x2="496.80" y2="506.00" stroke="#dedede" stroke-width="1.2"/>
<path d="M498.00,456.20 L544.50,456.20 L544.50,466.40 L498.00,466.40Z" stroke="#e0e0e0" stroke-width="0.7" fill="none" />
<path d="M498.90,457.10 L543.60,457.10 L543.60,465.50 L498.90,465.50Z" stroke="#e0e0e0" stroke-width="0.5" fill="none" />
<path d="M500.00,457.80 L500.00,464.80 M502.05,457.80 L502.05,464.80 M504.10,457.80 L504.10,464.80 M506.15,457.80 L506.15,464.80 M508.20,457.80 L508.20,464.80 M510.25,457.80 L510.25,464.80 M512.30,457.80 L512.30,464.80 M514.35,457.80 L514.35,464.80 M516.40,457.80 L516.40,464.80 M518.45,457.80 L518.45,464.80 M520.50,457.80 L520.50,464.80 M522.55,457.80 L522.55,464.80 M524.60,457.80 L524.60,464.80 M526.65,457.80 L526.65,464.80 M528.70,457.80 L528.70,464.80 M530.75,457.80 L530.75,464.80 M532.80,457.80 L532.80,464.80 M534.85,457.80 L534.85,464.80 M536.90,457.80 L536.90,464.80 M538.95,457.80 L538.95,464.80 M541.00,457.80 L541.00,464.80 " stroke="#e0e0e0" stroke-width="1.0" fill="none" />
<line x1="499.00" y1="461.30" x2="543.50" y2="461.30" stroke="#e8e8e8" stroke-width="0.9"/>
<path d="M498.00,511.00 L544.50,511.00 L544.50,521.30 L498.00,521.30Z" stroke="#e0e0e0" stroke-width="0.7" fill="none" />
<path d="M498.90,511.90 L543.60,511.90 L543.60,520.40 L498.90,520.40Z" stroke="#e0e0e0" stroke-width="0.5" fill="none" />
<path d="M500.00,512.60 L500.00,519.70 M502.05,512.60 L502.05,519.70 M504.10,512.60 L504.10,519.70 M506.15,512.60 L506.15,519.70 M508.20,512.60 L508.20,519.70 M510.25,512.60 L510.25,519.70 M512.30,512.60 L512.30,519.70 M514.35,512.60 L514.35,519.70 M516.40,512.60 L516.40,519.70 M518.45,512.60 L518.45,519.70 M520.50,512.60 L520.50,519.70 M522.55,512.60 L522.55,519.70 M524.60,512.60 L524.60,519.70 M526.65,512.60 L526.65,519.70 M528.70,512.60 L528.70,519.70 M530.75,512.60 L530.75,519.70 M532.80,512.60 L532.80,519.70 M534.85,512.60 L534.85,519.70 M536.90,512.60 L536.90,519.70 M538.95,512.60 L538.95,519.70 M541.00,512.60 L541.00,519.70 " stroke="#e0e0e0" stroke-width="1.0" fill="none" />
<line x1="499.00" y1="516.15" x2="543.50" y2="516.15" stroke="#e8e8e8" stroke-width="0.9"/>
<path d="M545.60,520.80 L545.60,455.80 L556.10,455.80 L556.10,520.80Z" stroke="#e0e0e0" stroke-width="0.7" fill="none" />
<path d="M546.50,519.90 L546.50,456.70 L555.20,456.70 L555.20,519.90Z" stroke="#e0e0e0" stroke-width="0.5" fill="none" />
<path d="M547.20,518.80 L554.50,518.80 M547.20,516.75 L554.50,516.75 M547.20,514.70 L554.50,514.70 M547.20,512.65 L554.50,512.65 M547.20,510.60 L554.50,510.60 M547.20,508.55 L554.50,508.55 M547.20,506.50 L554.50,506.50 M547.20,504.45 L554.50,504.45 M547.20,502.40 L554.50,502.40 M547.20,500.35 L554.50,500.35 M547.20,498.30 L554.50,498.30 M547.20,496.25 L554.50,496.25 M547.20,494.20 L554.50,494.20 M547.20,492.15 L554.50,492.15 M547.20,490.10 L554.50,490.10 M547.20,488.05 L554.50,488.05 M547.20,486.00 L554.50,486.00 M547.20,483.95 L554.50,483.95 M547.20,481.90 L554.50,481.90 M547.20,479.85 L554.50,479.85 M547.20,477.80 L554.50,477.80 M547.20,475.75 L554.50,475.75 M547.20,473.70 L554.50,473.70 M547.20,471.65 L554.50,471.65 M547.20,469.60 L554.50,469.60 M547.20,467.55 L554.50,467.55 M547.20,465.50 L554.50,465.50 M547.20,463.45 L554.50,463.45 M547.20,461.40 L554.50,461.40 M547.20,459.35 L554.50,459.35 " stroke="#e0e0e0" stroke-width="1.0" fill="none" />
<line x1="550.85" y1="519.80" x2="550.85" y2="456.80" stroke="#e8e8e8" stroke-width="0.9"/>
<rect x="498.00" y="469.00" width="7.60" height="31.00" rx="0.80" stroke="#bcbcbc" stroke-width="0.8" fill="none"/>
<line x1="498.00" y1="479.00" x2="505.60" y2="479.00" stroke="#bcbcbc" stroke-width="0.6"/>
<line x1="498.00" y1="490.00" x2="505.60" y2="490.00" stroke="#bcbcbc" stroke-width="0.6"/>
<path d="M505.6,480.2 L508.8,480.2 A4.45,4.45 0 0 1 508.8,489.1 L505.6,489.1" stroke="#bcbcbc" stroke-width="0.8" fill="none" />
<text transform="translate(525.80 489.80) rotate(-86) scale(1.0 1)" font-size="3.7" fill="#d6d6d6" stroke="#d6d6d6" stroke-width="0.18" text-anchor="middle"><tspan x="0" y="-6.06">HIS</tspan><tspan x="0" y="-1.16">WALK-IN</tspan><tspan x="0" y="3.75">WARDROBE</tspan><tspan x="0" y="8.64">3.5 X 3.0 M</tspan></text>
<line x1="557.00" y1="455.30" x2="557.00" y2="523.60" stroke="#bcbcbc" stroke-width="0.8"/>
<line x1="558.60" y1="455.30" x2="558.60" y2="523.60" stroke="#bcbcbc" stroke-width="0.8"/>
<line x1="495.20" y1="521.80" x2="624.00" y2="521.80" stroke="#bcbcbc" stroke-width="0.8"/>
<line x1="495.20" y1="523.40" x2="624.00" y2="523.40" stroke="#bcbcbc" stroke-width="0.8"/>
<line x1="560.00" y1="456.00" x2="560.00" y2="469.50" stroke="#bcbcbc" stroke-width="0.7"/>
<path d="M560,469.8 A14.5,14.5 0 0 0 574.6,455.3" stroke="#bcbcbc" stroke-width="0.6" fill="none" stroke-dasharray="1.3 0.6"/>
<rect x="575.00" y="455.50" width="38.00" height="17.90" rx="0.00" stroke="#bcbcbc" stroke-width="0.8" fill="none"/>
<rect x="606.70" y="457.00" width="5.30" height="12.00" rx="2.00" stroke="#bcbcbc" stroke-width="0.6" fill="none"/>
<text transform="translate(585.30 475.50) rotate(-75) scale(1.0 1)" font-size="3.6" fill="#d6d6d6" stroke="#d6d6d6" stroke-width="0.18" text-anchor="middle"><tspan x="0" y="-0.89">BATH</tspan><tspan x="0" y="3.41">2.7 X 1.7 M</tspan></text>
<path d="M600.50,474.80 L612.00,474.80 L612.00,489.20 L600.50,489.20Z" stroke="#e0e0e0" stroke-width="0.7" fill="none" />
<path d="M601.40,475.70 L611.10,475.70 L611.10,488.30 L601.40,488.30Z" stroke="#e0e0e0" stroke-width="0.5" fill="none" />
<path d="M602.50,476.40 L602.50,487.60 M604.30,476.40 L604.30,487.60 M606.10,476.40 L606.10,487.60 M607.90,476.40 L607.90,487.60 M609.70,476.40 L609.70,487.60 " stroke="#e0e0e0" stroke-width="1.0" fill="none" />
<path d="M560,490.3 A8.2,8.2 0 0 1 576.4,490.3 Z" stroke="#bcbcbc" stroke-width="0.7" fill="none" />
<path d="M567.01,490.16 L560.85,489.41 M567.08,489.87 L561.28,487.68 M567.21,489.62 L562.11,486.10 M567.40,489.40 L563.29,484.76 M567.64,489.24 L564.76,483.75 M567.91,489.13 L566.43,483.12 M568.20,489.10 L568.20,482.90 M568.49,489.13 L569.97,483.12 M568.76,489.24 L571.64,483.75 M569.00,489.40 L573.11,484.76 M569.19,489.62 L574.29,486.10 M569.32,489.87 L575.12,487.68 M569.39,490.16 L575.55,489.41 " stroke="#dedede" stroke-width="0.85" fill="none" />
<path d="M560.8,479.5 Q561.5,475 564.5,474.8 Q567.5,475 568,479.5" stroke="#bcbcbc" stroke-width="0.6" fill="none" />
<line x1="558.60" y1="490.50" x2="613.50" y2="490.50" stroke="#bcbcbc" stroke-width="0.8"/>
<line x1="558.60" y1="491.60" x2="613.50" y2="491.60" stroke="#bcbcbc" stroke-width="0.8"/>
<rect x="560.00" y="498.80" width="6.00" height="9.70" rx="1.50" stroke="#bcbcbc" stroke-width="0.8" fill="none"/>
<rect x="561.00" y="500.50" width="4.00" height="5.50" rx="1.50" stroke="#bcbcbc" stroke-width="0.5" fill="none"/>
<text transform="translate(571.50 506.30) rotate(-75) scale(1.0 1)" font-size="3.5" fill="#d6d6d6" stroke="#d6d6d6" stroke-width="0.18" text-anchor="middle"><tspan x="0" y="-0.88">W.C.</tspan><tspan x="0" y="3.33">0.7 X 1.1 M</tspan></text>
<path d="M576.5,491.6 A16,16 0 0 0 592.5,507" stroke="#bcbcbc" stroke-width="0.6" fill="none" stroke-dasharray="1.3 0.6"/>
<rect x="579.00" y="508.00" width="7.70" height="8.00" rx="0.60" stroke="#bcbcbc" stroke-width="0.8" fill="none"/>
<rect x="580.30" y="509.50" width="5.00" height="5.00" rx="1.00" stroke="#bcbcbc" stroke-width="0.5" fill="none"/>
<rect x="569.00" y="517.40" width="24.60" height="4.20" rx="0.00" stroke="#bcbcbc" stroke-width="0.7" fill="none"/>
<rect x="592.30" y="491.60" width="4.00" height="23.00" rx="0.60" stroke="#ccc" stroke-width="0.8" fill="#777"/>
<rect x="596.40" y="491.60" width="16.60" height="23.00" rx="0.00" stroke="#bcbcbc" stroke-width="0.8" fill="none"/>
<rect x="595.70" y="510.50" width="17.30" height="11.00" rx="0.00" stroke="#bcbcbc" stroke-width="0.7" fill="none"/>
<path d="M597,514 Q604.5,519 612,514" stroke="#bcbcbc" stroke-width="0.6" fill="none" />
<line x1="604.50" y1="511.20" x2="604.50" y2="513.50" stroke="#bcbcbc" stroke-width="0.6"/>
<line x1="613.30" y1="454.00" x2="613.30" y2="634.00" stroke="#bcbcbc" stroke-width="0.8"/>
<line x1="614.60" y1="454.00" x2="614.60" y2="522.00" stroke="#bcbcbc" stroke-width="0.8"/>
<line x1="568.20" y1="553.20" x2="614.60" y2="553.20" stroke="#bcbcbc" stroke-width="0.8"/>
<line x1="568.20" y1="554.40" x2="614.60" y2="554.40" stroke="#bcbcbc" stroke-width="0.8"/>
<line x1="591.80" y1="523.40" x2="591.80" y2="553.20" stroke="#bcbcbc" stroke-width="0.8"/>
<line x1="593.00" y1="523.40" x2="593.00" y2="553.20" stroke="#bcbcbc" stroke-width="0.8"/>
<rect x="574.00" y="527.20" width="13.00" height="2.00" rx="0.40" stroke="#bcbcbc" stroke-width="0.7" fill="none"/>
<line x1="580.50" y1="526.30" x2="580.50" y2="530.00" stroke="#bcbcbc" stroke-width="0.6"/>
<text transform="translate(576.50 539.50) rotate(-75) scale(1.0 1)" font-size="2.6" fill="#d6d6d6" stroke="#d6d6d6" stroke-width="0.18" text-anchor="middle"><tspan x="0" y="0.91">SH.</tspan></text>
<path d="M577,553 A13,13 0 0 1 590.2,540" stroke="#bcbcbc" stroke-width="0.6" fill="none" stroke-dasharray="1.2 0.7"/>
<line x1="590.20" y1="540.00" x2="590.20" y2="553.00" stroke="#bcbcbc" stroke-width="1.0"/>
<rect x="600.50" y="528.40" width="6.90" height="9.60" rx="1.20" stroke="#bcbcbc" stroke-width="0.8" fill="none"/>
<rect x="601.70" y="530.00" width="4.50" height="5.50" rx="1.50" stroke="#bcbcbc" stroke-width="0.5" fill="none"/>
<rect x="601.00" y="526.30" width="6.00" height="1.60" rx="0.00" stroke="#bcbcbc" stroke-width="0.6" fill="none"/>
<text transform="translate(596.00 530.00) rotate(-75) scale(1.0 1)" font-size="2.4" fill="#d6d6d6" stroke="#d6d6d6" stroke-width="0.18" text-anchor="middle"><tspan x="0" y="0.84">W.C.</tspan></text>
<path d="M595,540 A13,13 0 0 1 608,553" stroke="#bcbcbc" stroke-width="0.6" fill="none" stroke-dasharray="1.2 0.7"/>
<line x1="595.00" y1="540.00" x2="595.00" y2="553.00" stroke="#bcbcbc" stroke-width="1.0"/>
<rect x="606.00" y="554.40" width="7.30" height="41.00" rx="0.00" stroke="#bcbcbc" stroke-width="0.7" fill="none"/>
<rect x="602.50" y="559.70" width="9.50" height="10.30" rx="0.80" stroke="#bcbcbc" stroke-width="0.8" fill="none"/>
<rect x="604.00" y="561.20" width="6.50" height="7.30" rx="0.50" stroke="#bcbcbc" stroke-width="0.5" fill="none"/>
<line x1="607.20" y1="562.70" x2="607.20" y2="566.70" stroke="#bcbcbc" stroke-width="0.5"/>
<line x1="605.00" y1="564.70" x2="609.50" y2="564.70" stroke="#bcbcbc" stroke-width="0.5"/>
<rect x="602.50" y="579.40" width="9.50" height="10.30" rx="0.80" stroke="#bcbcbc" stroke-width="0.8" fill="none"/>
<rect x="604.00" y="580.90" width="6.50" height="7.30" rx="0.50" stroke="#bcbcbc" stroke-width="0.5" fill="none"/>
<line x1="607.20" y1="582.40" x2="607.20" y2="586.40" stroke="#bcbcbc" stroke-width="0.5"/>
<line x1="605.00" y1="584.40" x2="609.50" y2="584.40" stroke="#bcbcbc" stroke-width="0.5"/>
<path d="M568.5,589 Q569,601.5 578,602.3 L599,602.3 Q604.5,601.5 604.4,592.5" stroke="#bcbcbc" stroke-width="0.7" fill="none" />
<g transform="translate(590.50 617.20) scale(1 -1)">
<circle cx="0.00" cy="0.00" r="15.70" stroke="#bcbcbc" stroke-width="0.8" fill="none"/>
<circle cx="0.00" cy="0.00" r="13.80" stroke="#bcbcbc" stroke-width="0.7" fill="none"/>
<path d="M-10.4,-5 L7.6,-5 Q9,-4.6 9,-3 L9,5 Q8,9.2 0,10.7 Q-8,9.6 -11,2 Q-11.6,-3 -10.4,-5 Z" stroke="#bcbcbc" stroke-width="0.75" fill="none" />
<path d="M-1,-14.2 L0,-10.2 L9.6,-10.2" stroke="#bcbcbc" stroke-width="0.6" fill="none" />
<path d="M-11.5,-7 L8.5,-7.3" stroke="#bcbcbc" stroke-width="0.6" fill="none" />
<circle cx="-11.90" cy="-5.90" r="0.85" stroke="#eee" stroke-width="0.3" fill="#eee"/>
<circle cx="-13.30" cy="1.00" r="0.85" stroke="#eee" stroke-width="0.3" fill="#eee"/>
<circle cx="-9.50" cy="8.80" r="0.85" stroke="#eee" stroke-width="0.3" fill="#eee"/>
<circle cx="0.00" cy="12.90" r="0.85" stroke="#eee" stroke-width="0.3" fill="#eee"/>
<circle cx="7.90" cy="-3.60" r="0.85" stroke="#eee" stroke-width="0.3" fill="#eee"/>
<circle cx="-8.00" cy="-7.10" r="0.60" stroke="#ddd" stroke-width="0.3" fill="#ddd"/>
<circle cx="-2.30" cy="-7.10" r="0.60" stroke="#ddd" stroke-width="0.3" fill="#ddd"/>
<circle cx="1.50" cy="-7.20" r="0.60" stroke="#ddd" stroke-width="0.3" fill="#ddd"/>
<circle cx="6.20" cy="-8.40" r="0.60" stroke="#ddd" stroke-width="0.3" fill="#ddd"/>
</g>
<text transform="translate(588.30 584.50) rotate(-75) scale(1.0 1)" font-size="3.7" fill="#d6d6d6" stroke="#d6d6d6" stroke-width="0.18" text-anchor="middle"><tspan x="0" y="-0.91">BATH</tspan><tspan x="0" y="3.50">4.8 X 2.8 M</tspan></text>
<line x1="568.20" y1="633.80" x2="614.00" y2="633.80" stroke="#bcbcbc" stroke-width="0.8"/></svg></body></html>
